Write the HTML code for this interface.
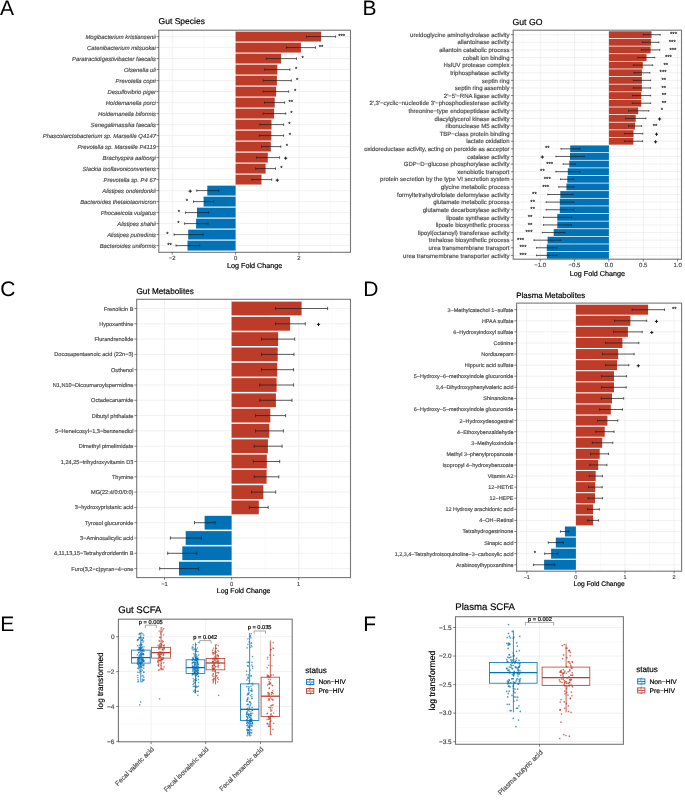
<!DOCTYPE html>
<html><head><meta charset="utf-8"><style>
html,body{margin:0;padding:0;background:#fff;}
body{width:685px;height:810px;overflow:hidden;font-family:"Liberation Sans",sans-serif;}
svg{display:block;will-change:transform;}
text{text-rendering:geometricPrecision;}
</style></head><body>
<svg width="685" height="810" viewBox="0 0 685 810" font-family="Liberation Sans, sans-serif">
<rect width="685" height="810" fill="#fff"/>
<line x1="203.9" y1="30.2" x2="203.9" y2="252.3" stroke="#F3F3F3" stroke-width="0.5"/>
<line x1="267.3" y1="30.2" x2="267.3" y2="252.3" stroke="#F3F3F3" stroke-width="0.5"/>
<line x1="330.7" y1="30.2" x2="330.7" y2="252.3" stroke="#F3F3F3" stroke-width="0.5"/>
<line x1="172.2" y1="30.2" x2="172.2" y2="252.3" stroke="#EBEBEB" stroke-width="0.7"/>
<line x1="235.6" y1="30.2" x2="235.6" y2="252.3" stroke="#EBEBEB" stroke-width="0.7"/>
<line x1="299" y1="30.2" x2="299" y2="252.3" stroke="#EBEBEB" stroke-width="0.7"/>
<line x1="158.8" y1="36.6" x2="350.5" y2="36.6" stroke="#EBEBEB" stroke-width="0.7"/>
<line x1="158.8" y1="47.6" x2="350.5" y2="47.6" stroke="#EBEBEB" stroke-width="0.7"/>
<line x1="158.8" y1="58.6" x2="350.5" y2="58.6" stroke="#EBEBEB" stroke-width="0.7"/>
<line x1="158.8" y1="69.6" x2="350.5" y2="69.6" stroke="#EBEBEB" stroke-width="0.7"/>
<line x1="158.8" y1="80.6" x2="350.5" y2="80.6" stroke="#EBEBEB" stroke-width="0.7"/>
<line x1="158.8" y1="91.6" x2="350.5" y2="91.6" stroke="#EBEBEB" stroke-width="0.7"/>
<line x1="158.8" y1="102.6" x2="350.5" y2="102.6" stroke="#EBEBEB" stroke-width="0.7"/>
<line x1="158.8" y1="113.6" x2="350.5" y2="113.6" stroke="#EBEBEB" stroke-width="0.7"/>
<line x1="158.8" y1="124.6" x2="350.5" y2="124.6" stroke="#EBEBEB" stroke-width="0.7"/>
<line x1="158.8" y1="135.6" x2="350.5" y2="135.6" stroke="#EBEBEB" stroke-width="0.7"/>
<line x1="158.8" y1="146.6" x2="350.5" y2="146.6" stroke="#EBEBEB" stroke-width="0.7"/>
<line x1="158.8" y1="157.6" x2="350.5" y2="157.6" stroke="#EBEBEB" stroke-width="0.7"/>
<line x1="158.8" y1="168.6" x2="350.5" y2="168.6" stroke="#EBEBEB" stroke-width="0.7"/>
<line x1="158.8" y1="179.6" x2="350.5" y2="179.6" stroke="#EBEBEB" stroke-width="0.7"/>
<line x1="158.8" y1="190.6" x2="350.5" y2="190.6" stroke="#EBEBEB" stroke-width="0.7"/>
<line x1="158.8" y1="201.6" x2="350.5" y2="201.6" stroke="#EBEBEB" stroke-width="0.7"/>
<line x1="158.8" y1="212.6" x2="350.5" y2="212.6" stroke="#EBEBEB" stroke-width="0.7"/>
<line x1="158.8" y1="223.6" x2="350.5" y2="223.6" stroke="#EBEBEB" stroke-width="0.7"/>
<line x1="158.8" y1="234.6" x2="350.5" y2="234.6" stroke="#EBEBEB" stroke-width="0.7"/>
<line x1="158.8" y1="245.6" x2="350.5" y2="245.6" stroke="#EBEBEB" stroke-width="0.7"/>
<rect x="235.6" y="31.65" width="85.5" height="9.9" fill="#BC3C29"/>
<rect x="235.6" y="42.65" width="65.3" height="9.9" fill="#BC3C29"/>
<rect x="235.6" y="53.65" width="45.4" height="9.9" fill="#BC3C29"/>
<rect x="235.6" y="64.65" width="41.7" height="9.9" fill="#BC3C29"/>
<rect x="235.6" y="75.65" width="41.3" height="9.9" fill="#BC3C29"/>
<rect x="235.6" y="86.65" width="40.5" height="9.9" fill="#BC3C29"/>
<rect x="235.6" y="97.65" width="39.1" height="9.9" fill="#BC3C29"/>
<rect x="235.6" y="108.65" width="38.5" height="9.9" fill="#BC3C29"/>
<rect x="235.6" y="119.65" width="35.9" height="9.9" fill="#BC3C29"/>
<rect x="235.6" y="130.65" width="35.7" height="9.9" fill="#BC3C29"/>
<rect x="235.6" y="141.65" width="35.2" height="9.9" fill="#BC3C29"/>
<rect x="235.6" y="152.65" width="32.2" height="9.9" fill="#BC3C29"/>
<rect x="235.6" y="163.65" width="30" height="9.9" fill="#BC3C29"/>
<rect x="235.6" y="174.65" width="25.9" height="9.9" fill="#BC3C29"/>
<rect x="207.3" y="185.65" width="28.3" height="9.9" fill="#0072B5"/>
<rect x="203.6" y="196.65" width="32" height="9.9" fill="#0072B5"/>
<rect x="197" y="207.65" width="38.6" height="9.9" fill="#0072B5"/>
<rect x="196.1" y="218.65" width="39.5" height="9.9" fill="#0072B5"/>
<rect x="188.2" y="229.65" width="47.4" height="9.9" fill="#0072B5"/>
<rect x="187.5" y="240.65" width="48.1" height="9.9" fill="#0072B5"/>
<line x1="306.5" y1="36.6" x2="335.6" y2="36.6" stroke="#1a1a1a" stroke-width="0.7"/>
<line x1="306.5" y1="35.39" x2="306.5" y2="37.81" stroke="#222" stroke-width="0.7"/>
<line x1="335.6" y1="35.39" x2="335.6" y2="37.81" stroke="#222" stroke-width="0.7"/>
<line x1="286.4" y1="47.6" x2="315.5" y2="47.6" stroke="#1a1a1a" stroke-width="0.7"/>
<line x1="286.4" y1="46.39" x2="286.4" y2="48.81" stroke="#222" stroke-width="0.7"/>
<line x1="315.5" y1="46.39" x2="315.5" y2="48.81" stroke="#222" stroke-width="0.7"/>
<line x1="266.3" y1="58.6" x2="296.5" y2="58.6" stroke="#1a1a1a" stroke-width="0.7"/>
<line x1="266.3" y1="57.39" x2="266.3" y2="59.81" stroke="#222" stroke-width="0.7"/>
<line x1="296.5" y1="57.39" x2="296.5" y2="59.81" stroke="#222" stroke-width="0.7"/>
<line x1="264.7" y1="69.6" x2="289.9" y2="69.6" stroke="#1a1a1a" stroke-width="0.7"/>
<line x1="264.7" y1="68.39" x2="264.7" y2="70.81" stroke="#222" stroke-width="0.7"/>
<line x1="289.9" y1="68.39" x2="289.9" y2="70.81" stroke="#222" stroke-width="0.7"/>
<line x1="263.3" y1="80.6" x2="291.3" y2="80.6" stroke="#1a1a1a" stroke-width="0.7"/>
<line x1="263.3" y1="79.39" x2="263.3" y2="81.81" stroke="#222" stroke-width="0.7"/>
<line x1="291.3" y1="79.39" x2="291.3" y2="81.81" stroke="#222" stroke-width="0.7"/>
<line x1="263.3" y1="91.6" x2="288.7" y2="91.6" stroke="#1a1a1a" stroke-width="0.7"/>
<line x1="263.3" y1="90.39" x2="263.3" y2="92.81" stroke="#222" stroke-width="0.7"/>
<line x1="288.7" y1="90.39" x2="288.7" y2="92.81" stroke="#222" stroke-width="0.7"/>
<line x1="264.5" y1="102.6" x2="284.6" y2="102.6" stroke="#1a1a1a" stroke-width="0.7"/>
<line x1="264.5" y1="101.39" x2="264.5" y2="103.81" stroke="#222" stroke-width="0.7"/>
<line x1="284.6" y1="101.39" x2="284.6" y2="103.81" stroke="#222" stroke-width="0.7"/>
<line x1="263.3" y1="113.6" x2="285.7" y2="113.6" stroke="#1a1a1a" stroke-width="0.7"/>
<line x1="263.3" y1="112.39" x2="263.3" y2="114.81" stroke="#222" stroke-width="0.7"/>
<line x1="285.7" y1="112.39" x2="285.7" y2="114.81" stroke="#222" stroke-width="0.7"/>
<line x1="259.8" y1="124.6" x2="283.6" y2="124.6" stroke="#1a1a1a" stroke-width="0.7"/>
<line x1="259.8" y1="123.39" x2="259.8" y2="125.81" stroke="#222" stroke-width="0.7"/>
<line x1="283.6" y1="123.39" x2="283.6" y2="125.81" stroke="#222" stroke-width="0.7"/>
<line x1="259.4" y1="135.6" x2="283.6" y2="135.6" stroke="#1a1a1a" stroke-width="0.7"/>
<line x1="259.4" y1="134.39" x2="259.4" y2="136.81" stroke="#222" stroke-width="0.7"/>
<line x1="283.6" y1="134.39" x2="283.6" y2="136.81" stroke="#222" stroke-width="0.7"/>
<line x1="261.5" y1="146.6" x2="280.8" y2="146.6" stroke="#1a1a1a" stroke-width="0.7"/>
<line x1="261.5" y1="145.39" x2="261.5" y2="147.81" stroke="#222" stroke-width="0.7"/>
<line x1="280.8" y1="145.39" x2="280.8" y2="147.81" stroke="#222" stroke-width="0.7"/>
<line x1="256.6" y1="157.6" x2="279.6" y2="157.6" stroke="#1a1a1a" stroke-width="0.7"/>
<line x1="256.6" y1="156.39" x2="256.6" y2="158.81" stroke="#222" stroke-width="0.7"/>
<line x1="279.6" y1="156.39" x2="279.6" y2="158.81" stroke="#222" stroke-width="0.7"/>
<line x1="255.7" y1="168.6" x2="275.5" y2="168.6" stroke="#1a1a1a" stroke-width="0.7"/>
<line x1="255.7" y1="167.39" x2="255.7" y2="169.81" stroke="#222" stroke-width="0.7"/>
<line x1="275.5" y1="167.39" x2="275.5" y2="169.81" stroke="#222" stroke-width="0.7"/>
<line x1="251.9" y1="179.6" x2="271.7" y2="179.6" stroke="#1a1a1a" stroke-width="0.7"/>
<line x1="251.9" y1="178.39" x2="251.9" y2="180.81" stroke="#222" stroke-width="0.7"/>
<line x1="271.7" y1="178.39" x2="271.7" y2="180.81" stroke="#222" stroke-width="0.7"/>
<line x1="196.7" y1="190.6" x2="218.7" y2="190.6" stroke="#1a1a1a" stroke-width="0.7"/>
<line x1="196.7" y1="189.39" x2="196.7" y2="191.81" stroke="#222" stroke-width="0.7"/>
<line x1="218.7" y1="189.39" x2="218.7" y2="191.81" stroke="#222" stroke-width="0.7"/>
<line x1="193.5" y1="201.6" x2="213.7" y2="201.6" stroke="#1a1a1a" stroke-width="0.7"/>
<line x1="193.5" y1="200.39" x2="193.5" y2="202.81" stroke="#222" stroke-width="0.7"/>
<line x1="213.7" y1="200.39" x2="213.7" y2="202.81" stroke="#222" stroke-width="0.7"/>
<line x1="185.5" y1="212.6" x2="208.6" y2="212.6" stroke="#1a1a1a" stroke-width="0.7"/>
<line x1="185.5" y1="211.39" x2="185.5" y2="213.81" stroke="#222" stroke-width="0.7"/>
<line x1="208.6" y1="211.39" x2="208.6" y2="213.81" stroke="#222" stroke-width="0.7"/>
<line x1="184.6" y1="223.6" x2="208" y2="223.6" stroke="#1a1a1a" stroke-width="0.7"/>
<line x1="184.6" y1="222.39" x2="184.6" y2="224.81" stroke="#222" stroke-width="0.7"/>
<line x1="208" y1="222.39" x2="208" y2="224.81" stroke="#222" stroke-width="0.7"/>
<line x1="174.1" y1="234.6" x2="203.2" y2="234.6" stroke="#1a1a1a" stroke-width="0.7"/>
<line x1="174.1" y1="233.39" x2="174.1" y2="235.81" stroke="#222" stroke-width="0.7"/>
<line x1="203.2" y1="233.39" x2="203.2" y2="235.81" stroke="#222" stroke-width="0.7"/>
<line x1="176" y1="245.6" x2="199.7" y2="245.6" stroke="#1a1a1a" stroke-width="0.7"/>
<line x1="176" y1="244.39" x2="176" y2="246.81" stroke="#222" stroke-width="0.7"/>
<line x1="199.7" y1="244.39" x2="199.7" y2="246.81" stroke="#222" stroke-width="0.7"/>
<text x="341.7" y="38.22" font-size="6" text-anchor="middle" fill="#000" stroke="#000" stroke-width="0.12">***</text>
<text x="321" y="49.22" font-size="6" text-anchor="middle" fill="#000" stroke="#000" stroke-width="0.12">**</text>
<text x="302.7" y="60.22" font-size="6" text-anchor="middle" fill="#000" stroke="#000" stroke-width="0.12">*</text>
<text x="296.2" y="71.22" font-size="6" text-anchor="middle" fill="#000" stroke="#000" stroke-width="0.12">*</text>
<text x="297.1" y="82.22" font-size="6" text-anchor="middle" fill="#000" stroke="#000" stroke-width="0.12">*</text>
<text x="295.1" y="93.22" font-size="6" text-anchor="middle" fill="#000" stroke="#000" stroke-width="0.12">*</text>
<text x="290.8" y="104.22" font-size="6" text-anchor="middle" fill="#000" stroke="#000" stroke-width="0.12">**</text>
<text x="291.3" y="115.22" font-size="6" text-anchor="middle" fill="#000" stroke="#000" stroke-width="0.12">*</text>
<text x="289.5" y="126.22" font-size="6" text-anchor="middle" fill="#000" stroke="#000" stroke-width="0.12">*</text>
<text x="289.9" y="137.22" font-size="6" text-anchor="middle" fill="#000" stroke="#000" stroke-width="0.12">*</text>
<text x="286.9" y="148.22" font-size="6" text-anchor="middle" fill="#000" stroke="#000" stroke-width="0.12">*</text>
<path d="M284.1,158.2 H287.3 M285.7,156.6 V159.8" stroke="#111" stroke-width="0.95" fill="none"/>
<text x="281.5" y="170.22" font-size="6" text-anchor="middle" fill="#000" stroke="#000" stroke-width="0.12">*</text>
<path d="M275.7,180.2 H278.9 M277.3,178.6 V181.8" stroke="#111" stroke-width="0.95" fill="none"/>
<path d="M188.6,191.2 H191.8 M190.2,189.6 V192.8" stroke="#111" stroke-width="0.95" fill="none"/>
<text x="186.9" y="203.22" font-size="6" text-anchor="middle" fill="#000" stroke="#000" stroke-width="0.12">*</text>
<text x="179" y="214.22" font-size="6" text-anchor="middle" fill="#000" stroke="#000" stroke-width="0.12">*</text>
<text x="178.3" y="225.22" font-size="6" text-anchor="middle" fill="#000" stroke="#000" stroke-width="0.12">*</text>
<text x="167.5" y="236.22" font-size="6" text-anchor="middle" fill="#000" stroke="#000" stroke-width="0.12">*</text>
<text x="169.6" y="247.22" font-size="6" text-anchor="middle" fill="#000" stroke="#000" stroke-width="0.12">**</text>
<rect x="158.8" y="30.2" width="191.7" height="222.1" fill="none" stroke="#777" stroke-width="1.1"/>
<line x1="156.5" y1="36.6" x2="158.8" y2="36.6" stroke="#333" stroke-width="0.6"/>
<text x="155.9" y="38.71" font-size="5.85" text-anchor="end" fill="#4D4D4D" stroke="#4D4D4D" stroke-width="0.18" font-style="italic">Mogibacterium kristiansenii</text>
<line x1="156.5" y1="47.6" x2="158.8" y2="47.6" stroke="#333" stroke-width="0.6"/>
<text x="155.9" y="49.71" font-size="5.85" text-anchor="end" fill="#4D4D4D" stroke="#4D4D4D" stroke-width="0.18" font-style="italic">Catenibacterium mitsuokai</text>
<line x1="156.5" y1="58.6" x2="158.8" y2="58.6" stroke="#333" stroke-width="0.6"/>
<text x="155.9" y="60.71" font-size="5.85" text-anchor="end" fill="#4D4D4D" stroke="#4D4D4D" stroke-width="0.18" font-style="italic">Paratractidigestivibacter faecalis</text>
<line x1="156.5" y1="69.6" x2="158.8" y2="69.6" stroke="#333" stroke-width="0.6"/>
<text x="155.9" y="71.71" font-size="5.85" text-anchor="end" fill="#4D4D4D" stroke="#4D4D4D" stroke-width="0.18" font-style="italic">Olsenella uli</text>
<line x1="156.5" y1="80.6" x2="158.8" y2="80.6" stroke="#333" stroke-width="0.6"/>
<text x="155.9" y="82.71" font-size="5.85" text-anchor="end" fill="#4D4D4D" stroke="#4D4D4D" stroke-width="0.18" font-style="italic">Prevotella copri</text>
<line x1="156.5" y1="91.6" x2="158.8" y2="91.6" stroke="#333" stroke-width="0.6"/>
<text x="155.9" y="93.71" font-size="5.85" text-anchor="end" fill="#4D4D4D" stroke="#4D4D4D" stroke-width="0.18" font-style="italic">Desulfovibrio piger</text>
<line x1="156.5" y1="102.6" x2="158.8" y2="102.6" stroke="#333" stroke-width="0.6"/>
<text x="155.9" y="104.71" font-size="5.85" text-anchor="end" fill="#4D4D4D" stroke="#4D4D4D" stroke-width="0.18" font-style="italic">Holdemanella porci</text>
<line x1="156.5" y1="113.6" x2="158.8" y2="113.6" stroke="#333" stroke-width="0.6"/>
<text x="155.9" y="115.71" font-size="5.85" text-anchor="end" fill="#4D4D4D" stroke="#4D4D4D" stroke-width="0.18" font-style="italic">Holdemanella biformis</text>
<line x1="156.5" y1="124.6" x2="158.8" y2="124.6" stroke="#333" stroke-width="0.6"/>
<text x="155.9" y="126.71" font-size="5.85" text-anchor="end" fill="#4D4D4D" stroke="#4D4D4D" stroke-width="0.18" font-style="italic">Senegalimassilia faecalis</text>
<line x1="156.5" y1="135.6" x2="158.8" y2="135.6" stroke="#333" stroke-width="0.6"/>
<text x="155.9" y="137.71" font-size="5.85" text-anchor="end" fill="#4D4D4D" stroke="#4D4D4D" stroke-width="0.18" font-style="italic">Phascolarctobacterium sp. Marseille Q4147</text>
<line x1="156.5" y1="146.6" x2="158.8" y2="146.6" stroke="#333" stroke-width="0.6"/>
<text x="155.9" y="148.71" font-size="5.85" text-anchor="end" fill="#4D4D4D" stroke="#4D4D4D" stroke-width="0.18" font-style="italic">Prevotella sp. Marseille P4119</text>
<line x1="156.5" y1="157.6" x2="158.8" y2="157.6" stroke="#333" stroke-width="0.6"/>
<text x="155.9" y="159.71" font-size="5.85" text-anchor="end" fill="#4D4D4D" stroke="#4D4D4D" stroke-width="0.18" font-style="italic">Brachyspira aalborgi</text>
<line x1="156.5" y1="168.6" x2="158.8" y2="168.6" stroke="#333" stroke-width="0.6"/>
<text x="155.9" y="170.71" font-size="5.85" text-anchor="end" fill="#4D4D4D" stroke="#4D4D4D" stroke-width="0.18" font-style="italic">Slackia isoflavoniconvertens</text>
<line x1="156.5" y1="179.6" x2="158.8" y2="179.6" stroke="#333" stroke-width="0.6"/>
<text x="155.9" y="181.71" font-size="5.85" text-anchor="end" fill="#4D4D4D" stroke="#4D4D4D" stroke-width="0.18" font-style="italic">Prevotella sp. P4 67</text>
<line x1="156.5" y1="190.6" x2="158.8" y2="190.6" stroke="#333" stroke-width="0.6"/>
<text x="155.9" y="192.71" font-size="5.85" text-anchor="end" fill="#4D4D4D" stroke="#4D4D4D" stroke-width="0.18" font-style="italic">Alistipes onderdonkii</text>
<line x1="156.5" y1="201.6" x2="158.8" y2="201.6" stroke="#333" stroke-width="0.6"/>
<text x="155.9" y="203.71" font-size="5.85" text-anchor="end" fill="#4D4D4D" stroke="#4D4D4D" stroke-width="0.18" font-style="italic">Bacteroides thetaiotaomicron</text>
<line x1="156.5" y1="212.6" x2="158.8" y2="212.6" stroke="#333" stroke-width="0.6"/>
<text x="155.9" y="214.71" font-size="5.85" text-anchor="end" fill="#4D4D4D" stroke="#4D4D4D" stroke-width="0.18" font-style="italic">Phocaeicola vulgatus</text>
<line x1="156.5" y1="223.6" x2="158.8" y2="223.6" stroke="#333" stroke-width="0.6"/>
<text x="155.9" y="225.71" font-size="5.85" text-anchor="end" fill="#4D4D4D" stroke="#4D4D4D" stroke-width="0.18" font-style="italic">Alistipes shahii</text>
<line x1="156.5" y1="234.6" x2="158.8" y2="234.6" stroke="#333" stroke-width="0.6"/>
<text x="155.9" y="236.71" font-size="5.85" text-anchor="end" fill="#4D4D4D" stroke="#4D4D4D" stroke-width="0.18" font-style="italic">Alistipes putredinis</text>
<line x1="156.5" y1="245.6" x2="158.8" y2="245.6" stroke="#333" stroke-width="0.6"/>
<text x="155.9" y="247.71" font-size="5.85" text-anchor="end" fill="#4D4D4D" stroke="#4D4D4D" stroke-width="0.18" font-style="italic">Bacteroides uniformis</text>
<line x1="172.2" y1="252.3" x2="172.2" y2="254.6" stroke="#333" stroke-width="0.6"/>
<text x="172.2" y="259.9" font-size="5.9" text-anchor="middle" fill="#4D4D4D" stroke="#4D4D4D" stroke-width="0.18">−2</text>
<line x1="235.6" y1="252.3" x2="235.6" y2="254.6" stroke="#333" stroke-width="0.6"/>
<text x="235.6" y="259.9" font-size="5.9" text-anchor="middle" fill="#4D4D4D" stroke="#4D4D4D" stroke-width="0.18">0</text>
<line x1="299" y1="252.3" x2="299" y2="254.6" stroke="#333" stroke-width="0.6"/>
<text x="299" y="259.9" font-size="5.9" text-anchor="middle" fill="#4D4D4D" stroke="#4D4D4D" stroke-width="0.18">2</text>
<text x="254.65" y="267.6" font-size="7.2" text-anchor="middle" fill="#000" stroke="#000" stroke-width="0.18">Log Fold Change</text>
<text x="158.6" y="24.3" font-size="8.5" text-anchor="start" fill="#000" stroke="#000" stroke-width="0.18">Gut Species</text>
<line x1="523.02" y1="30.2" x2="523.02" y2="259.2" stroke="#F3F3F3" stroke-width="0.5"/>
<line x1="557.38" y1="30.2" x2="557.38" y2="259.2" stroke="#F3F3F3" stroke-width="0.5"/>
<line x1="591.73" y1="30.2" x2="591.73" y2="259.2" stroke="#F3F3F3" stroke-width="0.5"/>
<line x1="626.07" y1="30.2" x2="626.07" y2="259.2" stroke="#F3F3F3" stroke-width="0.5"/>
<line x1="660.42" y1="30.2" x2="660.42" y2="259.2" stroke="#F3F3F3" stroke-width="0.5"/>
<line x1="540.2" y1="30.2" x2="540.2" y2="259.2" stroke="#EBEBEB" stroke-width="0.7"/>
<line x1="574.55" y1="30.2" x2="574.55" y2="259.2" stroke="#EBEBEB" stroke-width="0.7"/>
<line x1="608.9" y1="30.2" x2="608.9" y2="259.2" stroke="#EBEBEB" stroke-width="0.7"/>
<line x1="643.25" y1="30.2" x2="643.25" y2="259.2" stroke="#EBEBEB" stroke-width="0.7"/>
<line x1="677.6" y1="30.2" x2="677.6" y2="259.2" stroke="#EBEBEB" stroke-width="0.7"/>
<line x1="513.2" y1="34.7" x2="681.5" y2="34.7" stroke="#EBEBEB" stroke-width="0.7"/>
<line x1="513.2" y1="42.31" x2="681.5" y2="42.31" stroke="#EBEBEB" stroke-width="0.7"/>
<line x1="513.2" y1="49.92" x2="681.5" y2="49.92" stroke="#EBEBEB" stroke-width="0.7"/>
<line x1="513.2" y1="57.53" x2="681.5" y2="57.53" stroke="#EBEBEB" stroke-width="0.7"/>
<line x1="513.2" y1="65.14" x2="681.5" y2="65.14" stroke="#EBEBEB" stroke-width="0.7"/>
<line x1="513.2" y1="72.75" x2="681.5" y2="72.75" stroke="#EBEBEB" stroke-width="0.7"/>
<line x1="513.2" y1="80.36" x2="681.5" y2="80.36" stroke="#EBEBEB" stroke-width="0.7"/>
<line x1="513.2" y1="87.97" x2="681.5" y2="87.97" stroke="#EBEBEB" stroke-width="0.7"/>
<line x1="513.2" y1="95.58" x2="681.5" y2="95.58" stroke="#EBEBEB" stroke-width="0.7"/>
<line x1="513.2" y1="103.19" x2="681.5" y2="103.19" stroke="#EBEBEB" stroke-width="0.7"/>
<line x1="513.2" y1="110.8" x2="681.5" y2="110.8" stroke="#EBEBEB" stroke-width="0.7"/>
<line x1="513.2" y1="118.41" x2="681.5" y2="118.41" stroke="#EBEBEB" stroke-width="0.7"/>
<line x1="513.2" y1="126.02" x2="681.5" y2="126.02" stroke="#EBEBEB" stroke-width="0.7"/>
<line x1="513.2" y1="133.63" x2="681.5" y2="133.63" stroke="#EBEBEB" stroke-width="0.7"/>
<line x1="513.2" y1="141.24" x2="681.5" y2="141.24" stroke="#EBEBEB" stroke-width="0.7"/>
<line x1="513.2" y1="148.85" x2="681.5" y2="148.85" stroke="#EBEBEB" stroke-width="0.7"/>
<line x1="513.2" y1="156.46" x2="681.5" y2="156.46" stroke="#EBEBEB" stroke-width="0.7"/>
<line x1="513.2" y1="164.07" x2="681.5" y2="164.07" stroke="#EBEBEB" stroke-width="0.7"/>
<line x1="513.2" y1="171.68" x2="681.5" y2="171.68" stroke="#EBEBEB" stroke-width="0.7"/>
<line x1="513.2" y1="179.29" x2="681.5" y2="179.29" stroke="#EBEBEB" stroke-width="0.7"/>
<line x1="513.2" y1="186.9" x2="681.5" y2="186.9" stroke="#EBEBEB" stroke-width="0.7"/>
<line x1="513.2" y1="194.51" x2="681.5" y2="194.51" stroke="#EBEBEB" stroke-width="0.7"/>
<line x1="513.2" y1="202.12" x2="681.5" y2="202.12" stroke="#EBEBEB" stroke-width="0.7"/>
<line x1="513.2" y1="209.73" x2="681.5" y2="209.73" stroke="#EBEBEB" stroke-width="0.7"/>
<line x1="513.2" y1="217.34" x2="681.5" y2="217.34" stroke="#EBEBEB" stroke-width="0.7"/>
<line x1="513.2" y1="224.95" x2="681.5" y2="224.95" stroke="#EBEBEB" stroke-width="0.7"/>
<line x1="513.2" y1="232.56" x2="681.5" y2="232.56" stroke="#EBEBEB" stroke-width="0.7"/>
<line x1="513.2" y1="240.17" x2="681.5" y2="240.17" stroke="#EBEBEB" stroke-width="0.7"/>
<line x1="513.2" y1="247.78" x2="681.5" y2="247.78" stroke="#EBEBEB" stroke-width="0.7"/>
<line x1="513.2" y1="255.39" x2="681.5" y2="255.39" stroke="#EBEBEB" stroke-width="0.7"/>
<rect x="608.9" y="31.28" width="42.6" height="6.85" fill="#BC3C29"/>
<rect x="608.9" y="38.89" width="42" height="6.85" fill="#BC3C29"/>
<rect x="608.9" y="46.5" width="41.7" height="6.85" fill="#BC3C29"/>
<rect x="608.9" y="54.11" width="37.6" height="6.85" fill="#BC3C29"/>
<rect x="608.9" y="61.72" width="33.9" height="6.85" fill="#BC3C29"/>
<rect x="608.9" y="69.33" width="33" height="6.85" fill="#BC3C29"/>
<rect x="608.9" y="76.94" width="33" height="6.85" fill="#BC3C29"/>
<rect x="608.9" y="84.55" width="33" height="6.85" fill="#BC3C29"/>
<rect x="608.9" y="92.16" width="32.3" height="6.85" fill="#BC3C29"/>
<rect x="608.9" y="99.77" width="32.3" height="6.85" fill="#BC3C29"/>
<rect x="608.9" y="107.38" width="29.3" height="6.85" fill="#BC3C29"/>
<rect x="608.9" y="114.99" width="26.8" height="6.85" fill="#BC3C29"/>
<rect x="608.9" y="122.6" width="26.1" height="6.85" fill="#BC3C29"/>
<rect x="608.9" y="130.21" width="24.6" height="6.85" fill="#BC3C29"/>
<rect x="608.9" y="137.82" width="24.4" height="6.85" fill="#BC3C29"/>
<rect x="570.2" y="145.43" width="38.7" height="6.85" fill="#0072B5"/>
<rect x="570" y="153.04" width="38.9" height="6.85" fill="#0072B5"/>
<rect x="569.3" y="160.65" width="39.6" height="6.85" fill="#0072B5"/>
<rect x="567.8" y="168.26" width="41.1" height="6.85" fill="#0072B5"/>
<rect x="567.3" y="175.87" width="41.6" height="6.85" fill="#0072B5"/>
<rect x="566.4" y="183.48" width="42.5" height="6.85" fill="#0072B5"/>
<rect x="560.3" y="191.09" width="48.6" height="6.85" fill="#0072B5"/>
<rect x="559.8" y="198.7" width="49.1" height="6.85" fill="#0072B5"/>
<rect x="559.8" y="206.31" width="49.1" height="6.85" fill="#0072B5"/>
<rect x="557.3" y="213.92" width="51.6" height="6.85" fill="#0072B5"/>
<rect x="557.3" y="221.53" width="51.6" height="6.85" fill="#0072B5"/>
<rect x="553.7" y="229.14" width="55.2" height="6.85" fill="#0072B5"/>
<rect x="547.6" y="236.75" width="61.3" height="6.85" fill="#0072B5"/>
<rect x="546.8" y="244.36" width="62.1" height="6.85" fill="#0072B5"/>
<rect x="546.8" y="251.97" width="62.1" height="6.85" fill="#0072B5"/>
<line x1="643.4" y1="34.7" x2="660.2" y2="34.7" stroke="#1a1a1a" stroke-width="0.7"/>
<line x1="643.4" y1="33.86" x2="643.4" y2="35.54" stroke="#222" stroke-width="0.7"/>
<line x1="660.2" y1="33.86" x2="660.2" y2="35.54" stroke="#222" stroke-width="0.7"/>
<line x1="642.4" y1="42.31" x2="658.9" y2="42.31" stroke="#1a1a1a" stroke-width="0.7"/>
<line x1="642.4" y1="41.47" x2="642.4" y2="43.15" stroke="#222" stroke-width="0.7"/>
<line x1="658.9" y1="41.47" x2="658.9" y2="43.15" stroke="#222" stroke-width="0.7"/>
<line x1="641.3" y1="49.92" x2="659.8" y2="49.92" stroke="#1a1a1a" stroke-width="0.7"/>
<line x1="641.3" y1="49.08" x2="641.3" y2="50.76" stroke="#222" stroke-width="0.7"/>
<line x1="659.8" y1="49.08" x2="659.8" y2="50.76" stroke="#222" stroke-width="0.7"/>
<line x1="637.8" y1="57.53" x2="654.8" y2="57.53" stroke="#1a1a1a" stroke-width="0.7"/>
<line x1="637.8" y1="56.69" x2="637.8" y2="58.37" stroke="#222" stroke-width="0.7"/>
<line x1="654.8" y1="56.69" x2="654.8" y2="58.37" stroke="#222" stroke-width="0.7"/>
<line x1="633.3" y1="65.14" x2="652.7" y2="65.14" stroke="#1a1a1a" stroke-width="0.7"/>
<line x1="633.3" y1="64.3" x2="633.3" y2="65.98" stroke="#222" stroke-width="0.7"/>
<line x1="652.7" y1="64.3" x2="652.7" y2="65.98" stroke="#222" stroke-width="0.7"/>
<line x1="634.1" y1="72.75" x2="649.9" y2="72.75" stroke="#1a1a1a" stroke-width="0.7"/>
<line x1="634.1" y1="71.91" x2="634.1" y2="73.59" stroke="#222" stroke-width="0.7"/>
<line x1="649.9" y1="71.91" x2="649.9" y2="73.59" stroke="#222" stroke-width="0.7"/>
<line x1="633.3" y1="80.36" x2="650.6" y2="80.36" stroke="#1a1a1a" stroke-width="0.7"/>
<line x1="633.3" y1="79.52" x2="633.3" y2="81.2" stroke="#222" stroke-width="0.7"/>
<line x1="650.6" y1="79.52" x2="650.6" y2="81.2" stroke="#222" stroke-width="0.7"/>
<line x1="633.3" y1="87.97" x2="650.6" y2="87.97" stroke="#1a1a1a" stroke-width="0.7"/>
<line x1="633.3" y1="87.13" x2="633.3" y2="88.81" stroke="#222" stroke-width="0.7"/>
<line x1="650.6" y1="87.13" x2="650.6" y2="88.81" stroke="#222" stroke-width="0.7"/>
<line x1="632.5" y1="95.58" x2="650.6" y2="95.58" stroke="#1a1a1a" stroke-width="0.7"/>
<line x1="632.5" y1="94.74" x2="632.5" y2="96.42" stroke="#222" stroke-width="0.7"/>
<line x1="650.6" y1="94.74" x2="650.6" y2="96.42" stroke="#222" stroke-width="0.7"/>
<line x1="632.3" y1="103.19" x2="650.6" y2="103.19" stroke="#1a1a1a" stroke-width="0.7"/>
<line x1="632.3" y1="102.35" x2="632.3" y2="104.03" stroke="#222" stroke-width="0.7"/>
<line x1="650.6" y1="102.35" x2="650.6" y2="104.03" stroke="#222" stroke-width="0.7"/>
<line x1="628.5" y1="110.8" x2="648.8" y2="110.8" stroke="#1a1a1a" stroke-width="0.7"/>
<line x1="628.5" y1="109.96" x2="628.5" y2="111.64" stroke="#222" stroke-width="0.7"/>
<line x1="648.8" y1="109.96" x2="648.8" y2="111.64" stroke="#222" stroke-width="0.7"/>
<line x1="625.4" y1="118.41" x2="645.9" y2="118.41" stroke="#1a1a1a" stroke-width="0.7"/>
<line x1="625.4" y1="117.57" x2="625.4" y2="119.25" stroke="#222" stroke-width="0.7"/>
<line x1="645.9" y1="117.57" x2="645.9" y2="119.25" stroke="#222" stroke-width="0.7"/>
<line x1="628.5" y1="126.02" x2="641.6" y2="126.02" stroke="#1a1a1a" stroke-width="0.7"/>
<line x1="628.5" y1="125.18" x2="628.5" y2="126.86" stroke="#222" stroke-width="0.7"/>
<line x1="641.6" y1="125.18" x2="641.6" y2="126.86" stroke="#222" stroke-width="0.7"/>
<line x1="624.4" y1="133.63" x2="642.8" y2="133.63" stroke="#1a1a1a" stroke-width="0.7"/>
<line x1="624.4" y1="132.79" x2="624.4" y2="134.47" stroke="#222" stroke-width="0.7"/>
<line x1="642.8" y1="132.79" x2="642.8" y2="134.47" stroke="#222" stroke-width="0.7"/>
<line x1="624.4" y1="141.24" x2="642.6" y2="141.24" stroke="#1a1a1a" stroke-width="0.7"/>
<line x1="624.4" y1="140.4" x2="624.4" y2="142.08" stroke="#222" stroke-width="0.7"/>
<line x1="642.6" y1="140.4" x2="642.6" y2="142.08" stroke="#222" stroke-width="0.7"/>
<line x1="561" y1="148.85" x2="580" y2="148.85" stroke="#1a1a1a" stroke-width="0.7"/>
<line x1="561" y1="148.01" x2="561" y2="149.69" stroke="#222" stroke-width="0.7"/>
<line x1="580" y1="148.01" x2="580" y2="149.69" stroke="#222" stroke-width="0.7"/>
<line x1="555.9" y1="156.46" x2="584.3" y2="156.46" stroke="#1a1a1a" stroke-width="0.7"/>
<line x1="555.9" y1="155.62" x2="555.9" y2="157.3" stroke="#222" stroke-width="0.7"/>
<line x1="584.3" y1="155.62" x2="584.3" y2="157.3" stroke="#222" stroke-width="0.7"/>
<line x1="563.2" y1="164.07" x2="575.3" y2="164.07" stroke="#1a1a1a" stroke-width="0.7"/>
<line x1="563.2" y1="163.23" x2="563.2" y2="164.91" stroke="#222" stroke-width="0.7"/>
<line x1="575.3" y1="163.23" x2="575.3" y2="164.91" stroke="#222" stroke-width="0.7"/>
<line x1="555.9" y1="171.68" x2="580" y2="171.68" stroke="#1a1a1a" stroke-width="0.7"/>
<line x1="555.9" y1="170.84" x2="555.9" y2="172.52" stroke="#222" stroke-width="0.7"/>
<line x1="580" y1="170.84" x2="580" y2="172.52" stroke="#222" stroke-width="0.7"/>
<line x1="560.5" y1="179.29" x2="573.7" y2="179.29" stroke="#1a1a1a" stroke-width="0.7"/>
<line x1="560.5" y1="178.45" x2="560.5" y2="180.13" stroke="#222" stroke-width="0.7"/>
<line x1="573.7" y1="178.45" x2="573.7" y2="180.13" stroke="#222" stroke-width="0.7"/>
<line x1="558.8" y1="186.9" x2="573.8" y2="186.9" stroke="#1a1a1a" stroke-width="0.7"/>
<line x1="558.8" y1="186.06" x2="558.8" y2="187.74" stroke="#222" stroke-width="0.7"/>
<line x1="573.8" y1="186.06" x2="573.8" y2="187.74" stroke="#222" stroke-width="0.7"/>
<line x1="547.8" y1="194.51" x2="573" y2="194.51" stroke="#1a1a1a" stroke-width="0.7"/>
<line x1="547.8" y1="193.67" x2="547.8" y2="195.35" stroke="#222" stroke-width="0.7"/>
<line x1="573" y1="193.67" x2="573" y2="195.35" stroke="#222" stroke-width="0.7"/>
<line x1="546.1" y1="202.12" x2="573.7" y2="202.12" stroke="#1a1a1a" stroke-width="0.7"/>
<line x1="546.1" y1="201.28" x2="546.1" y2="202.96" stroke="#222" stroke-width="0.7"/>
<line x1="573.7" y1="201.28" x2="573.7" y2="202.96" stroke="#222" stroke-width="0.7"/>
<line x1="546.1" y1="209.73" x2="573.7" y2="209.73" stroke="#1a1a1a" stroke-width="0.7"/>
<line x1="546.1" y1="208.89" x2="546.1" y2="210.57" stroke="#222" stroke-width="0.7"/>
<line x1="573.7" y1="208.89" x2="573.7" y2="210.57" stroke="#222" stroke-width="0.7"/>
<line x1="543.5" y1="217.34" x2="571.6" y2="217.34" stroke="#1a1a1a" stroke-width="0.7"/>
<line x1="543.5" y1="216.5" x2="543.5" y2="218.18" stroke="#222" stroke-width="0.7"/>
<line x1="571.6" y1="216.5" x2="571.6" y2="218.18" stroke="#222" stroke-width="0.7"/>
<line x1="543.5" y1="224.95" x2="571.6" y2="224.95" stroke="#1a1a1a" stroke-width="0.7"/>
<line x1="543.5" y1="224.11" x2="543.5" y2="225.79" stroke="#222" stroke-width="0.7"/>
<line x1="571.6" y1="224.11" x2="571.6" y2="225.79" stroke="#222" stroke-width="0.7"/>
<line x1="542.3" y1="232.56" x2="564.9" y2="232.56" stroke="#1a1a1a" stroke-width="0.7"/>
<line x1="542.3" y1="231.72" x2="542.3" y2="233.4" stroke="#222" stroke-width="0.7"/>
<line x1="564.9" y1="231.72" x2="564.9" y2="233.4" stroke="#222" stroke-width="0.7"/>
<line x1="534" y1="240.17" x2="561" y2="240.17" stroke="#1a1a1a" stroke-width="0.7"/>
<line x1="534" y1="239.33" x2="534" y2="241.01" stroke="#222" stroke-width="0.7"/>
<line x1="561" y1="239.33" x2="561" y2="241.01" stroke="#222" stroke-width="0.7"/>
<line x1="536.5" y1="247.78" x2="557" y2="247.78" stroke="#1a1a1a" stroke-width="0.7"/>
<line x1="536.5" y1="246.94" x2="536.5" y2="248.62" stroke="#222" stroke-width="0.7"/>
<line x1="557" y1="246.94" x2="557" y2="248.62" stroke="#222" stroke-width="0.7"/>
<line x1="536.5" y1="255.39" x2="557" y2="255.39" stroke="#1a1a1a" stroke-width="0.7"/>
<line x1="536.5" y1="254.55" x2="536.5" y2="256.23" stroke="#222" stroke-width="0.7"/>
<line x1="557" y1="254.55" x2="557" y2="256.23" stroke="#222" stroke-width="0.7"/>
<text x="673.5" y="36.32" font-size="6" text-anchor="middle" fill="#000" stroke="#000" stroke-width="0.12">***</text>
<text x="672.3" y="43.93" font-size="6" text-anchor="middle" fill="#000" stroke="#000" stroke-width="0.12">***</text>
<text x="672.9" y="51.54" font-size="6" text-anchor="middle" fill="#000" stroke="#000" stroke-width="0.12">***</text>
<text x="668.4" y="59.15" font-size="6" text-anchor="middle" fill="#000" stroke="#000" stroke-width="0.12">***</text>
<text x="665.8" y="66.76" font-size="6" text-anchor="middle" fill="#000" stroke="#000" stroke-width="0.12">**</text>
<text x="663.1" y="74.37" font-size="6" text-anchor="middle" fill="#000" stroke="#000" stroke-width="0.12">***</text>
<text x="663.8" y="81.98" font-size="6" text-anchor="middle" fill="#000" stroke="#000" stroke-width="0.12">**</text>
<text x="663.8" y="89.59" font-size="6" text-anchor="middle" fill="#000" stroke="#000" stroke-width="0.12">**</text>
<text x="664" y="97.2" font-size="6" text-anchor="middle" fill="#000" stroke="#000" stroke-width="0.12">**</text>
<text x="664" y="104.81" font-size="6" text-anchor="middle" fill="#000" stroke="#000" stroke-width="0.12">**</text>
<text x="662" y="112.42" font-size="6" text-anchor="middle" fill="#000" stroke="#000" stroke-width="0.12">*</text>
<path d="M658,119.01 H661.2 M659.6,117.41 V120.61" stroke="#111" stroke-width="0.95" fill="none"/>
<text x="655.1" y="127.64" font-size="6" text-anchor="middle" fill="#000" stroke="#000" stroke-width="0.12">**</text>
<path d="M654.9,134.23 H658.1 M656.5,132.63 V135.83" stroke="#111" stroke-width="0.95" fill="none"/>
<path d="M654,141.84 H657.2 M655.6,140.24 V143.44" stroke="#111" stroke-width="0.95" fill="none"/>
<text x="547.3" y="150.47" font-size="6" text-anchor="middle" fill="#000" stroke="#000" stroke-width="0.12">**</text>
<path d="M540.7,157.06 H543.9 M542.3,155.46 V158.66" stroke="#111" stroke-width="0.95" fill="none"/>
<text x="549.7" y="165.69" font-size="6" text-anchor="middle" fill="#000" stroke="#000" stroke-width="0.12">***</text>
<text x="542.4" y="173.3" font-size="6" text-anchor="middle" fill="#000" stroke="#000" stroke-width="0.12">**</text>
<text x="547.3" y="180.91" font-size="6" text-anchor="middle" fill="#000" stroke="#000" stroke-width="0.12">***</text>
<text x="545.7" y="188.52" font-size="6" text-anchor="middle" fill="#000" stroke="#000" stroke-width="0.12">***</text>
<text x="534.4" y="196.13" font-size="6" text-anchor="middle" fill="#000" stroke="#000" stroke-width="0.12">**</text>
<text x="532.7" y="203.74" font-size="6" text-anchor="middle" fill="#000" stroke="#000" stroke-width="0.12">**</text>
<text x="532.7" y="211.35" font-size="6" text-anchor="middle" fill="#000" stroke="#000" stroke-width="0.12">**</text>
<text x="530" y="218.96" font-size="6" text-anchor="middle" fill="#000" stroke="#000" stroke-width="0.12">**</text>
<text x="530" y="226.57" font-size="6" text-anchor="middle" fill="#000" stroke="#000" stroke-width="0.12">**</text>
<text x="529" y="234.18" font-size="6" text-anchor="middle" fill="#000" stroke="#000" stroke-width="0.12">***</text>
<text x="520.6" y="241.79" font-size="6" text-anchor="middle" fill="#000" stroke="#000" stroke-width="0.12">***</text>
<text x="523" y="249.4" font-size="6" text-anchor="middle" fill="#000" stroke="#000" stroke-width="0.12">***</text>
<text x="523" y="257.01" font-size="6" text-anchor="middle" fill="#000" stroke="#000" stroke-width="0.12">***</text>
<rect x="513.2" y="30.2" width="168.3" height="229" fill="none" stroke="#777" stroke-width="1.1"/>
<line x1="510.9" y1="34.7" x2="513.2" y2="34.7" stroke="#333" stroke-width="0.6"/>
<text x="509.5" y="36.86" font-size="6" text-anchor="end" fill="#4D4D4D" stroke="#4D4D4D" stroke-width="0.18">ureidoglycine aminohydrolase activity</text>
<line x1="510.9" y1="42.31" x2="513.2" y2="42.31" stroke="#333" stroke-width="0.6"/>
<text x="509.5" y="44.47" font-size="6" text-anchor="end" fill="#4D4D4D" stroke="#4D4D4D" stroke-width="0.18">allantoinase activity</text>
<line x1="510.9" y1="49.92" x2="513.2" y2="49.92" stroke="#333" stroke-width="0.6"/>
<text x="509.5" y="52.08" font-size="6" text-anchor="end" fill="#4D4D4D" stroke="#4D4D4D" stroke-width="0.18">allantoin catabolic process</text>
<line x1="510.9" y1="57.53" x2="513.2" y2="57.53" stroke="#333" stroke-width="0.6"/>
<text x="509.5" y="59.69" font-size="6" text-anchor="end" fill="#4D4D4D" stroke="#4D4D4D" stroke-width="0.18">cobalt ion binding</text>
<line x1="510.9" y1="65.14" x2="513.2" y2="65.14" stroke="#333" stroke-width="0.6"/>
<text x="509.5" y="67.3" font-size="6" text-anchor="end" fill="#4D4D4D" stroke="#4D4D4D" stroke-width="0.18">HslUV protease complex</text>
<line x1="510.9" y1="72.75" x2="513.2" y2="72.75" stroke="#333" stroke-width="0.6"/>
<text x="509.5" y="74.91" font-size="6" text-anchor="end" fill="#4D4D4D" stroke="#4D4D4D" stroke-width="0.18">triphosphatase activity</text>
<line x1="510.9" y1="80.36" x2="513.2" y2="80.36" stroke="#333" stroke-width="0.6"/>
<text x="509.5" y="82.52" font-size="6" text-anchor="end" fill="#4D4D4D" stroke="#4D4D4D" stroke-width="0.18">septin ring</text>
<line x1="510.9" y1="87.97" x2="513.2" y2="87.97" stroke="#333" stroke-width="0.6"/>
<text x="509.5" y="90.13" font-size="6" text-anchor="end" fill="#4D4D4D" stroke="#4D4D4D" stroke-width="0.18">septin ring assembly</text>
<line x1="510.9" y1="95.58" x2="513.2" y2="95.58" stroke="#333" stroke-width="0.6"/>
<text x="509.5" y="97.74" font-size="6" text-anchor="end" fill="#4D4D4D" stroke="#4D4D4D" stroke-width="0.18">2'−5'−RNA ligase activity</text>
<line x1="510.9" y1="103.19" x2="513.2" y2="103.19" stroke="#333" stroke-width="0.6"/>
<text x="509.5" y="105.35" font-size="6" text-anchor="end" fill="#4D4D4D" stroke="#4D4D4D" stroke-width="0.18">2',3'−cyclic−nucleotide 3'−phosphodiesterase activity</text>
<line x1="510.9" y1="110.8" x2="513.2" y2="110.8" stroke="#333" stroke-width="0.6"/>
<text x="509.5" y="112.96" font-size="6" text-anchor="end" fill="#4D4D4D" stroke="#4D4D4D" stroke-width="0.18">threonine−type endopeptidase activity</text>
<line x1="510.9" y1="118.41" x2="513.2" y2="118.41" stroke="#333" stroke-width="0.6"/>
<text x="509.5" y="120.57" font-size="6" text-anchor="end" fill="#4D4D4D" stroke="#4D4D4D" stroke-width="0.18">diacylglycerol kinase activity</text>
<line x1="510.9" y1="126.02" x2="513.2" y2="126.02" stroke="#333" stroke-width="0.6"/>
<text x="509.5" y="128.18" font-size="6" text-anchor="end" fill="#4D4D4D" stroke="#4D4D4D" stroke-width="0.18">ribonuclease M5 activity</text>
<line x1="510.9" y1="133.63" x2="513.2" y2="133.63" stroke="#333" stroke-width="0.6"/>
<text x="509.5" y="135.79" font-size="6" text-anchor="end" fill="#4D4D4D" stroke="#4D4D4D" stroke-width="0.18">TBP−class protein binding</text>
<line x1="510.9" y1="141.24" x2="513.2" y2="141.24" stroke="#333" stroke-width="0.6"/>
<text x="509.5" y="143.4" font-size="6" text-anchor="end" fill="#4D4D4D" stroke="#4D4D4D" stroke-width="0.18">lactate oxidation</text>
<line x1="510.9" y1="148.85" x2="513.2" y2="148.85" stroke="#333" stroke-width="0.6"/>
<text x="509.5" y="151.01" font-size="6" text-anchor="end" fill="#4D4D4D" stroke="#4D4D4D" stroke-width="0.18">oxidoreductase activity, acting on peroxide as acceptor</text>
<line x1="510.9" y1="156.46" x2="513.2" y2="156.46" stroke="#333" stroke-width="0.6"/>
<text x="509.5" y="158.62" font-size="6" text-anchor="end" fill="#4D4D4D" stroke="#4D4D4D" stroke-width="0.18">catalase activity</text>
<line x1="510.9" y1="164.07" x2="513.2" y2="164.07" stroke="#333" stroke-width="0.6"/>
<text x="509.5" y="166.23" font-size="6" text-anchor="end" fill="#4D4D4D" stroke="#4D4D4D" stroke-width="0.18">GDP−D−glucose phosphorylase activity</text>
<line x1="510.9" y1="171.68" x2="513.2" y2="171.68" stroke="#333" stroke-width="0.6"/>
<text x="509.5" y="173.84" font-size="6" text-anchor="end" fill="#4D4D4D" stroke="#4D4D4D" stroke-width="0.18">xenobiotic transport</text>
<line x1="510.9" y1="179.29" x2="513.2" y2="179.29" stroke="#333" stroke-width="0.6"/>
<text x="509.5" y="181.45" font-size="6" text-anchor="end" fill="#4D4D4D" stroke="#4D4D4D" stroke-width="0.18">protein secretion by the type VI secretion system</text>
<line x1="510.9" y1="186.9" x2="513.2" y2="186.9" stroke="#333" stroke-width="0.6"/>
<text x="509.5" y="189.06" font-size="6" text-anchor="end" fill="#4D4D4D" stroke="#4D4D4D" stroke-width="0.18">glycine metabolic process</text>
<line x1="510.9" y1="194.51" x2="513.2" y2="194.51" stroke="#333" stroke-width="0.6"/>
<text x="509.5" y="196.67" font-size="6" text-anchor="end" fill="#4D4D4D" stroke="#4D4D4D" stroke-width="0.18">formyltetrahydrofolate deformylase activity</text>
<line x1="510.9" y1="202.12" x2="513.2" y2="202.12" stroke="#333" stroke-width="0.6"/>
<text x="509.5" y="204.28" font-size="6" text-anchor="end" fill="#4D4D4D" stroke="#4D4D4D" stroke-width="0.18">glutamate metabolic process</text>
<line x1="510.9" y1="209.73" x2="513.2" y2="209.73" stroke="#333" stroke-width="0.6"/>
<text x="509.5" y="211.89" font-size="6" text-anchor="end" fill="#4D4D4D" stroke="#4D4D4D" stroke-width="0.18">glutamate decarboxylase activity</text>
<line x1="510.9" y1="217.34" x2="513.2" y2="217.34" stroke="#333" stroke-width="0.6"/>
<text x="509.5" y="219.5" font-size="6" text-anchor="end" fill="#4D4D4D" stroke="#4D4D4D" stroke-width="0.18">lipoate synthase activity</text>
<line x1="510.9" y1="224.95" x2="513.2" y2="224.95" stroke="#333" stroke-width="0.6"/>
<text x="509.5" y="227.11" font-size="6" text-anchor="end" fill="#4D4D4D" stroke="#4D4D4D" stroke-width="0.18">lipoate biosynthetic process</text>
<line x1="510.9" y1="232.56" x2="513.2" y2="232.56" stroke="#333" stroke-width="0.6"/>
<text x="509.5" y="234.72" font-size="6" text-anchor="end" fill="#4D4D4D" stroke="#4D4D4D" stroke-width="0.18">lipoyl(octanoyl) transferase activity</text>
<line x1="510.9" y1="240.17" x2="513.2" y2="240.17" stroke="#333" stroke-width="0.6"/>
<text x="509.5" y="242.33" font-size="6" text-anchor="end" fill="#4D4D4D" stroke="#4D4D4D" stroke-width="0.18">trehalose biosynthetic process</text>
<line x1="510.9" y1="247.78" x2="513.2" y2="247.78" stroke="#333" stroke-width="0.6"/>
<text x="509.5" y="249.94" font-size="6" text-anchor="end" fill="#4D4D4D" stroke="#4D4D4D" stroke-width="0.18">urea transmembrane transport</text>
<line x1="510.9" y1="255.39" x2="513.2" y2="255.39" stroke="#333" stroke-width="0.6"/>
<text x="509.5" y="257.55" font-size="6" text-anchor="end" fill="#4D4D4D" stroke="#4D4D4D" stroke-width="0.18">urea transmembrane transporter activity</text>
<line x1="540.2" y1="259.2" x2="540.2" y2="261.5" stroke="#333" stroke-width="0.6"/>
<text x="540.2" y="267.2" font-size="6" text-anchor="middle" fill="#4D4D4D" stroke="#4D4D4D" stroke-width="0.18">−1.0</text>
<line x1="574.55" y1="259.2" x2="574.55" y2="261.5" stroke="#333" stroke-width="0.6"/>
<text x="574.55" y="267.2" font-size="6" text-anchor="middle" fill="#4D4D4D" stroke="#4D4D4D" stroke-width="0.18">−0.5</text>
<line x1="608.9" y1="259.2" x2="608.9" y2="261.5" stroke="#333" stroke-width="0.6"/>
<text x="608.9" y="267.2" font-size="6" text-anchor="middle" fill="#4D4D4D" stroke="#4D4D4D" stroke-width="0.18">0.0</text>
<line x1="643.25" y1="259.2" x2="643.25" y2="261.5" stroke="#333" stroke-width="0.6"/>
<text x="643.25" y="267.2" font-size="6" text-anchor="middle" fill="#4D4D4D" stroke="#4D4D4D" stroke-width="0.18">0.5</text>
<line x1="677.6" y1="259.2" x2="677.6" y2="261.5" stroke="#333" stroke-width="0.6"/>
<text x="677.6" y="267.2" font-size="6" text-anchor="middle" fill="#4D4D4D" stroke="#4D4D4D" stroke-width="0.18">1.0</text>
<text x="597.35" y="275.5" font-size="7.2" text-anchor="middle" fill="#000" stroke="#000" stroke-width="0.18">Log Fold Change</text>
<text x="512.5" y="24.5" font-size="8.7" text-anchor="start" fill="#000" stroke="#000" stroke-width="0.18">Gut GO</text>
<line x1="198.05" y1="299.3" x2="198.05" y2="577.6" stroke="#F3F3F3" stroke-width="0.5"/>
<line x1="265.15" y1="299.3" x2="265.15" y2="577.6" stroke="#F3F3F3" stroke-width="0.5"/>
<line x1="332.25" y1="299.3" x2="332.25" y2="577.6" stroke="#F3F3F3" stroke-width="0.5"/>
<line x1="164.5" y1="299.3" x2="164.5" y2="577.6" stroke="#EBEBEB" stroke-width="0.7"/>
<line x1="231.6" y1="299.3" x2="231.6" y2="577.6" stroke="#EBEBEB" stroke-width="0.7"/>
<line x1="298.7" y1="299.3" x2="298.7" y2="577.6" stroke="#EBEBEB" stroke-width="0.7"/>
<line x1="136.7" y1="308.5" x2="350.5" y2="308.5" stroke="#EBEBEB" stroke-width="0.7"/>
<line x1="136.7" y1="323.8" x2="350.5" y2="323.8" stroke="#EBEBEB" stroke-width="0.7"/>
<line x1="136.7" y1="339.1" x2="350.5" y2="339.1" stroke="#EBEBEB" stroke-width="0.7"/>
<line x1="136.7" y1="354.4" x2="350.5" y2="354.4" stroke="#EBEBEB" stroke-width="0.7"/>
<line x1="136.7" y1="369.7" x2="350.5" y2="369.7" stroke="#EBEBEB" stroke-width="0.7"/>
<line x1="136.7" y1="385" x2="350.5" y2="385" stroke="#EBEBEB" stroke-width="0.7"/>
<line x1="136.7" y1="400.3" x2="350.5" y2="400.3" stroke="#EBEBEB" stroke-width="0.7"/>
<line x1="136.7" y1="415.6" x2="350.5" y2="415.6" stroke="#EBEBEB" stroke-width="0.7"/>
<line x1="136.7" y1="430.9" x2="350.5" y2="430.9" stroke="#EBEBEB" stroke-width="0.7"/>
<line x1="136.7" y1="446.2" x2="350.5" y2="446.2" stroke="#EBEBEB" stroke-width="0.7"/>
<line x1="136.7" y1="461.5" x2="350.5" y2="461.5" stroke="#EBEBEB" stroke-width="0.7"/>
<line x1="136.7" y1="476.8" x2="350.5" y2="476.8" stroke="#EBEBEB" stroke-width="0.7"/>
<line x1="136.7" y1="492.1" x2="350.5" y2="492.1" stroke="#EBEBEB" stroke-width="0.7"/>
<line x1="136.7" y1="507.4" x2="350.5" y2="507.4" stroke="#EBEBEB" stroke-width="0.7"/>
<line x1="136.7" y1="522.7" x2="350.5" y2="522.7" stroke="#EBEBEB" stroke-width="0.7"/>
<line x1="136.7" y1="538" x2="350.5" y2="538" stroke="#EBEBEB" stroke-width="0.7"/>
<line x1="136.7" y1="553.3" x2="350.5" y2="553.3" stroke="#EBEBEB" stroke-width="0.7"/>
<line x1="136.7" y1="568.6" x2="350.5" y2="568.6" stroke="#EBEBEB" stroke-width="0.7"/>
<rect x="231.6" y="301.62" width="70" height="13.77" fill="#BC3C29"/>
<rect x="231.6" y="316.92" width="58.5" height="13.77" fill="#BC3C29"/>
<rect x="231.6" y="332.22" width="46.5" height="13.77" fill="#BC3C29"/>
<rect x="231.6" y="347.51" width="46.1" height="13.77" fill="#BC3C29"/>
<rect x="231.6" y="362.81" width="45.6" height="13.77" fill="#BC3C29"/>
<rect x="231.6" y="378.12" width="45" height="13.77" fill="#BC3C29"/>
<rect x="231.6" y="393.42" width="44.3" height="13.77" fill="#BC3C29"/>
<rect x="231.6" y="408.72" width="38.7" height="13.77" fill="#BC3C29"/>
<rect x="231.6" y="424.01" width="37.7" height="13.77" fill="#BC3C29"/>
<rect x="231.6" y="439.32" width="36.3" height="13.77" fill="#BC3C29"/>
<rect x="231.6" y="454.62" width="35.2" height="13.77" fill="#BC3C29"/>
<rect x="231.6" y="469.92" width="35" height="13.77" fill="#BC3C29"/>
<rect x="231.6" y="485.22" width="31.7" height="13.77" fill="#BC3C29"/>
<rect x="231.6" y="500.51" width="27.2" height="13.77" fill="#BC3C29"/>
<rect x="204.6" y="515.82" width="27" height="13.77" fill="#0072B5"/>
<rect x="185.7" y="531.12" width="45.9" height="13.77" fill="#0072B5"/>
<rect x="182.3" y="546.41" width="49.3" height="13.77" fill="#0072B5"/>
<rect x="179" y="561.72" width="52.6" height="13.77" fill="#0072B5"/>
<line x1="275.5" y1="308.5" x2="327.6" y2="308.5" stroke="#1a1a1a" stroke-width="0.7"/>
<line x1="275.5" y1="306.82" x2="275.5" y2="310.18" stroke="#222" stroke-width="0.7"/>
<line x1="327.6" y1="306.82" x2="327.6" y2="310.18" stroke="#222" stroke-width="0.7"/>
<line x1="275.5" y1="323.8" x2="305.3" y2="323.8" stroke="#1a1a1a" stroke-width="0.7"/>
<line x1="275.5" y1="322.12" x2="275.5" y2="325.48" stroke="#222" stroke-width="0.7"/>
<line x1="305.3" y1="322.12" x2="305.3" y2="325.48" stroke="#222" stroke-width="0.7"/>
<line x1="261.5" y1="339.1" x2="294.7" y2="339.1" stroke="#1a1a1a" stroke-width="0.7"/>
<line x1="261.5" y1="337.42" x2="261.5" y2="340.78" stroke="#222" stroke-width="0.7"/>
<line x1="294.7" y1="337.42" x2="294.7" y2="340.78" stroke="#222" stroke-width="0.7"/>
<line x1="261.5" y1="354.4" x2="294" y2="354.4" stroke="#1a1a1a" stroke-width="0.7"/>
<line x1="261.5" y1="352.72" x2="261.5" y2="356.08" stroke="#222" stroke-width="0.7"/>
<line x1="294" y1="352.72" x2="294" y2="356.08" stroke="#222" stroke-width="0.7"/>
<line x1="261.5" y1="369.7" x2="293.6" y2="369.7" stroke="#1a1a1a" stroke-width="0.7"/>
<line x1="261.5" y1="368.02" x2="261.5" y2="371.38" stroke="#222" stroke-width="0.7"/>
<line x1="293.6" y1="368.02" x2="293.6" y2="371.38" stroke="#222" stroke-width="0.7"/>
<line x1="259.7" y1="385" x2="293.6" y2="385" stroke="#1a1a1a" stroke-width="0.7"/>
<line x1="259.7" y1="383.32" x2="259.7" y2="386.68" stroke="#222" stroke-width="0.7"/>
<line x1="293.6" y1="383.32" x2="293.6" y2="386.68" stroke="#222" stroke-width="0.7"/>
<line x1="259.7" y1="400.3" x2="292" y2="400.3" stroke="#1a1a1a" stroke-width="0.7"/>
<line x1="259.7" y1="398.62" x2="259.7" y2="401.98" stroke="#222" stroke-width="0.7"/>
<line x1="292" y1="398.62" x2="292" y2="401.98" stroke="#222" stroke-width="0.7"/>
<line x1="255.5" y1="415.6" x2="285.6" y2="415.6" stroke="#1a1a1a" stroke-width="0.7"/>
<line x1="255.5" y1="413.92" x2="255.5" y2="417.28" stroke="#222" stroke-width="0.7"/>
<line x1="285.6" y1="413.92" x2="285.6" y2="417.28" stroke="#222" stroke-width="0.7"/>
<line x1="255.5" y1="430.9" x2="283.4" y2="430.9" stroke="#1a1a1a" stroke-width="0.7"/>
<line x1="255.5" y1="429.22" x2="255.5" y2="432.58" stroke="#222" stroke-width="0.7"/>
<line x1="283.4" y1="429.22" x2="283.4" y2="432.58" stroke="#222" stroke-width="0.7"/>
<line x1="254.2" y1="446.2" x2="282.1" y2="446.2" stroke="#1a1a1a" stroke-width="0.7"/>
<line x1="254.2" y1="444.52" x2="254.2" y2="447.88" stroke="#222" stroke-width="0.7"/>
<line x1="282.1" y1="444.52" x2="282.1" y2="447.88" stroke="#222" stroke-width="0.7"/>
<line x1="253.3" y1="461.5" x2="279.7" y2="461.5" stroke="#1a1a1a" stroke-width="0.7"/>
<line x1="253.3" y1="459.82" x2="253.3" y2="463.18" stroke="#222" stroke-width="0.7"/>
<line x1="279.7" y1="459.82" x2="279.7" y2="463.18" stroke="#222" stroke-width="0.7"/>
<line x1="254.2" y1="476.8" x2="278.8" y2="476.8" stroke="#1a1a1a" stroke-width="0.7"/>
<line x1="254.2" y1="475.12" x2="254.2" y2="478.48" stroke="#222" stroke-width="0.7"/>
<line x1="278.8" y1="475.12" x2="278.8" y2="478.48" stroke="#222" stroke-width="0.7"/>
<line x1="251.5" y1="492.1" x2="275.7" y2="492.1" stroke="#1a1a1a" stroke-width="0.7"/>
<line x1="251.5" y1="490.42" x2="251.5" y2="493.78" stroke="#222" stroke-width="0.7"/>
<line x1="275.7" y1="490.42" x2="275.7" y2="493.78" stroke="#222" stroke-width="0.7"/>
<line x1="249.3" y1="507.4" x2="268.2" y2="507.4" stroke="#1a1a1a" stroke-width="0.7"/>
<line x1="249.3" y1="505.72" x2="249.3" y2="509.08" stroke="#222" stroke-width="0.7"/>
<line x1="268.2" y1="505.72" x2="268.2" y2="509.08" stroke="#222" stroke-width="0.7"/>
<line x1="194.5" y1="522.7" x2="215.1" y2="522.7" stroke="#1a1a1a" stroke-width="0.7"/>
<line x1="194.5" y1="521.02" x2="194.5" y2="524.38" stroke="#222" stroke-width="0.7"/>
<line x1="215.1" y1="521.02" x2="215.1" y2="524.38" stroke="#222" stroke-width="0.7"/>
<line x1="170.4" y1="538" x2="201.4" y2="538" stroke="#1a1a1a" stroke-width="0.7"/>
<line x1="170.4" y1="536.32" x2="170.4" y2="539.68" stroke="#222" stroke-width="0.7"/>
<line x1="201.4" y1="536.32" x2="201.4" y2="539.68" stroke="#222" stroke-width="0.7"/>
<line x1="167.7" y1="553.3" x2="196.9" y2="553.3" stroke="#1a1a1a" stroke-width="0.7"/>
<line x1="167.7" y1="551.62" x2="167.7" y2="554.98" stroke="#222" stroke-width="0.7"/>
<line x1="196.9" y1="551.62" x2="196.9" y2="554.98" stroke="#222" stroke-width="0.7"/>
<line x1="159.7" y1="568.6" x2="198.7" y2="568.6" stroke="#1a1a1a" stroke-width="0.7"/>
<line x1="159.7" y1="566.92" x2="159.7" y2="570.28" stroke="#222" stroke-width="0.7"/>
<line x1="198.7" y1="566.92" x2="198.7" y2="570.28" stroke="#222" stroke-width="0.7"/>
<path d="M316.9,324.4 H320.1 M318.5,322.8 V326" stroke="#111" stroke-width="0.95" fill="none"/>
<rect x="136.7" y="299.3" width="213.8" height="278.3" fill="none" stroke="#777" stroke-width="1.1"/>
<line x1="134.4" y1="308.5" x2="136.7" y2="308.5" stroke="#333" stroke-width="0.6"/>
<text x="133.4" y="310.52" font-size="5.6" text-anchor="end" fill="#4D4D4D" stroke="#4D4D4D" stroke-width="0.18">Frenolicin B</text>
<line x1="134.4" y1="323.8" x2="136.7" y2="323.8" stroke="#333" stroke-width="0.6"/>
<text x="133.4" y="325.82" font-size="5.6" text-anchor="end" fill="#4D4D4D" stroke="#4D4D4D" stroke-width="0.18">Hypoxanthine</text>
<line x1="134.4" y1="339.1" x2="136.7" y2="339.1" stroke="#333" stroke-width="0.6"/>
<text x="133.4" y="341.12" font-size="5.6" text-anchor="end" fill="#4D4D4D" stroke="#4D4D4D" stroke-width="0.18">Flurandrenolide</text>
<line x1="134.4" y1="354.4" x2="136.7" y2="354.4" stroke="#333" stroke-width="0.6"/>
<text x="133.4" y="356.42" font-size="5.6" text-anchor="end" fill="#4D4D4D" stroke="#4D4D4D" stroke-width="0.18">Docosapentaenoic acid (22n−3)</text>
<line x1="134.4" y1="369.7" x2="136.7" y2="369.7" stroke="#333" stroke-width="0.6"/>
<text x="133.4" y="371.72" font-size="5.6" text-anchor="end" fill="#4D4D4D" stroke="#4D4D4D" stroke-width="0.18">Osthenol</text>
<line x1="134.4" y1="385" x2="136.7" y2="385" stroke="#333" stroke-width="0.6"/>
<text x="133.4" y="387.02" font-size="5.6" text-anchor="end" fill="#4D4D4D" stroke="#4D4D4D" stroke-width="0.18">N1,N10−Dicoumaroylspermidine</text>
<line x1="134.4" y1="400.3" x2="136.7" y2="400.3" stroke="#333" stroke-width="0.6"/>
<text x="133.4" y="402.32" font-size="5.6" text-anchor="end" fill="#4D4D4D" stroke="#4D4D4D" stroke-width="0.18">Octadecanamide</text>
<line x1="134.4" y1="415.6" x2="136.7" y2="415.6" stroke="#333" stroke-width="0.6"/>
<text x="133.4" y="417.62" font-size="5.6" text-anchor="end" fill="#4D4D4D" stroke="#4D4D4D" stroke-width="0.18">Dibutyl phthalate</text>
<line x1="134.4" y1="430.9" x2="136.7" y2="430.9" stroke="#333" stroke-width="0.6"/>
<text x="133.4" y="432.92" font-size="5.6" text-anchor="end" fill="#4D4D4D" stroke="#4D4D4D" stroke-width="0.18">5−Heneicosyl−1,3−benzenediol</text>
<line x1="134.4" y1="446.2" x2="136.7" y2="446.2" stroke="#333" stroke-width="0.6"/>
<text x="133.4" y="448.22" font-size="5.6" text-anchor="end" fill="#4D4D4D" stroke="#4D4D4D" stroke-width="0.18">Dimethyl pimelimidate</text>
<line x1="134.4" y1="461.5" x2="136.7" y2="461.5" stroke="#333" stroke-width="0.6"/>
<text x="133.4" y="463.52" font-size="5.6" text-anchor="end" fill="#4D4D4D" stroke="#4D4D4D" stroke-width="0.18">1,24,25−trihydroxyvitamin D3</text>
<line x1="134.4" y1="476.8" x2="136.7" y2="476.8" stroke="#333" stroke-width="0.6"/>
<text x="133.4" y="478.82" font-size="5.6" text-anchor="end" fill="#4D4D4D" stroke="#4D4D4D" stroke-width="0.18">Thymine</text>
<line x1="134.4" y1="492.1" x2="136.7" y2="492.1" stroke="#333" stroke-width="0.6"/>
<text x="133.4" y="494.12" font-size="5.6" text-anchor="end" fill="#4D4D4D" stroke="#4D4D4D" stroke-width="0.18">MG(22:4/0:0/0:0)</text>
<line x1="134.4" y1="507.4" x2="136.7" y2="507.4" stroke="#333" stroke-width="0.6"/>
<text x="133.4" y="509.42" font-size="5.6" text-anchor="end" fill="#4D4D4D" stroke="#4D4D4D" stroke-width="0.18">3−hydroxypristanic acid</text>
<line x1="134.4" y1="522.7" x2="136.7" y2="522.7" stroke="#333" stroke-width="0.6"/>
<text x="133.4" y="524.72" font-size="5.6" text-anchor="end" fill="#4D4D4D" stroke="#4D4D4D" stroke-width="0.18">Tyrosol glucuronide</text>
<line x1="134.4" y1="538" x2="136.7" y2="538" stroke="#333" stroke-width="0.6"/>
<text x="133.4" y="540.02" font-size="5.6" text-anchor="end" fill="#4D4D4D" stroke="#4D4D4D" stroke-width="0.18">3−Aminosalicylic acid</text>
<line x1="134.4" y1="553.3" x2="136.7" y2="553.3" stroke="#333" stroke-width="0.6"/>
<text x="133.4" y="555.32" font-size="5.6" text-anchor="end" fill="#4D4D4D" stroke="#4D4D4D" stroke-width="0.18">4,11,13,15−Tetrahydroridentin B</text>
<line x1="134.4" y1="568.6" x2="136.7" y2="568.6" stroke="#333" stroke-width="0.6"/>
<text x="133.4" y="570.62" font-size="5.6" text-anchor="end" fill="#4D4D4D" stroke="#4D4D4D" stroke-width="0.18">Furo(3,2−c)pyran−4−one</text>
<line x1="164.5" y1="577.6" x2="164.5" y2="579.9" stroke="#333" stroke-width="0.6"/>
<text x="164.5" y="585.5" font-size="5.8" text-anchor="middle" fill="#4D4D4D" stroke="#4D4D4D" stroke-width="0.18">−1</text>
<line x1="231.6" y1="577.6" x2="231.6" y2="579.9" stroke="#333" stroke-width="0.6"/>
<text x="231.6" y="585.5" font-size="5.8" text-anchor="middle" fill="#4D4D4D" stroke="#4D4D4D" stroke-width="0.18">0</text>
<line x1="298.7" y1="577.6" x2="298.7" y2="579.9" stroke="#333" stroke-width="0.6"/>
<text x="298.7" y="585.5" font-size="5.8" text-anchor="middle" fill="#4D4D4D" stroke="#4D4D4D" stroke-width="0.18">1</text>
<text x="243.6" y="593.2" font-size="7" text-anchor="middle" fill="#000" stroke="#000" stroke-width="0.18">Log Fold Change</text>
<text x="136.5" y="294.1" font-size="8.2" text-anchor="start" fill="#000" stroke="#000" stroke-width="0.18">Gut Metabolites</text>
<line x1="551.35" y1="303.1" x2="551.35" y2="571.2" stroke="#F3F3F3" stroke-width="0.5"/>
<line x1="600.45" y1="303.1" x2="600.45" y2="571.2" stroke="#F3F3F3" stroke-width="0.5"/>
<line x1="649.55" y1="303.1" x2="649.55" y2="571.2" stroke="#F3F3F3" stroke-width="0.5"/>
<line x1="526.8" y1="303.1" x2="526.8" y2="571.2" stroke="#EBEBEB" stroke-width="0.7"/>
<line x1="575.9" y1="303.1" x2="575.9" y2="571.2" stroke="#EBEBEB" stroke-width="0.7"/>
<line x1="625" y1="303.1" x2="625" y2="571.2" stroke="#EBEBEB" stroke-width="0.7"/>
<line x1="674.1" y1="303.1" x2="674.1" y2="571.2" stroke="#EBEBEB" stroke-width="0.7"/>
<line x1="516.6" y1="309.7" x2="681.6" y2="309.7" stroke="#EBEBEB" stroke-width="0.7"/>
<line x1="516.6" y1="320.79" x2="681.6" y2="320.79" stroke="#EBEBEB" stroke-width="0.7"/>
<line x1="516.6" y1="331.88" x2="681.6" y2="331.88" stroke="#EBEBEB" stroke-width="0.7"/>
<line x1="516.6" y1="342.97" x2="681.6" y2="342.97" stroke="#EBEBEB" stroke-width="0.7"/>
<line x1="516.6" y1="354.06" x2="681.6" y2="354.06" stroke="#EBEBEB" stroke-width="0.7"/>
<line x1="516.6" y1="365.15" x2="681.6" y2="365.15" stroke="#EBEBEB" stroke-width="0.7"/>
<line x1="516.6" y1="376.24" x2="681.6" y2="376.24" stroke="#EBEBEB" stroke-width="0.7"/>
<line x1="516.6" y1="387.33" x2="681.6" y2="387.33" stroke="#EBEBEB" stroke-width="0.7"/>
<line x1="516.6" y1="398.42" x2="681.6" y2="398.42" stroke="#EBEBEB" stroke-width="0.7"/>
<line x1="516.6" y1="409.51" x2="681.6" y2="409.51" stroke="#EBEBEB" stroke-width="0.7"/>
<line x1="516.6" y1="420.6" x2="681.6" y2="420.6" stroke="#EBEBEB" stroke-width="0.7"/>
<line x1="516.6" y1="431.69" x2="681.6" y2="431.69" stroke="#EBEBEB" stroke-width="0.7"/>
<line x1="516.6" y1="442.78" x2="681.6" y2="442.78" stroke="#EBEBEB" stroke-width="0.7"/>
<line x1="516.6" y1="453.87" x2="681.6" y2="453.87" stroke="#EBEBEB" stroke-width="0.7"/>
<line x1="516.6" y1="464.96" x2="681.6" y2="464.96" stroke="#EBEBEB" stroke-width="0.7"/>
<line x1="516.6" y1="476.05" x2="681.6" y2="476.05" stroke="#EBEBEB" stroke-width="0.7"/>
<line x1="516.6" y1="487.14" x2="681.6" y2="487.14" stroke="#EBEBEB" stroke-width="0.7"/>
<line x1="516.6" y1="498.23" x2="681.6" y2="498.23" stroke="#EBEBEB" stroke-width="0.7"/>
<line x1="516.6" y1="509.32" x2="681.6" y2="509.32" stroke="#EBEBEB" stroke-width="0.7"/>
<line x1="516.6" y1="520.41" x2="681.6" y2="520.41" stroke="#EBEBEB" stroke-width="0.7"/>
<line x1="516.6" y1="531.5" x2="681.6" y2="531.5" stroke="#EBEBEB" stroke-width="0.7"/>
<line x1="516.6" y1="542.59" x2="681.6" y2="542.59" stroke="#EBEBEB" stroke-width="0.7"/>
<line x1="516.6" y1="553.68" x2="681.6" y2="553.68" stroke="#EBEBEB" stroke-width="0.7"/>
<line x1="516.6" y1="564.77" x2="681.6" y2="564.77" stroke="#EBEBEB" stroke-width="0.7"/>
<rect x="575.9" y="304.71" width="72.2" height="9.98" fill="#BC3C29"/>
<rect x="575.9" y="315.8" width="54.5" height="9.98" fill="#BC3C29"/>
<rect x="575.9" y="326.89" width="52" height="9.98" fill="#BC3C29"/>
<rect x="575.9" y="337.98" width="46.5" height="9.98" fill="#BC3C29"/>
<rect x="575.9" y="349.07" width="42.3" height="9.98" fill="#BC3C29"/>
<rect x="575.9" y="360.16" width="41.1" height="9.98" fill="#BC3C29"/>
<rect x="575.9" y="371.25" width="38.1" height="9.98" fill="#BC3C29"/>
<rect x="575.9" y="382.34" width="38.1" height="9.98" fill="#BC3C29"/>
<rect x="575.9" y="393.43" width="36.1" height="9.98" fill="#BC3C29"/>
<rect x="575.9" y="404.52" width="34.9" height="9.98" fill="#BC3C29"/>
<rect x="575.9" y="415.61" width="31.5" height="9.98" fill="#BC3C29"/>
<rect x="575.9" y="426.7" width="28.8" height="9.98" fill="#BC3C29"/>
<rect x="575.9" y="437.79" width="26.3" height="9.98" fill="#BC3C29"/>
<rect x="575.9" y="448.88" width="23.8" height="9.98" fill="#BC3C29"/>
<rect x="575.9" y="459.97" width="22.3" height="9.98" fill="#BC3C29"/>
<rect x="575.9" y="471.06" width="19.8" height="9.98" fill="#BC3C29"/>
<rect x="575.9" y="482.15" width="19.3" height="9.98" fill="#BC3C29"/>
<rect x="575.9" y="493.24" width="19.1" height="9.98" fill="#BC3C29"/>
<rect x="575.9" y="504.33" width="17.2" height="9.98" fill="#BC3C29"/>
<rect x="575.9" y="515.42" width="17.2" height="9.98" fill="#BC3C29"/>
<rect x="564.9" y="526.51" width="11" height="9.98" fill="#0072B5"/>
<rect x="555.8" y="537.6" width="20.1" height="9.98" fill="#0072B5"/>
<rect x="551.1" y="548.69" width="24.8" height="9.98" fill="#0072B5"/>
<rect x="544.1" y="559.78" width="31.8" height="9.98" fill="#0072B5"/>
<line x1="632.1" y1="309.7" x2="664.5" y2="309.7" stroke="#1a1a1a" stroke-width="0.7"/>
<line x1="632.1" y1="308.48" x2="632.1" y2="310.92" stroke="#222" stroke-width="0.7"/>
<line x1="664.5" y1="308.48" x2="664.5" y2="310.92" stroke="#222" stroke-width="0.7"/>
<line x1="614.5" y1="320.79" x2="646.7" y2="320.79" stroke="#1a1a1a" stroke-width="0.7"/>
<line x1="614.5" y1="319.57" x2="614.5" y2="322.01" stroke="#222" stroke-width="0.7"/>
<line x1="646.7" y1="319.57" x2="646.7" y2="322.01" stroke="#222" stroke-width="0.7"/>
<line x1="613.6" y1="331.88" x2="642.2" y2="331.88" stroke="#1a1a1a" stroke-width="0.7"/>
<line x1="613.6" y1="330.66" x2="613.6" y2="333.1" stroke="#222" stroke-width="0.7"/>
<line x1="642.2" y1="330.66" x2="642.2" y2="333.1" stroke="#222" stroke-width="0.7"/>
<line x1="605.6" y1="342.97" x2="638.8" y2="342.97" stroke="#1a1a1a" stroke-width="0.7"/>
<line x1="605.6" y1="341.75" x2="605.6" y2="344.19" stroke="#222" stroke-width="0.7"/>
<line x1="638.8" y1="341.75" x2="638.8" y2="344.19" stroke="#222" stroke-width="0.7"/>
<line x1="602.4" y1="354.06" x2="634.1" y2="354.06" stroke="#1a1a1a" stroke-width="0.7"/>
<line x1="602.4" y1="352.84" x2="602.4" y2="355.28" stroke="#222" stroke-width="0.7"/>
<line x1="634.1" y1="352.84" x2="634.1" y2="355.28" stroke="#222" stroke-width="0.7"/>
<line x1="605.6" y1="365.15" x2="628.8" y2="365.15" stroke="#1a1a1a" stroke-width="0.7"/>
<line x1="605.6" y1="363.93" x2="605.6" y2="366.37" stroke="#222" stroke-width="0.7"/>
<line x1="628.8" y1="363.93" x2="628.8" y2="366.37" stroke="#222" stroke-width="0.7"/>
<line x1="601.4" y1="376.24" x2="626.6" y2="376.24" stroke="#1a1a1a" stroke-width="0.7"/>
<line x1="601.4" y1="375.02" x2="601.4" y2="377.46" stroke="#222" stroke-width="0.7"/>
<line x1="626.6" y1="375.02" x2="626.6" y2="377.46" stroke="#222" stroke-width="0.7"/>
<line x1="601.4" y1="387.33" x2="626.2" y2="387.33" stroke="#1a1a1a" stroke-width="0.7"/>
<line x1="601.4" y1="386.11" x2="601.4" y2="388.55" stroke="#222" stroke-width="0.7"/>
<line x1="626.2" y1="386.11" x2="626.2" y2="388.55" stroke="#222" stroke-width="0.7"/>
<line x1="601.2" y1="398.42" x2="623.7" y2="398.42" stroke="#1a1a1a" stroke-width="0.7"/>
<line x1="601.2" y1="397.2" x2="601.2" y2="399.64" stroke="#222" stroke-width="0.7"/>
<line x1="623.7" y1="397.2" x2="623.7" y2="399.64" stroke="#222" stroke-width="0.7"/>
<line x1="599.7" y1="409.51" x2="622.5" y2="409.51" stroke="#1a1a1a" stroke-width="0.7"/>
<line x1="599.7" y1="408.29" x2="599.7" y2="410.73" stroke="#222" stroke-width="0.7"/>
<line x1="622.5" y1="408.29" x2="622.5" y2="410.73" stroke="#222" stroke-width="0.7"/>
<line x1="597.4" y1="420.6" x2="617.8" y2="420.6" stroke="#1a1a1a" stroke-width="0.7"/>
<line x1="597.4" y1="419.38" x2="597.4" y2="421.82" stroke="#222" stroke-width="0.7"/>
<line x1="617.8" y1="419.38" x2="617.8" y2="421.82" stroke="#222" stroke-width="0.7"/>
<line x1="595.7" y1="431.69" x2="614" y2="431.69" stroke="#1a1a1a" stroke-width="0.7"/>
<line x1="595.7" y1="430.47" x2="595.7" y2="432.91" stroke="#222" stroke-width="0.7"/>
<line x1="614" y1="430.47" x2="614" y2="432.91" stroke="#222" stroke-width="0.7"/>
<line x1="592.3" y1="442.78" x2="612.8" y2="442.78" stroke="#1a1a1a" stroke-width="0.7"/>
<line x1="592.3" y1="441.56" x2="592.3" y2="444" stroke="#222" stroke-width="0.7"/>
<line x1="612.8" y1="441.56" x2="612.8" y2="444" stroke="#222" stroke-width="0.7"/>
<line x1="590.5" y1="453.87" x2="608.6" y2="453.87" stroke="#1a1a1a" stroke-width="0.7"/>
<line x1="590.5" y1="452.65" x2="590.5" y2="455.09" stroke="#222" stroke-width="0.7"/>
<line x1="608.6" y1="452.65" x2="608.6" y2="455.09" stroke="#222" stroke-width="0.7"/>
<line x1="589.8" y1="464.96" x2="606.9" y2="464.96" stroke="#1a1a1a" stroke-width="0.7"/>
<line x1="589.8" y1="463.74" x2="589.8" y2="466.18" stroke="#222" stroke-width="0.7"/>
<line x1="606.9" y1="463.74" x2="606.9" y2="466.18" stroke="#222" stroke-width="0.7"/>
<line x1="589.3" y1="476.05" x2="602.4" y2="476.05" stroke="#1a1a1a" stroke-width="0.7"/>
<line x1="589.3" y1="474.83" x2="589.3" y2="477.27" stroke="#222" stroke-width="0.7"/>
<line x1="602.4" y1="474.83" x2="602.4" y2="477.27" stroke="#222" stroke-width="0.7"/>
<line x1="588.5" y1="487.14" x2="602.2" y2="487.14" stroke="#1a1a1a" stroke-width="0.7"/>
<line x1="588.5" y1="485.92" x2="588.5" y2="488.36" stroke="#222" stroke-width="0.7"/>
<line x1="602.2" y1="485.92" x2="602.2" y2="488.36" stroke="#222" stroke-width="0.7"/>
<line x1="588.1" y1="498.23" x2="602.6" y2="498.23" stroke="#1a1a1a" stroke-width="0.7"/>
<line x1="588.1" y1="497.01" x2="588.1" y2="499.45" stroke="#222" stroke-width="0.7"/>
<line x1="602.6" y1="497.01" x2="602.6" y2="499.45" stroke="#222" stroke-width="0.7"/>
<line x1="587.6" y1="509.32" x2="599.3" y2="509.32" stroke="#1a1a1a" stroke-width="0.7"/>
<line x1="587.6" y1="508.1" x2="587.6" y2="510.54" stroke="#222" stroke-width="0.7"/>
<line x1="599.3" y1="508.1" x2="599.3" y2="510.54" stroke="#222" stroke-width="0.7"/>
<line x1="587.6" y1="520.41" x2="598.6" y2="520.41" stroke="#1a1a1a" stroke-width="0.7"/>
<line x1="587.6" y1="519.19" x2="587.6" y2="521.63" stroke="#222" stroke-width="0.7"/>
<line x1="598.6" y1="519.19" x2="598.6" y2="521.63" stroke="#222" stroke-width="0.7"/>
<line x1="560.4" y1="531.5" x2="568.8" y2="531.5" stroke="#1a1a1a" stroke-width="0.7"/>
<line x1="560.4" y1="530.28" x2="560.4" y2="532.72" stroke="#222" stroke-width="0.7"/>
<line x1="568.8" y1="530.28" x2="568.8" y2="532.72" stroke="#222" stroke-width="0.7"/>
<line x1="548.3" y1="542.59" x2="563.4" y2="542.59" stroke="#1a1a1a" stroke-width="0.7"/>
<line x1="548.3" y1="541.37" x2="548.3" y2="543.81" stroke="#222" stroke-width="0.7"/>
<line x1="563.4" y1="541.37" x2="563.4" y2="543.81" stroke="#222" stroke-width="0.7"/>
<line x1="544.7" y1="553.68" x2="557.8" y2="553.68" stroke="#1a1a1a" stroke-width="0.7"/>
<line x1="544.7" y1="552.46" x2="544.7" y2="554.9" stroke="#222" stroke-width="0.7"/>
<line x1="557.8" y1="552.46" x2="557.8" y2="554.9" stroke="#222" stroke-width="0.7"/>
<line x1="533.5" y1="564.77" x2="554.8" y2="564.77" stroke="#1a1a1a" stroke-width="0.7"/>
<line x1="533.5" y1="563.55" x2="533.5" y2="565.99" stroke="#222" stroke-width="0.7"/>
<line x1="554.8" y1="563.55" x2="554.8" y2="565.99" stroke="#222" stroke-width="0.7"/>
<text x="674.3" y="311.32" font-size="6" text-anchor="middle" fill="#000" stroke="#000" stroke-width="0.12">**</text>
<path d="M654.9,321.39 H658.1 M656.5,319.79 V322.99" stroke="#111" stroke-width="0.95" fill="none"/>
<path d="M650.2,332.48 H653.4 M651.8,330.88 V334.08" stroke="#111" stroke-width="0.95" fill="none"/>
<path d="M636.7,365.75 H639.9 M638.3,364.15 V367.35" stroke="#111" stroke-width="0.95" fill="none"/>
<text x="534.8" y="555.3" font-size="6" text-anchor="middle" fill="#000" stroke="#000" stroke-width="0.12">*</text>
<rect x="516.6" y="303.1" width="165" height="268.1" fill="none" stroke="#777" stroke-width="1.1"/>
<line x1="514.3" y1="309.7" x2="516.6" y2="309.7" stroke="#333" stroke-width="0.6"/>
<text x="513.4" y="311.65" font-size="5.42" text-anchor="end" fill="#4D4D4D" stroke="#4D4D4D" stroke-width="0.18">3−Methylcatechol 1−sulfate</text>
<line x1="514.3" y1="320.79" x2="516.6" y2="320.79" stroke="#333" stroke-width="0.6"/>
<text x="513.4" y="322.74" font-size="5.42" text-anchor="end" fill="#4D4D4D" stroke="#4D4D4D" stroke-width="0.18">HPAA sulfate</text>
<line x1="514.3" y1="331.88" x2="516.6" y2="331.88" stroke="#333" stroke-width="0.6"/>
<text x="513.4" y="333.83" font-size="5.42" text-anchor="end" fill="#4D4D4D" stroke="#4D4D4D" stroke-width="0.18">6−Hydroxyindoxyl sulfate</text>
<line x1="514.3" y1="342.97" x2="516.6" y2="342.97" stroke="#333" stroke-width="0.6"/>
<text x="513.4" y="344.92" font-size="5.42" text-anchor="end" fill="#4D4D4D" stroke="#4D4D4D" stroke-width="0.18">Cotinine</text>
<line x1="514.3" y1="354.06" x2="516.6" y2="354.06" stroke="#333" stroke-width="0.6"/>
<text x="513.4" y="356.01" font-size="5.42" text-anchor="end" fill="#4D4D4D" stroke="#4D4D4D" stroke-width="0.18">Nordiazepam</text>
<line x1="514.3" y1="365.15" x2="516.6" y2="365.15" stroke="#333" stroke-width="0.6"/>
<text x="513.4" y="367.1" font-size="5.42" text-anchor="end" fill="#4D4D4D" stroke="#4D4D4D" stroke-width="0.18">Hippuric acid sulfate</text>
<line x1="514.3" y1="376.24" x2="516.6" y2="376.24" stroke="#333" stroke-width="0.6"/>
<text x="513.4" y="378.19" font-size="5.42" text-anchor="end" fill="#4D4D4D" stroke="#4D4D4D" stroke-width="0.18">5−Hydroxy−6−methoxyindole glucuronide</text>
<line x1="514.3" y1="387.33" x2="516.6" y2="387.33" stroke="#333" stroke-width="0.6"/>
<text x="513.4" y="389.28" font-size="5.42" text-anchor="end" fill="#4D4D4D" stroke="#4D4D4D" stroke-width="0.18">3,4−Dihydroxyphenylvaleric acid</text>
<line x1="514.3" y1="398.42" x2="516.6" y2="398.42" stroke="#333" stroke-width="0.6"/>
<text x="513.4" y="400.37" font-size="5.42" text-anchor="end" fill="#4D4D4D" stroke="#4D4D4D" stroke-width="0.18">Shinanolone</text>
<line x1="514.3" y1="409.51" x2="516.6" y2="409.51" stroke="#333" stroke-width="0.6"/>
<text x="513.4" y="411.46" font-size="5.42" text-anchor="end" fill="#4D4D4D" stroke="#4D4D4D" stroke-width="0.18">6−Hydroxy−5−methoxyindole glucuronide</text>
<line x1="514.3" y1="420.6" x2="516.6" y2="420.6" stroke="#333" stroke-width="0.6"/>
<text x="513.4" y="422.55" font-size="5.42" text-anchor="end" fill="#4D4D4D" stroke="#4D4D4D" stroke-width="0.18">2−Hydroxydesogestrel</text>
<line x1="514.3" y1="431.69" x2="516.6" y2="431.69" stroke="#333" stroke-width="0.6"/>
<text x="513.4" y="433.64" font-size="5.42" text-anchor="end" fill="#4D4D4D" stroke="#4D4D4D" stroke-width="0.18">4−Ethoxybenzaldehyde</text>
<line x1="514.3" y1="442.78" x2="516.6" y2="442.78" stroke="#333" stroke-width="0.6"/>
<text x="513.4" y="444.73" font-size="5.42" text-anchor="end" fill="#4D4D4D" stroke="#4D4D4D" stroke-width="0.18">3−Methyloxindole</text>
<line x1="514.3" y1="453.87" x2="516.6" y2="453.87" stroke="#333" stroke-width="0.6"/>
<text x="513.4" y="455.82" font-size="5.42" text-anchor="end" fill="#4D4D4D" stroke="#4D4D4D" stroke-width="0.18">Methyl 3−phenylpropanoate</text>
<line x1="514.3" y1="464.96" x2="516.6" y2="464.96" stroke="#333" stroke-width="0.6"/>
<text x="513.4" y="466.91" font-size="5.42" text-anchor="end" fill="#4D4D4D" stroke="#4D4D4D" stroke-width="0.18">Isopropyl 4−hydroxybenzoate</text>
<line x1="514.3" y1="476.05" x2="516.6" y2="476.05" stroke="#333" stroke-width="0.6"/>
<text x="513.4" y="478" font-size="5.42" text-anchor="end" fill="#4D4D4D" stroke="#4D4D4D" stroke-width="0.18">Vitamin A2</text>
<line x1="514.3" y1="487.14" x2="516.6" y2="487.14" stroke="#333" stroke-width="0.6"/>
<text x="513.4" y="489.09" font-size="5.42" text-anchor="end" fill="#4D4D4D" stroke="#4D4D4D" stroke-width="0.18">12−HETrE</text>
<line x1="514.3" y1="498.23" x2="516.6" y2="498.23" stroke="#333" stroke-width="0.6"/>
<text x="513.4" y="500.18" font-size="5.42" text-anchor="end" fill="#4D4D4D" stroke="#4D4D4D" stroke-width="0.18">12−HEPE</text>
<line x1="514.3" y1="509.32" x2="516.6" y2="509.32" stroke="#333" stroke-width="0.6"/>
<text x="513.4" y="511.27" font-size="5.42" text-anchor="end" fill="#4D4D4D" stroke="#4D4D4D" stroke-width="0.18">12 Hydroxy arachidonic acid</text>
<line x1="514.3" y1="520.41" x2="516.6" y2="520.41" stroke="#333" stroke-width="0.6"/>
<text x="513.4" y="522.36" font-size="5.42" text-anchor="end" fill="#4D4D4D" stroke="#4D4D4D" stroke-width="0.18">4−OH−Retinal</text>
<line x1="514.3" y1="531.5" x2="516.6" y2="531.5" stroke="#333" stroke-width="0.6"/>
<text x="513.4" y="533.45" font-size="5.42" text-anchor="end" fill="#4D4D4D" stroke="#4D4D4D" stroke-width="0.18">Tetrahydrogestrinone</text>
<line x1="514.3" y1="542.59" x2="516.6" y2="542.59" stroke="#333" stroke-width="0.6"/>
<text x="513.4" y="544.54" font-size="5.42" text-anchor="end" fill="#4D4D4D" stroke="#4D4D4D" stroke-width="0.18">Sinapic acid</text>
<line x1="514.3" y1="553.68" x2="516.6" y2="553.68" stroke="#333" stroke-width="0.6"/>
<text x="513.4" y="555.63" font-size="5.42" text-anchor="end" fill="#4D4D4D" stroke="#4D4D4D" stroke-width="0.18">1,2,3,4−Tetrahydroisoquinoline−3−carboxylic acid</text>
<line x1="514.3" y1="564.77" x2="516.6" y2="564.77" stroke="#333" stroke-width="0.6"/>
<text x="513.4" y="566.72" font-size="5.42" text-anchor="end" fill="#4D4D4D" stroke="#4D4D4D" stroke-width="0.18">Arabinosylhypoxanthine</text>
<line x1="526.8" y1="571.2" x2="526.8" y2="573.5" stroke="#333" stroke-width="0.6"/>
<text x="526.8" y="578.5" font-size="5.5" text-anchor="middle" fill="#4D4D4D" stroke="#4D4D4D" stroke-width="0.18">−1</text>
<line x1="575.9" y1="571.2" x2="575.9" y2="573.5" stroke="#333" stroke-width="0.6"/>
<text x="575.9" y="578.5" font-size="5.5" text-anchor="middle" fill="#4D4D4D" stroke="#4D4D4D" stroke-width="0.18">0</text>
<line x1="625" y1="571.2" x2="625" y2="573.5" stroke="#333" stroke-width="0.6"/>
<text x="625" y="578.5" font-size="5.5" text-anchor="middle" fill="#4D4D4D" stroke="#4D4D4D" stroke-width="0.18">1</text>
<line x1="674.1" y1="571.2" x2="674.1" y2="573.5" stroke="#333" stroke-width="0.6"/>
<text x="674.1" y="578.5" font-size="5.5" text-anchor="middle" fill="#4D4D4D" stroke="#4D4D4D" stroke-width="0.18">2</text>
<text x="599.1" y="585.5" font-size="6.7" text-anchor="middle" fill="#000" stroke="#000" stroke-width="0.18">Log Fold Change</text>
<text x="516.3" y="297.8" font-size="7.9" text-anchor="start" fill="#000" stroke="#000" stroke-width="0.18">Plasma Metabolites</text>
<line x1="118.4" y1="723.95" x2="292.2" y2="723.95" stroke="#F3F3F3" stroke-width="0.5"/>
<line x1="118.4" y1="689.05" x2="292.2" y2="689.05" stroke="#F3F3F3" stroke-width="0.5"/>
<line x1="118.4" y1="654.15" x2="292.2" y2="654.15" stroke="#F3F3F3" stroke-width="0.5"/>
<line x1="118.4" y1="619.25" x2="292.2" y2="619.25" stroke="#F3F3F3" stroke-width="0.5"/>
<line x1="118.4" y1="636.7" x2="292.2" y2="636.7" stroke="#EBEBEB" stroke-width="0.7"/>
<line x1="118.4" y1="671.6" x2="292.2" y2="671.6" stroke="#EBEBEB" stroke-width="0.7"/>
<line x1="118.4" y1="706.5" x2="292.2" y2="706.5" stroke="#EBEBEB" stroke-width="0.7"/>
<line x1="118.4" y1="741.4" x2="292.2" y2="741.4" stroke="#EBEBEB" stroke-width="0.7"/>
<line x1="151.1" y1="619.2" x2="151.1" y2="741.8" stroke="#EBEBEB" stroke-width="0.7"/>
<line x1="205.7" y1="619.2" x2="205.7" y2="741.8" stroke="#EBEBEB" stroke-width="0.7"/>
<line x1="260.5" y1="619.2" x2="260.5" y2="741.8" stroke="#EBEBEB" stroke-width="0.7"/>
<line x1="140.8" y1="632.9" x2="140.8" y2="650.1" stroke="#0072B5" stroke-width="0.8"/>
<line x1="140.8" y1="663.1" x2="140.8" y2="682.4" stroke="#0072B5" stroke-width="0.8"/>
<rect x="131.4" y="650.1" width="18.8" height="13" fill="#fff" fill-opacity="0.0" stroke="#0072B5" stroke-width="0.8"/>
<line x1="131.4" y1="657.6" x2="150.2" y2="657.6" stroke="#0072B5" stroke-width="1.28"/>
<line x1="161.05" y1="627.4" x2="161.05" y2="647.3" stroke="#BC3C29" stroke-width="0.8"/>
<line x1="161.05" y1="658.1" x2="161.05" y2="670.4" stroke="#BC3C29" stroke-width="0.8"/>
<rect x="151.6" y="647.3" width="18.9" height="10.8" fill="#fff" fill-opacity="0.0" stroke="#BC3C29" stroke-width="0.8"/>
<line x1="151.6" y1="652.6" x2="170.5" y2="652.6" stroke="#BC3C29" stroke-width="1.28"/>
<line x1="195.45" y1="642.4" x2="195.45" y2="659.8" stroke="#0072B5" stroke-width="0.8"/>
<line x1="195.45" y1="673.5" x2="195.45" y2="693.4" stroke="#0072B5" stroke-width="0.8"/>
<rect x="186.1" y="659.8" width="18.7" height="13.7" fill="#fff" fill-opacity="0.0" stroke="#0072B5" stroke-width="0.8"/>
<line x1="186.1" y1="667.6" x2="204.8" y2="667.6" stroke="#0072B5" stroke-width="1.28"/>
<line x1="215.45" y1="644.4" x2="215.45" y2="658.5" stroke="#BC3C29" stroke-width="0.8"/>
<line x1="215.45" y1="669.8" x2="215.45" y2="684.4" stroke="#BC3C29" stroke-width="0.8"/>
<rect x="206.1" y="658.5" width="18.7" height="11.3" fill="#fff" fill-opacity="0.0" stroke="#BC3C29" stroke-width="0.8"/>
<line x1="206.1" y1="663" x2="224.8" y2="663" stroke="#BC3C29" stroke-width="1.28"/>
<line x1="249.65" y1="632.9" x2="249.65" y2="683.9" stroke="#0072B5" stroke-width="0.8"/>
<line x1="249.65" y1="720.5" x2="249.65" y2="736.4" stroke="#0072B5" stroke-width="0.8"/>
<rect x="240.4" y="683.9" width="18.5" height="36.6" fill="#fff" fill-opacity="0.0" stroke="#0072B5" stroke-width="0.8"/>
<line x1="240.4" y1="709.3" x2="258.9" y2="709.3" stroke="#0072B5" stroke-width="1.28"/>
<line x1="270.35" y1="640.4" x2="270.35" y2="677.2" stroke="#BC3C29" stroke-width="0.8"/>
<line x1="270.35" y1="716.5" x2="270.35" y2="734.9" stroke="#BC3C29" stroke-width="0.8"/>
<rect x="261.1" y="677.2" width="18.5" height="39.3" fill="#fff" fill-opacity="0.0" stroke="#BC3C29" stroke-width="0.8"/>
<line x1="261.1" y1="696.2" x2="279.6" y2="696.2" stroke="#BC3C29" stroke-width="1.28"/>
<circle cx="139.43" cy="658.43" r="0.8" fill="#0072B5" fill-opacity="0.65"/>
<circle cx="140.53" cy="650.64" r="0.8" fill="#0072B5" fill-opacity="0.65"/>
<circle cx="138.54" cy="652.84" r="0.8" fill="#0072B5" fill-opacity="0.65"/>
<circle cx="140.44" cy="663.2" r="0.8" fill="#0072B5" fill-opacity="0.65"/>
<circle cx="139.24" cy="657.98" r="0.8" fill="#0072B5" fill-opacity="0.65"/>
<circle cx="143.85" cy="677.34" r="0.8" fill="#0072B5" fill-opacity="0.65"/>
<circle cx="143.92" cy="672.26" r="0.8" fill="#0072B5" fill-opacity="0.65"/>
<circle cx="141.11" cy="642.96" r="0.8" fill="#0072B5" fill-opacity="0.65"/>
<circle cx="139.11" cy="662.97" r="0.8" fill="#0072B5" fill-opacity="0.65"/>
<circle cx="143.87" cy="665.76" r="0.8" fill="#0072B5" fill-opacity="0.65"/>
<circle cx="139.54" cy="666.04" r="0.8" fill="#0072B5" fill-opacity="0.65"/>
<circle cx="139.85" cy="648.99" r="0.8" fill="#0072B5" fill-opacity="0.65"/>
<circle cx="137.51" cy="654.89" r="0.8" fill="#0072B5" fill-opacity="0.65"/>
<circle cx="140.02" cy="660.61" r="0.8" fill="#0072B5" fill-opacity="0.65"/>
<circle cx="140.63" cy="664.64" r="0.8" fill="#0072B5" fill-opacity="0.65"/>
<circle cx="140.82" cy="653.31" r="0.8" fill="#0072B5" fill-opacity="0.65"/>
<circle cx="138.83" cy="660.82" r="0.8" fill="#0072B5" fill-opacity="0.65"/>
<circle cx="140.83" cy="659.25" r="0.8" fill="#0072B5" fill-opacity="0.65"/>
<circle cx="137.53" cy="640.4" r="0.8" fill="#0072B5" fill-opacity="0.65"/>
<circle cx="139.24" cy="669.99" r="0.8" fill="#0072B5" fill-opacity="0.65"/>
<circle cx="138.09" cy="639.72" r="0.8" fill="#0072B5" fill-opacity="0.65"/>
<circle cx="140.14" cy="662.99" r="0.8" fill="#0072B5" fill-opacity="0.65"/>
<circle cx="137.78" cy="675.47" r="0.8" fill="#0072B5" fill-opacity="0.65"/>
<circle cx="137.65" cy="663.21" r="0.8" fill="#0072B5" fill-opacity="0.65"/>
<circle cx="139.51" cy="655.83" r="0.8" fill="#0072B5" fill-opacity="0.65"/>
<circle cx="139.04" cy="656.67" r="0.8" fill="#0072B5" fill-opacity="0.65"/>
<circle cx="141.36" cy="661.42" r="0.8" fill="#0072B5" fill-opacity="0.65"/>
<circle cx="140.99" cy="654.45" r="0.8" fill="#0072B5" fill-opacity="0.65"/>
<circle cx="142.45" cy="662.22" r="0.8" fill="#0072B5" fill-opacity="0.65"/>
<circle cx="141.84" cy="644.89" r="0.8" fill="#0072B5" fill-opacity="0.65"/>
<circle cx="142.23" cy="650.56" r="0.8" fill="#0072B5" fill-opacity="0.65"/>
<circle cx="143.3" cy="654.95" r="0.8" fill="#0072B5" fill-opacity="0.65"/>
<circle cx="140.07" cy="637.53" r="0.8" fill="#0072B5" fill-opacity="0.65"/>
<circle cx="139.65" cy="659.72" r="0.8" fill="#0072B5" fill-opacity="0.65"/>
<circle cx="144" cy="650.27" r="0.8" fill="#0072B5" fill-opacity="0.65"/>
<circle cx="138.49" cy="658.52" r="0.8" fill="#0072B5" fill-opacity="0.65"/>
<circle cx="142.28" cy="675.76" r="0.8" fill="#0072B5" fill-opacity="0.65"/>
<circle cx="141.75" cy="667.39" r="0.8" fill="#0072B5" fill-opacity="0.65"/>
<circle cx="137.79" cy="649.79" r="0.8" fill="#0072B5" fill-opacity="0.65"/>
<circle cx="143.01" cy="660.62" r="0.8" fill="#0072B5" fill-opacity="0.65"/>
<circle cx="143.39" cy="637.6" r="0.8" fill="#0072B5" fill-opacity="0.65"/>
<circle cx="141.64" cy="647.88" r="0.8" fill="#0072B5" fill-opacity="0.65"/>
<circle cx="142.34" cy="659.57" r="0.8" fill="#0072B5" fill-opacity="0.65"/>
<circle cx="142.86" cy="634.05" r="0.8" fill="#0072B5" fill-opacity="0.65"/>
<circle cx="138.42" cy="664.96" r="0.8" fill="#0072B5" fill-opacity="0.65"/>
<circle cx="140.96" cy="671.38" r="0.8" fill="#0072B5" fill-opacity="0.65"/>
<circle cx="140.83" cy="657.62" r="0.8" fill="#0072B5" fill-opacity="0.65"/>
<circle cx="143.01" cy="659.63" r="0.8" fill="#0072B5" fill-opacity="0.65"/>
<circle cx="142.81" cy="657.25" r="0.8" fill="#0072B5" fill-opacity="0.65"/>
<circle cx="142.95" cy="653.97" r="0.8" fill="#0072B5" fill-opacity="0.65"/>
<circle cx="141.35" cy="655.17" r="0.8" fill="#0072B5" fill-opacity="0.65"/>
<circle cx="143.39" cy="676.07" r="0.8" fill="#0072B5" fill-opacity="0.65"/>
<circle cx="142.01" cy="638.12" r="0.8" fill="#0072B5" fill-opacity="0.65"/>
<circle cx="142.08" cy="659.79" r="0.8" fill="#0072B5" fill-opacity="0.65"/>
<circle cx="139.02" cy="663.33" r="0.8" fill="#0072B5" fill-opacity="0.65"/>
<circle cx="137.71" cy="664.15" r="0.8" fill="#0072B5" fill-opacity="0.65"/>
<circle cx="138.38" cy="657.89" r="0.8" fill="#0072B5" fill-opacity="0.65"/>
<circle cx="139.88" cy="663.6" r="0.8" fill="#0072B5" fill-opacity="0.65"/>
<circle cx="138.19" cy="657.74" r="0.8" fill="#0072B5" fill-opacity="0.65"/>
<circle cx="143.02" cy="642.22" r="0.8" fill="#0072B5" fill-opacity="0.65"/>
<circle cx="141.19" cy="666.66" r="0.8" fill="#0072B5" fill-opacity="0.65"/>
<circle cx="141.64" cy="658.28" r="0.8" fill="#0072B5" fill-opacity="0.65"/>
<circle cx="141.63" cy="633.09" r="0.8" fill="#0072B5" fill-opacity="0.65"/>
<circle cx="141.99" cy="660.26" r="0.8" fill="#0072B5" fill-opacity="0.65"/>
<circle cx="140.73" cy="666.58" r="0.8" fill="#0072B5" fill-opacity="0.65"/>
<circle cx="137.52" cy="662.16" r="0.8" fill="#0072B5" fill-opacity="0.65"/>
<circle cx="142.76" cy="680.91" r="0.8" fill="#0072B5" fill-opacity="0.65"/>
<circle cx="142.44" cy="651.2" r="0.8" fill="#0072B5" fill-opacity="0.65"/>
<circle cx="140.82" cy="650.3" r="0.8" fill="#0072B5" fill-opacity="0.65"/>
<circle cx="141.03" cy="657.44" r="0.8" fill="#0072B5" fill-opacity="0.65"/>
<circle cx="141.85" cy="640.46" r="0.8" fill="#0072B5" fill-opacity="0.65"/>
<circle cx="137.94" cy="659.62" r="0.8" fill="#0072B5" fill-opacity="0.65"/>
<circle cx="142.36" cy="670.14" r="0.8" fill="#0072B5" fill-opacity="0.65"/>
<circle cx="139.16" cy="647.19" r="0.8" fill="#0072B5" fill-opacity="0.65"/>
<circle cx="137.99" cy="681.94" r="0.8" fill="#0072B5" fill-opacity="0.65"/>
<circle cx="139.25" cy="637.92" r="0.8" fill="#0072B5" fill-opacity="0.65"/>
<circle cx="142.31" cy="639.48" r="0.8" fill="#0072B5" fill-opacity="0.65"/>
<circle cx="138.85" cy="666.79" r="0.8" fill="#0072B5" fill-opacity="0.65"/>
<circle cx="142.38" cy="665.61" r="0.8" fill="#0072B5" fill-opacity="0.65"/>
<circle cx="143.94" cy="661.41" r="0.8" fill="#0072B5" fill-opacity="0.65"/>
<circle cx="140.76" cy="645.35" r="0.8" fill="#0072B5" fill-opacity="0.65"/>
<circle cx="140.02" cy="633.23" r="0.8" fill="#0072B5" fill-opacity="0.65"/>
<circle cx="140.66" cy="646.68" r="0.8" fill="#0072B5" fill-opacity="0.65"/>
<circle cx="142.01" cy="664.53" r="0.8" fill="#0072B5" fill-opacity="0.65"/>
<circle cx="142.56" cy="679.41" r="0.8" fill="#0072B5" fill-opacity="0.65"/>
<circle cx="141.57" cy="644.79" r="0.8" fill="#0072B5" fill-opacity="0.65"/>
<circle cx="141.74" cy="656.1" r="0.8" fill="#0072B5" fill-opacity="0.65"/>
<circle cx="138.01" cy="679.69" r="0.8" fill="#0072B5" fill-opacity="0.65"/>
<circle cx="138.47" cy="639.24" r="0.8" fill="#0072B5" fill-opacity="0.65"/>
<circle cx="139.18" cy="658.58" r="0.8" fill="#0072B5" fill-opacity="0.65"/>
<circle cx="142.41" cy="647.15" r="0.8" fill="#0072B5" fill-opacity="0.65"/>
<circle cx="139.51" cy="633.67" r="0.8" fill="#0072B5" fill-opacity="0.65"/>
<circle cx="141.25" cy="659.81" r="0.8" fill="#0072B5" fill-opacity="0.65"/>
<circle cx="137.58" cy="639.82" r="0.8" fill="#0072B5" fill-opacity="0.65"/>
<circle cx="137.9" cy="664.04" r="0.8" fill="#0072B5" fill-opacity="0.65"/>
<circle cx="139.27" cy="637.91" r="0.8" fill="#0072B5" fill-opacity="0.65"/>
<circle cx="141.94" cy="681.8" r="0.8" fill="#0072B5" fill-opacity="0.65"/>
<circle cx="142.07" cy="652.73" r="0.8" fill="#0072B5" fill-opacity="0.65"/>
<circle cx="141.96" cy="651.08" r="0.8" fill="#0072B5" fill-opacity="0.65"/>
<circle cx="139.42" cy="672.78" r="0.8" fill="#0072B5" fill-opacity="0.65"/>
<circle cx="140.91" cy="657.1" r="0.8" fill="#0072B5" fill-opacity="0.65"/>
<circle cx="140.57" cy="662.39" r="0.8" fill="#0072B5" fill-opacity="0.65"/>
<circle cx="140.58" cy="648.67" r="0.8" fill="#0072B5" fill-opacity="0.65"/>
<circle cx="138.28" cy="659.21" r="0.8" fill="#0072B5" fill-opacity="0.65"/>
<circle cx="143.4" cy="665.33" r="0.8" fill="#0072B5" fill-opacity="0.65"/>
<circle cx="138.82" cy="658.32" r="0.8" fill="#0072B5" fill-opacity="0.65"/>
<circle cx="143.96" cy="646.84" r="0.8" fill="#0072B5" fill-opacity="0.65"/>
<circle cx="143.68" cy="660.81" r="0.8" fill="#0072B5" fill-opacity="0.65"/>
<circle cx="137.62" cy="645.8" r="0.8" fill="#0072B5" fill-opacity="0.65"/>
<circle cx="140.53" cy="644.4" r="0.8" fill="#0072B5" fill-opacity="0.65"/>
<circle cx="142.91" cy="654.03" r="0.8" fill="#0072B5" fill-opacity="0.65"/>
<circle cx="143.89" cy="664.38" r="0.8" fill="#0072B5" fill-opacity="0.65"/>
<circle cx="140.47" cy="664.26" r="0.8" fill="#0072B5" fill-opacity="0.65"/>
<circle cx="139.27" cy="661.59" r="0.8" fill="#0072B5" fill-opacity="0.65"/>
<circle cx="138.88" cy="652.54" r="0.8" fill="#0072B5" fill-opacity="0.65"/>
<circle cx="143.74" cy="654.27" r="0.8" fill="#0072B5" fill-opacity="0.65"/>
<circle cx="138.89" cy="649.62" r="0.8" fill="#0072B5" fill-opacity="0.65"/>
<circle cx="141.34" cy="651.96" r="0.8" fill="#0072B5" fill-opacity="0.65"/>
<circle cx="138.44" cy="661.85" r="0.8" fill="#0072B5" fill-opacity="0.65"/>
<circle cx="140.96" cy="654.31" r="0.8" fill="#0072B5" fill-opacity="0.65"/>
<circle cx="143.79" cy="635.24" r="0.8" fill="#0072B5" fill-opacity="0.65"/>
<circle cx="138.38" cy="660.97" r="0.8" fill="#0072B5" fill-opacity="0.65"/>
<circle cx="142.91" cy="653.94" r="0.8" fill="#0072B5" fill-opacity="0.65"/>
<circle cx="140.86" cy="653.49" r="0.8" fill="#0072B5" fill-opacity="0.65"/>
<circle cx="143.35" cy="653.69" r="0.8" fill="#0072B5" fill-opacity="0.65"/>
<circle cx="142.14" cy="640.4" r="0.8" fill="#0072B5" fill-opacity="0.65"/>
<circle cx="139.03" cy="634.46" r="0.8" fill="#0072B5" fill-opacity="0.65"/>
<circle cx="143.42" cy="660.68" r="0.8" fill="#0072B5" fill-opacity="0.65"/>
<circle cx="140.71" cy="637.09" r="0.8" fill="#0072B5" fill-opacity="0.65"/>
<circle cx="137.66" cy="668.33" r="0.8" fill="#0072B5" fill-opacity="0.65"/>
<circle cx="137.52" cy="663.39" r="0.8" fill="#0072B5" fill-opacity="0.65"/>
<circle cx="140.75" cy="655.98" r="0.8" fill="#0072B5" fill-opacity="0.65"/>
<circle cx="140.48" cy="649.23" r="0.8" fill="#0072B5" fill-opacity="0.65"/>
<circle cx="139.49" cy="655.05" r="0.8" fill="#0072B5" fill-opacity="0.65"/>
<circle cx="138.43" cy="681.41" r="0.8" fill="#0072B5" fill-opacity="0.65"/>
<circle cx="139.77" cy="667.52" r="0.8" fill="#0072B5" fill-opacity="0.65"/>
<circle cx="139.59" cy="663.04" r="0.8" fill="#0072B5" fill-opacity="0.65"/>
<circle cx="143.05" cy="649.17" r="0.8" fill="#0072B5" fill-opacity="0.65"/>
<circle cx="137.51" cy="660.44" r="0.8" fill="#0072B5" fill-opacity="0.65"/>
<circle cx="142.45" cy="658.68" r="0.8" fill="#0072B5" fill-opacity="0.65"/>
<circle cx="143.04" cy="661.57" r="0.8" fill="#0072B5" fill-opacity="0.65"/>
<circle cx="138.29" cy="668.3" r="0.8" fill="#0072B5" fill-opacity="0.65"/>
<circle cx="143.61" cy="672.17" r="0.8" fill="#0072B5" fill-opacity="0.65"/>
<circle cx="142.21" cy="650.58" r="0.8" fill="#0072B5" fill-opacity="0.65"/>
<circle cx="143.45" cy="638.34" r="0.8" fill="#0072B5" fill-opacity="0.65"/>
<circle cx="139.41" cy="649.63" r="0.8" fill="#0072B5" fill-opacity="0.65"/>
<circle cx="139.96" cy="657.82" r="0.8" fill="#0072B5" fill-opacity="0.65"/>
<circle cx="140.09" cy="647.98" r="0.8" fill="#0072B5" fill-opacity="0.65"/>
<circle cx="144.09" cy="679.74" r="0.8" fill="#0072B5" fill-opacity="0.65"/>
<circle cx="141.39" cy="648.12" r="0.8" fill="#0072B5" fill-opacity="0.65"/>
<circle cx="139.88" cy="670.96" r="0.8" fill="#0072B5" fill-opacity="0.65"/>
<circle cx="140.33" cy="650.77" r="0.8" fill="#0072B5" fill-opacity="0.65"/>
<circle cx="139.32" cy="668.01" r="0.8" fill="#0072B5" fill-opacity="0.65"/>
<circle cx="137.82" cy="672.42" r="0.8" fill="#0072B5" fill-opacity="0.65"/>
<circle cx="138.17" cy="649.77" r="0.8" fill="#0072B5" fill-opacity="0.65"/>
<circle cx="143.01" cy="649.87" r="0.8" fill="#0072B5" fill-opacity="0.65"/>
<circle cx="139.39" cy="645.24" r="0.8" fill="#0072B5" fill-opacity="0.65"/>
<circle cx="143.67" cy="660.64" r="0.8" fill="#0072B5" fill-opacity="0.65"/>
<circle cx="139.15" cy="648.01" r="0.8" fill="#0072B5" fill-opacity="0.65"/>
<circle cx="139.25" cy="665.05" r="0.8" fill="#0072B5" fill-opacity="0.65"/>
<circle cx="140.87" cy="663.26" r="0.8" fill="#0072B5" fill-opacity="0.65"/>
<circle cx="138.75" cy="665.99" r="0.8" fill="#0072B5" fill-opacity="0.65"/>
<circle cx="139.96" cy="647.73" r="0.8" fill="#0072B5" fill-opacity="0.65"/>
<circle cx="143.81" cy="651.43" r="0.8" fill="#0072B5" fill-opacity="0.65"/>
<circle cx="143.34" cy="657.7" r="0.8" fill="#0072B5" fill-opacity="0.65"/>
<circle cx="142.86" cy="657.68" r="0.8" fill="#0072B5" fill-opacity="0.65"/>
<circle cx="141.66" cy="654.23" r="0.8" fill="#0072B5" fill-opacity="0.65"/>
<circle cx="143.53" cy="680.42" r="0.8" fill="#0072B5" fill-opacity="0.65"/>
<circle cx="143.71" cy="668.14" r="0.8" fill="#0072B5" fill-opacity="0.65"/>
<circle cx="141.12" cy="662.19" r="0.8" fill="#0072B5" fill-opacity="0.65"/>
<circle cx="142.25" cy="660.39" r="0.8" fill="#0072B5" fill-opacity="0.65"/>
<circle cx="137.83" cy="657.47" r="0.8" fill="#0072B5" fill-opacity="0.65"/>
<circle cx="142.33" cy="662.18" r="0.8" fill="#0072B5" fill-opacity="0.65"/>
<circle cx="140.48" cy="654.87" r="0.8" fill="#0072B5" fill-opacity="0.65"/>
<circle cx="142.47" cy="659.51" r="0.8" fill="#0072B5" fill-opacity="0.65"/>
<circle cx="141.75" cy="663.38" r="0.8" fill="#0072B5" fill-opacity="0.65"/>
<circle cx="139.39" cy="652.02" r="0.8" fill="#0072B5" fill-opacity="0.65"/>
<circle cx="137.82" cy="677.74" r="0.8" fill="#0072B5" fill-opacity="0.65"/>
<circle cx="143.62" cy="641.03" r="0.8" fill="#0072B5" fill-opacity="0.65"/>
<circle cx="138.34" cy="658.93" r="0.8" fill="#0072B5" fill-opacity="0.65"/>
<circle cx="140.62" cy="701.9" r="0.8" fill="#0072B5" fill-opacity="0.65"/>
<circle cx="139.77" cy="704.9" r="0.8" fill="#0072B5" fill-opacity="0.65"/>
<circle cx="160.5" cy="656.66" r="0.8" fill="#BC3C29" fill-opacity="0.65"/>
<circle cx="161.84" cy="644.99" r="0.8" fill="#BC3C29" fill-opacity="0.65"/>
<circle cx="162.2" cy="648.89" r="0.8" fill="#BC3C29" fill-opacity="0.65"/>
<circle cx="162.69" cy="649.39" r="0.8" fill="#BC3C29" fill-opacity="0.65"/>
<circle cx="163.34" cy="659.1" r="0.8" fill="#BC3C29" fill-opacity="0.65"/>
<circle cx="162.14" cy="640.8" r="0.8" fill="#BC3C29" fill-opacity="0.65"/>
<circle cx="158.55" cy="670.33" r="0.8" fill="#BC3C29" fill-opacity="0.65"/>
<circle cx="163.3" cy="653.37" r="0.8" fill="#BC3C29" fill-opacity="0.65"/>
<circle cx="159.69" cy="660.31" r="0.8" fill="#BC3C29" fill-opacity="0.65"/>
<circle cx="161.49" cy="659.51" r="0.8" fill="#BC3C29" fill-opacity="0.65"/>
<circle cx="160.21" cy="652" r="0.8" fill="#BC3C29" fill-opacity="0.65"/>
<circle cx="162.62" cy="649.49" r="0.8" fill="#BC3C29" fill-opacity="0.65"/>
<circle cx="159.06" cy="655.48" r="0.8" fill="#BC3C29" fill-opacity="0.65"/>
<circle cx="159.38" cy="654.46" r="0.8" fill="#BC3C29" fill-opacity="0.65"/>
<circle cx="159.37" cy="669.77" r="0.8" fill="#BC3C29" fill-opacity="0.65"/>
<circle cx="158.76" cy="663.97" r="0.8" fill="#BC3C29" fill-opacity="0.65"/>
<circle cx="163.59" cy="645.59" r="0.8" fill="#BC3C29" fill-opacity="0.65"/>
<circle cx="161.57" cy="653.97" r="0.8" fill="#BC3C29" fill-opacity="0.65"/>
<circle cx="159.9" cy="655.05" r="0.8" fill="#BC3C29" fill-opacity="0.65"/>
<circle cx="160.36" cy="631.99" r="0.8" fill="#BC3C29" fill-opacity="0.65"/>
<circle cx="164.3" cy="647.26" r="0.8" fill="#BC3C29" fill-opacity="0.65"/>
<circle cx="161.1" cy="668.41" r="0.8" fill="#BC3C29" fill-opacity="0.65"/>
<circle cx="159.28" cy="655.83" r="0.8" fill="#BC3C29" fill-opacity="0.65"/>
<circle cx="163.09" cy="668.99" r="0.8" fill="#BC3C29" fill-opacity="0.65"/>
<circle cx="162.06" cy="631.8" r="0.8" fill="#BC3C29" fill-opacity="0.65"/>
<circle cx="164.29" cy="645.16" r="0.8" fill="#BC3C29" fill-opacity="0.65"/>
<circle cx="158.43" cy="662.45" r="0.8" fill="#BC3C29" fill-opacity="0.65"/>
<circle cx="160.88" cy="652.29" r="0.8" fill="#BC3C29" fill-opacity="0.65"/>
<circle cx="163.16" cy="650.73" r="0.8" fill="#BC3C29" fill-opacity="0.65"/>
<circle cx="163.3" cy="641.61" r="0.8" fill="#BC3C29" fill-opacity="0.65"/>
<circle cx="163.78" cy="647.51" r="0.8" fill="#BC3C29" fill-opacity="0.65"/>
<circle cx="158.02" cy="645.37" r="0.8" fill="#BC3C29" fill-opacity="0.65"/>
<circle cx="159.69" cy="637.42" r="0.8" fill="#BC3C29" fill-opacity="0.65"/>
<circle cx="158.54" cy="653.3" r="0.8" fill="#BC3C29" fill-opacity="0.65"/>
<circle cx="159" cy="656.1" r="0.8" fill="#BC3C29" fill-opacity="0.65"/>
<circle cx="164.17" cy="647.89" r="0.8" fill="#BC3C29" fill-opacity="0.65"/>
<circle cx="161.6" cy="663.29" r="0.8" fill="#BC3C29" fill-opacity="0.65"/>
<circle cx="163.89" cy="653.83" r="0.8" fill="#BC3C29" fill-opacity="0.65"/>
<circle cx="160.21" cy="647.36" r="0.8" fill="#BC3C29" fill-opacity="0.65"/>
<circle cx="163.47" cy="655.13" r="0.8" fill="#BC3C29" fill-opacity="0.65"/>
<circle cx="160.71" cy="637.44" r="0.8" fill="#BC3C29" fill-opacity="0.65"/>
<circle cx="159.47" cy="641.25" r="0.8" fill="#BC3C29" fill-opacity="0.65"/>
<circle cx="162.88" cy="669.63" r="0.8" fill="#BC3C29" fill-opacity="0.65"/>
<circle cx="163.99" cy="648.93" r="0.8" fill="#BC3C29" fill-opacity="0.65"/>
<circle cx="158.45" cy="664.65" r="0.8" fill="#BC3C29" fill-opacity="0.65"/>
<circle cx="161.68" cy="654.01" r="0.8" fill="#BC3C29" fill-opacity="0.65"/>
<circle cx="161.84" cy="652.2" r="0.8" fill="#BC3C29" fill-opacity="0.65"/>
<circle cx="159.19" cy="660.27" r="0.8" fill="#BC3C29" fill-opacity="0.65"/>
<circle cx="160.18" cy="656.35" r="0.8" fill="#BC3C29" fill-opacity="0.65"/>
<circle cx="158.68" cy="665.68" r="0.8" fill="#BC3C29" fill-opacity="0.65"/>
<circle cx="159.1" cy="648.39" r="0.8" fill="#BC3C29" fill-opacity="0.65"/>
<circle cx="159.43" cy="644.22" r="0.8" fill="#BC3C29" fill-opacity="0.65"/>
<circle cx="161.71" cy="645.39" r="0.8" fill="#BC3C29" fill-opacity="0.65"/>
<circle cx="162.05" cy="659.84" r="0.8" fill="#BC3C29" fill-opacity="0.65"/>
<circle cx="159.09" cy="640.82" r="0.8" fill="#BC3C29" fill-opacity="0.65"/>
<circle cx="157.83" cy="661.14" r="0.8" fill="#BC3C29" fill-opacity="0.65"/>
<circle cx="159.91" cy="652.33" r="0.8" fill="#BC3C29" fill-opacity="0.65"/>
<circle cx="162.23" cy="659.14" r="0.8" fill="#BC3C29" fill-opacity="0.65"/>
<circle cx="158.97" cy="646.42" r="0.8" fill="#BC3C29" fill-opacity="0.65"/>
<circle cx="159.81" cy="660.86" r="0.8" fill="#BC3C29" fill-opacity="0.65"/>
<circle cx="159.09" cy="630.98" r="0.8" fill="#BC3C29" fill-opacity="0.65"/>
<circle cx="163" cy="652.59" r="0.8" fill="#BC3C29" fill-opacity="0.65"/>
<circle cx="161.37" cy="643.94" r="0.8" fill="#BC3C29" fill-opacity="0.65"/>
<circle cx="158.17" cy="665.8" r="0.8" fill="#BC3C29" fill-opacity="0.65"/>
<circle cx="158.42" cy="660.7" r="0.8" fill="#BC3C29" fill-opacity="0.65"/>
<circle cx="160.36" cy="654.42" r="0.8" fill="#BC3C29" fill-opacity="0.65"/>
<circle cx="161.38" cy="659.7" r="0.8" fill="#BC3C29" fill-opacity="0.65"/>
<circle cx="161.97" cy="657.86" r="0.8" fill="#BC3C29" fill-opacity="0.65"/>
<circle cx="158.35" cy="659.09" r="0.8" fill="#BC3C29" fill-opacity="0.65"/>
<circle cx="158.83" cy="657.12" r="0.8" fill="#BC3C29" fill-opacity="0.65"/>
<circle cx="162.34" cy="642.1" r="0.8" fill="#BC3C29" fill-opacity="0.65"/>
<circle cx="160.45" cy="660.64" r="0.8" fill="#BC3C29" fill-opacity="0.65"/>
<circle cx="159.62" cy="645.87" r="0.8" fill="#BC3C29" fill-opacity="0.65"/>
<circle cx="159.78" cy="657.53" r="0.8" fill="#BC3C29" fill-opacity="0.65"/>
<circle cx="164.04" cy="666.91" r="0.8" fill="#BC3C29" fill-opacity="0.65"/>
<circle cx="159.81" cy="647.18" r="0.8" fill="#BC3C29" fill-opacity="0.65"/>
<circle cx="161.49" cy="668.87" r="0.8" fill="#BC3C29" fill-opacity="0.65"/>
<circle cx="160.11" cy="656.71" r="0.8" fill="#BC3C29" fill-opacity="0.65"/>
<circle cx="160.5" cy="643.77" r="0.8" fill="#BC3C29" fill-opacity="0.65"/>
<circle cx="163.45" cy="657.87" r="0.8" fill="#BC3C29" fill-opacity="0.65"/>
<circle cx="164.33" cy="648.69" r="0.8" fill="#BC3C29" fill-opacity="0.65"/>
<circle cx="160.15" cy="648.98" r="0.8" fill="#BC3C29" fill-opacity="0.65"/>
<circle cx="159.05" cy="652.62" r="0.8" fill="#BC3C29" fill-opacity="0.65"/>
<circle cx="162.56" cy="629.99" r="0.8" fill="#BC3C29" fill-opacity="0.65"/>
<circle cx="159.09" cy="652.3" r="0.8" fill="#BC3C29" fill-opacity="0.65"/>
<circle cx="157.79" cy="661.84" r="0.8" fill="#BC3C29" fill-opacity="0.65"/>
<circle cx="163.7" cy="628.85" r="0.8" fill="#BC3C29" fill-opacity="0.65"/>
<circle cx="160.55" cy="653.98" r="0.8" fill="#BC3C29" fill-opacity="0.65"/>
<circle cx="163.16" cy="655.31" r="0.8" fill="#BC3C29" fill-opacity="0.65"/>
<circle cx="160.43" cy="645.99" r="0.8" fill="#BC3C29" fill-opacity="0.65"/>
<circle cx="163.58" cy="635.05" r="0.8" fill="#BC3C29" fill-opacity="0.65"/>
<circle cx="160.79" cy="634.12" r="0.8" fill="#BC3C29" fill-opacity="0.65"/>
<circle cx="158.82" cy="649.04" r="0.8" fill="#BC3C29" fill-opacity="0.65"/>
<circle cx="157.85" cy="654.59" r="0.8" fill="#BC3C29" fill-opacity="0.65"/>
<circle cx="161.39" cy="646.96" r="0.8" fill="#BC3C29" fill-opacity="0.65"/>
<circle cx="161.98" cy="659.42" r="0.8" fill="#BC3C29" fill-opacity="0.65"/>
<circle cx="163.75" cy="662.86" r="0.8" fill="#BC3C29" fill-opacity="0.65"/>
<circle cx="158.34" cy="657.99" r="0.8" fill="#BC3C29" fill-opacity="0.65"/>
<circle cx="161.86" cy="627.79" r="0.8" fill="#BC3C29" fill-opacity="0.65"/>
<circle cx="160.2" cy="653.06" r="0.8" fill="#BC3C29" fill-opacity="0.65"/>
<circle cx="161.08" cy="665.21" r="0.8" fill="#BC3C29" fill-opacity="0.65"/>
<circle cx="158.71" cy="653.89" r="0.8" fill="#BC3C29" fill-opacity="0.65"/>
<circle cx="159.62" cy="698.9" r="0.8" fill="#BC3C29" fill-opacity="0.65"/>
<circle cx="194.99" cy="667.02" r="0.8" fill="#0072B5" fill-opacity="0.65"/>
<circle cx="195.94" cy="687.56" r="0.8" fill="#0072B5" fill-opacity="0.65"/>
<circle cx="197.09" cy="658.5" r="0.8" fill="#0072B5" fill-opacity="0.65"/>
<circle cx="194.93" cy="692.63" r="0.8" fill="#0072B5" fill-opacity="0.65"/>
<circle cx="193.66" cy="667.91" r="0.8" fill="#0072B5" fill-opacity="0.65"/>
<circle cx="196.92" cy="655.98" r="0.8" fill="#0072B5" fill-opacity="0.65"/>
<circle cx="197.96" cy="651.69" r="0.8" fill="#0072B5" fill-opacity="0.65"/>
<circle cx="197.26" cy="658.87" r="0.8" fill="#0072B5" fill-opacity="0.65"/>
<circle cx="196.77" cy="658.23" r="0.8" fill="#0072B5" fill-opacity="0.65"/>
<circle cx="197.78" cy="672.59" r="0.8" fill="#0072B5" fill-opacity="0.65"/>
<circle cx="196.64" cy="658.65" r="0.8" fill="#0072B5" fill-opacity="0.65"/>
<circle cx="196.38" cy="680.44" r="0.8" fill="#0072B5" fill-opacity="0.65"/>
<circle cx="195.15" cy="668.33" r="0.8" fill="#0072B5" fill-opacity="0.65"/>
<circle cx="194.22" cy="690.23" r="0.8" fill="#0072B5" fill-opacity="0.65"/>
<circle cx="196.3" cy="686.26" r="0.8" fill="#0072B5" fill-opacity="0.65"/>
<circle cx="192.8" cy="674.15" r="0.8" fill="#0072B5" fill-opacity="0.65"/>
<circle cx="194.92" cy="664.09" r="0.8" fill="#0072B5" fill-opacity="0.65"/>
<circle cx="197.31" cy="662.19" r="0.8" fill="#0072B5" fill-opacity="0.65"/>
<circle cx="196.86" cy="671.04" r="0.8" fill="#0072B5" fill-opacity="0.65"/>
<circle cx="196.31" cy="671.49" r="0.8" fill="#0072B5" fill-opacity="0.65"/>
<circle cx="193.8" cy="670.19" r="0.8" fill="#0072B5" fill-opacity="0.65"/>
<circle cx="194.95" cy="679.85" r="0.8" fill="#0072B5" fill-opacity="0.65"/>
<circle cx="195.15" cy="686.87" r="0.8" fill="#0072B5" fill-opacity="0.65"/>
<circle cx="196.25" cy="668.66" r="0.8" fill="#0072B5" fill-opacity="0.65"/>
<circle cx="194.85" cy="668.23" r="0.8" fill="#0072B5" fill-opacity="0.65"/>
<circle cx="196.61" cy="673.94" r="0.8" fill="#0072B5" fill-opacity="0.65"/>
<circle cx="198.29" cy="670.61" r="0.8" fill="#0072B5" fill-opacity="0.65"/>
<circle cx="193.36" cy="673.87" r="0.8" fill="#0072B5" fill-opacity="0.65"/>
<circle cx="196.47" cy="665.87" r="0.8" fill="#0072B5" fill-opacity="0.65"/>
<circle cx="197.29" cy="660.22" r="0.8" fill="#0072B5" fill-opacity="0.65"/>
<circle cx="194.72" cy="662.75" r="0.8" fill="#0072B5" fill-opacity="0.65"/>
<circle cx="195.38" cy="659.08" r="0.8" fill="#0072B5" fill-opacity="0.65"/>
<circle cx="198.58" cy="642.51" r="0.8" fill="#0072B5" fill-opacity="0.65"/>
<circle cx="192.4" cy="666.16" r="0.8" fill="#0072B5" fill-opacity="0.65"/>
<circle cx="195.74" cy="679.89" r="0.8" fill="#0072B5" fill-opacity="0.65"/>
<circle cx="193.21" cy="644.68" r="0.8" fill="#0072B5" fill-opacity="0.65"/>
<circle cx="197.31" cy="691.24" r="0.8" fill="#0072B5" fill-opacity="0.65"/>
<circle cx="198.36" cy="686.22" r="0.8" fill="#0072B5" fill-opacity="0.65"/>
<circle cx="195.58" cy="676.02" r="0.8" fill="#0072B5" fill-opacity="0.65"/>
<circle cx="192.82" cy="659.02" r="0.8" fill="#0072B5" fill-opacity="0.65"/>
<circle cx="195.94" cy="666.98" r="0.8" fill="#0072B5" fill-opacity="0.65"/>
<circle cx="195.72" cy="680.19" r="0.8" fill="#0072B5" fill-opacity="0.65"/>
<circle cx="196.88" cy="667.82" r="0.8" fill="#0072B5" fill-opacity="0.65"/>
<circle cx="195.53" cy="691.41" r="0.8" fill="#0072B5" fill-opacity="0.65"/>
<circle cx="196.37" cy="666.78" r="0.8" fill="#0072B5" fill-opacity="0.65"/>
<circle cx="197.62" cy="674.13" r="0.8" fill="#0072B5" fill-opacity="0.65"/>
<circle cx="195.59" cy="664.76" r="0.8" fill="#0072B5" fill-opacity="0.65"/>
<circle cx="194.86" cy="672.75" r="0.8" fill="#0072B5" fill-opacity="0.65"/>
<circle cx="198.41" cy="664.32" r="0.8" fill="#0072B5" fill-opacity="0.65"/>
<circle cx="193.54" cy="659.33" r="0.8" fill="#0072B5" fill-opacity="0.65"/>
<circle cx="196.67" cy="651.5" r="0.8" fill="#0072B5" fill-opacity="0.65"/>
<circle cx="194.74" cy="672.31" r="0.8" fill="#0072B5" fill-opacity="0.65"/>
<circle cx="197.18" cy="673.44" r="0.8" fill="#0072B5" fill-opacity="0.65"/>
<circle cx="192.96" cy="662.61" r="0.8" fill="#0072B5" fill-opacity="0.65"/>
<circle cx="198.65" cy="655.08" r="0.8" fill="#0072B5" fill-opacity="0.65"/>
<circle cx="194.5" cy="673.66" r="0.8" fill="#0072B5" fill-opacity="0.65"/>
<circle cx="192.52" cy="657.86" r="0.8" fill="#0072B5" fill-opacity="0.65"/>
<circle cx="193.96" cy="667.48" r="0.8" fill="#0072B5" fill-opacity="0.65"/>
<circle cx="194.79" cy="664.98" r="0.8" fill="#0072B5" fill-opacity="0.65"/>
<circle cx="192.24" cy="667.61" r="0.8" fill="#0072B5" fill-opacity="0.65"/>
<circle cx="194.91" cy="682.67" r="0.8" fill="#0072B5" fill-opacity="0.65"/>
<circle cx="194.93" cy="670.62" r="0.8" fill="#0072B5" fill-opacity="0.65"/>
<circle cx="196.76" cy="659.12" r="0.8" fill="#0072B5" fill-opacity="0.65"/>
<circle cx="194.47" cy="673.55" r="0.8" fill="#0072B5" fill-opacity="0.65"/>
<circle cx="193.9" cy="674.05" r="0.8" fill="#0072B5" fill-opacity="0.65"/>
<circle cx="193.63" cy="668.92" r="0.8" fill="#0072B5" fill-opacity="0.65"/>
<circle cx="197.04" cy="664.39" r="0.8" fill="#0072B5" fill-opacity="0.65"/>
<circle cx="198.35" cy="679.55" r="0.8" fill="#0072B5" fill-opacity="0.65"/>
<circle cx="195.63" cy="675.58" r="0.8" fill="#0072B5" fill-opacity="0.65"/>
<circle cx="193.59" cy="683.2" r="0.8" fill="#0072B5" fill-opacity="0.65"/>
<circle cx="197.44" cy="648.06" r="0.8" fill="#0072B5" fill-opacity="0.65"/>
<circle cx="194.74" cy="669.16" r="0.8" fill="#0072B5" fill-opacity="0.65"/>
<circle cx="193.55" cy="681.42" r="0.8" fill="#0072B5" fill-opacity="0.65"/>
<circle cx="193" cy="671.41" r="0.8" fill="#0072B5" fill-opacity="0.65"/>
<circle cx="197.28" cy="673.13" r="0.8" fill="#0072B5" fill-opacity="0.65"/>
<circle cx="197.49" cy="661.74" r="0.8" fill="#0072B5" fill-opacity="0.65"/>
<circle cx="196.34" cy="659.68" r="0.8" fill="#0072B5" fill-opacity="0.65"/>
<circle cx="195.25" cy="662.97" r="0.8" fill="#0072B5" fill-opacity="0.65"/>
<circle cx="195.86" cy="686.84" r="0.8" fill="#0072B5" fill-opacity="0.65"/>
<circle cx="193.64" cy="691.55" r="0.8" fill="#0072B5" fill-opacity="0.65"/>
<circle cx="198.51" cy="682.48" r="0.8" fill="#0072B5" fill-opacity="0.65"/>
<circle cx="194.48" cy="664.8" r="0.8" fill="#0072B5" fill-opacity="0.65"/>
<circle cx="196.37" cy="658.73" r="0.8" fill="#0072B5" fill-opacity="0.65"/>
<circle cx="197.55" cy="669.37" r="0.8" fill="#0072B5" fill-opacity="0.65"/>
<circle cx="197.54" cy="686.95" r="0.8" fill="#0072B5" fill-opacity="0.65"/>
<circle cx="195.24" cy="659.85" r="0.8" fill="#0072B5" fill-opacity="0.65"/>
<circle cx="194.09" cy="648.93" r="0.8" fill="#0072B5" fill-opacity="0.65"/>
<circle cx="195.77" cy="671.98" r="0.8" fill="#0072B5" fill-opacity="0.65"/>
<circle cx="192.98" cy="668.93" r="0.8" fill="#0072B5" fill-opacity="0.65"/>
<circle cx="197.65" cy="673.61" r="0.8" fill="#0072B5" fill-opacity="0.65"/>
<circle cx="194.49" cy="672.02" r="0.8" fill="#0072B5" fill-opacity="0.65"/>
<circle cx="197.76" cy="666.39" r="0.8" fill="#0072B5" fill-opacity="0.65"/>
<circle cx="193.92" cy="661.87" r="0.8" fill="#0072B5" fill-opacity="0.65"/>
<circle cx="194.63" cy="663.2" r="0.8" fill="#0072B5" fill-opacity="0.65"/>
<circle cx="193.82" cy="653.63" r="0.8" fill="#0072B5" fill-opacity="0.65"/>
<circle cx="194.96" cy="671.39" r="0.8" fill="#0072B5" fill-opacity="0.65"/>
<circle cx="193.38" cy="658.29" r="0.8" fill="#0072B5" fill-opacity="0.65"/>
<circle cx="192.17" cy="659.78" r="0.8" fill="#0072B5" fill-opacity="0.65"/>
<circle cx="196.91" cy="668.99" r="0.8" fill="#0072B5" fill-opacity="0.65"/>
<circle cx="194.01" cy="667.17" r="0.8" fill="#0072B5" fill-opacity="0.65"/>
<circle cx="193.77" cy="662.35" r="0.8" fill="#0072B5" fill-opacity="0.65"/>
<circle cx="194.14" cy="656.87" r="0.8" fill="#0072B5" fill-opacity="0.65"/>
<circle cx="195.32" cy="683.02" r="0.8" fill="#0072B5" fill-opacity="0.65"/>
<circle cx="194.98" cy="664.99" r="0.8" fill="#0072B5" fill-opacity="0.65"/>
<circle cx="196.36" cy="654.61" r="0.8" fill="#0072B5" fill-opacity="0.65"/>
<circle cx="196.5" cy="650.02" r="0.8" fill="#0072B5" fill-opacity="0.65"/>
<circle cx="194.54" cy="655.17" r="0.8" fill="#0072B5" fill-opacity="0.65"/>
<circle cx="198.28" cy="664.25" r="0.8" fill="#0072B5" fill-opacity="0.65"/>
<circle cx="197.79" cy="668.85" r="0.8" fill="#0072B5" fill-opacity="0.65"/>
<circle cx="192.53" cy="660.41" r="0.8" fill="#0072B5" fill-opacity="0.65"/>
<circle cx="197.61" cy="659.01" r="0.8" fill="#0072B5" fill-opacity="0.65"/>
<circle cx="198.13" cy="691.19" r="0.8" fill="#0072B5" fill-opacity="0.65"/>
<circle cx="197.32" cy="668.44" r="0.8" fill="#0072B5" fill-opacity="0.65"/>
<circle cx="193.08" cy="684.56" r="0.8" fill="#0072B5" fill-opacity="0.65"/>
<circle cx="197.64" cy="665.24" r="0.8" fill="#0072B5" fill-opacity="0.65"/>
<circle cx="196.33" cy="660.31" r="0.8" fill="#0072B5" fill-opacity="0.65"/>
<circle cx="192.25" cy="662.63" r="0.8" fill="#0072B5" fill-opacity="0.65"/>
<circle cx="192.23" cy="647.14" r="0.8" fill="#0072B5" fill-opacity="0.65"/>
<circle cx="198.43" cy="659.58" r="0.8" fill="#0072B5" fill-opacity="0.65"/>
<circle cx="196.48" cy="644.72" r="0.8" fill="#0072B5" fill-opacity="0.65"/>
<circle cx="193.8" cy="659.31" r="0.8" fill="#0072B5" fill-opacity="0.65"/>
<circle cx="192.82" cy="673.59" r="0.8" fill="#0072B5" fill-opacity="0.65"/>
<circle cx="193.09" cy="647.33" r="0.8" fill="#0072B5" fill-opacity="0.65"/>
<circle cx="193.69" cy="666.24" r="0.8" fill="#0072B5" fill-opacity="0.65"/>
<circle cx="197.27" cy="662.04" r="0.8" fill="#0072B5" fill-opacity="0.65"/>
<circle cx="194.44" cy="686.26" r="0.8" fill="#0072B5" fill-opacity="0.65"/>
<circle cx="193.16" cy="678.54" r="0.8" fill="#0072B5" fill-opacity="0.65"/>
<circle cx="198.12" cy="676.13" r="0.8" fill="#0072B5" fill-opacity="0.65"/>
<circle cx="197.38" cy="662.67" r="0.8" fill="#0072B5" fill-opacity="0.65"/>
<circle cx="193.26" cy="673.29" r="0.8" fill="#0072B5" fill-opacity="0.65"/>
<circle cx="198.03" cy="666.44" r="0.8" fill="#0072B5" fill-opacity="0.65"/>
<circle cx="196.17" cy="660.04" r="0.8" fill="#0072B5" fill-opacity="0.65"/>
<circle cx="197.31" cy="670.18" r="0.8" fill="#0072B5" fill-opacity="0.65"/>
<circle cx="196.56" cy="656.6" r="0.8" fill="#0072B5" fill-opacity="0.65"/>
<circle cx="198.05" cy="664" r="0.8" fill="#0072B5" fill-opacity="0.65"/>
<circle cx="197.35" cy="673.93" r="0.8" fill="#0072B5" fill-opacity="0.65"/>
<circle cx="197.69" cy="658.77" r="0.8" fill="#0072B5" fill-opacity="0.65"/>
<circle cx="193.45" cy="686.39" r="0.8" fill="#0072B5" fill-opacity="0.65"/>
<circle cx="196.72" cy="659.8" r="0.8" fill="#0072B5" fill-opacity="0.65"/>
<circle cx="195.65" cy="670.5" r="0.8" fill="#0072B5" fill-opacity="0.65"/>
<circle cx="197.05" cy="658.64" r="0.8" fill="#0072B5" fill-opacity="0.65"/>
<circle cx="195.04" cy="669.65" r="0.8" fill="#0072B5" fill-opacity="0.65"/>
<circle cx="197.98" cy="657.78" r="0.8" fill="#0072B5" fill-opacity="0.65"/>
<circle cx="195.81" cy="657.48" r="0.8" fill="#0072B5" fill-opacity="0.65"/>
<circle cx="193.9" cy="680.03" r="0.8" fill="#0072B5" fill-opacity="0.65"/>
<circle cx="193.7" cy="673.86" r="0.8" fill="#0072B5" fill-opacity="0.65"/>
<circle cx="193.07" cy="650.03" r="0.8" fill="#0072B5" fill-opacity="0.65"/>
<circle cx="195.4" cy="651.54" r="0.8" fill="#0072B5" fill-opacity="0.65"/>
<circle cx="192.54" cy="669.97" r="0.8" fill="#0072B5" fill-opacity="0.65"/>
<circle cx="195.23" cy="672.85" r="0.8" fill="#0072B5" fill-opacity="0.65"/>
<circle cx="193.1" cy="673.56" r="0.8" fill="#0072B5" fill-opacity="0.65"/>
<circle cx="195.39" cy="690.35" r="0.8" fill="#0072B5" fill-opacity="0.65"/>
<circle cx="195.44" cy="662.76" r="0.8" fill="#0072B5" fill-opacity="0.65"/>
<circle cx="195.71" cy="658.1" r="0.8" fill="#0072B5" fill-opacity="0.65"/>
<circle cx="197.84" cy="670.74" r="0.8" fill="#0072B5" fill-opacity="0.65"/>
<circle cx="192.19" cy="648.75" r="0.8" fill="#0072B5" fill-opacity="0.65"/>
<circle cx="197.7" cy="662.52" r="0.8" fill="#0072B5" fill-opacity="0.65"/>
<circle cx="195.24" cy="668.52" r="0.8" fill="#0072B5" fill-opacity="0.65"/>
<circle cx="195.86" cy="650.8" r="0.8" fill="#0072B5" fill-opacity="0.65"/>
<circle cx="196.54" cy="661.12" r="0.8" fill="#0072B5" fill-opacity="0.65"/>
<circle cx="197.7" cy="672.16" r="0.8" fill="#0072B5" fill-opacity="0.65"/>
<circle cx="194.62" cy="660.78" r="0.8" fill="#0072B5" fill-opacity="0.65"/>
<circle cx="194.91" cy="672.82" r="0.8" fill="#0072B5" fill-opacity="0.65"/>
<circle cx="198.49" cy="676.42" r="0.8" fill="#0072B5" fill-opacity="0.65"/>
<circle cx="192.65" cy="666.38" r="0.8" fill="#0072B5" fill-opacity="0.65"/>
<circle cx="196.35" cy="675.63" r="0.8" fill="#0072B5" fill-opacity="0.65"/>
<circle cx="196.35" cy="670.68" r="0.8" fill="#0072B5" fill-opacity="0.65"/>
<circle cx="192.34" cy="674.89" r="0.8" fill="#0072B5" fill-opacity="0.65"/>
<circle cx="196.17" cy="649.31" r="0.8" fill="#0072B5" fill-opacity="0.65"/>
<circle cx="196.66" cy="674.01" r="0.8" fill="#0072B5" fill-opacity="0.65"/>
<circle cx="198.3" cy="673.4" r="0.8" fill="#0072B5" fill-opacity="0.65"/>
<circle cx="194.33" cy="649.21" r="0.8" fill="#0072B5" fill-opacity="0.65"/>
<circle cx="198.63" cy="668.76" r="0.8" fill="#0072B5" fill-opacity="0.65"/>
<circle cx="195.52" cy="660.63" r="0.8" fill="#0072B5" fill-opacity="0.65"/>
<circle cx="195.35" cy="673.59" r="0.8" fill="#0072B5" fill-opacity="0.65"/>
<circle cx="198.07" cy="672.27" r="0.8" fill="#0072B5" fill-opacity="0.65"/>
<circle cx="192.37" cy="663.7" r="0.8" fill="#0072B5" fill-opacity="0.65"/>
<circle cx="196.89" cy="663.41" r="0.8" fill="#0072B5" fill-opacity="0.65"/>
<circle cx="196.28" cy="678.18" r="0.8" fill="#0072B5" fill-opacity="0.65"/>
<circle cx="194.38" cy="666.88" r="0.8" fill="#0072B5" fill-opacity="0.65"/>
<circle cx="197.84" cy="695.4" r="0.8" fill="#0072B5" fill-opacity="0.65"/>
<circle cx="212.4" cy="666.23" r="0.8" fill="#BC3C29" fill-opacity="0.65"/>
<circle cx="213.48" cy="661.97" r="0.8" fill="#BC3C29" fill-opacity="0.65"/>
<circle cx="213.34" cy="673.48" r="0.8" fill="#BC3C29" fill-opacity="0.65"/>
<circle cx="212.7" cy="662.22" r="0.8" fill="#BC3C29" fill-opacity="0.65"/>
<circle cx="212.49" cy="668.63" r="0.8" fill="#BC3C29" fill-opacity="0.65"/>
<circle cx="215.83" cy="666.43" r="0.8" fill="#BC3C29" fill-opacity="0.65"/>
<circle cx="217.9" cy="666.44" r="0.8" fill="#BC3C29" fill-opacity="0.65"/>
<circle cx="215.17" cy="651.34" r="0.8" fill="#BC3C29" fill-opacity="0.65"/>
<circle cx="218.4" cy="656.1" r="0.8" fill="#BC3C29" fill-opacity="0.65"/>
<circle cx="218.16" cy="665.03" r="0.8" fill="#BC3C29" fill-opacity="0.65"/>
<circle cx="212.57" cy="661.36" r="0.8" fill="#BC3C29" fill-opacity="0.65"/>
<circle cx="216.1" cy="658.42" r="0.8" fill="#BC3C29" fill-opacity="0.65"/>
<circle cx="214.77" cy="662.49" r="0.8" fill="#BC3C29" fill-opacity="0.65"/>
<circle cx="212.94" cy="658.72" r="0.8" fill="#BC3C29" fill-opacity="0.65"/>
<circle cx="218.48" cy="663.04" r="0.8" fill="#BC3C29" fill-opacity="0.65"/>
<circle cx="213.85" cy="676.4" r="0.8" fill="#BC3C29" fill-opacity="0.65"/>
<circle cx="215.88" cy="662.05" r="0.8" fill="#BC3C29" fill-opacity="0.65"/>
<circle cx="216.38" cy="652.08" r="0.8" fill="#BC3C29" fill-opacity="0.65"/>
<circle cx="218.46" cy="661.32" r="0.8" fill="#BC3C29" fill-opacity="0.65"/>
<circle cx="216.57" cy="661.18" r="0.8" fill="#BC3C29" fill-opacity="0.65"/>
<circle cx="214.74" cy="659.46" r="0.8" fill="#BC3C29" fill-opacity="0.65"/>
<circle cx="215.11" cy="660.56" r="0.8" fill="#BC3C29" fill-opacity="0.65"/>
<circle cx="213.2" cy="658.14" r="0.8" fill="#BC3C29" fill-opacity="0.65"/>
<circle cx="218.52" cy="679.5" r="0.8" fill="#BC3C29" fill-opacity="0.65"/>
<circle cx="218.7" cy="651.32" r="0.8" fill="#BC3C29" fill-opacity="0.65"/>
<circle cx="213.61" cy="668.59" r="0.8" fill="#BC3C29" fill-opacity="0.65"/>
<circle cx="212.4" cy="652.89" r="0.8" fill="#BC3C29" fill-opacity="0.65"/>
<circle cx="213.84" cy="665.05" r="0.8" fill="#BC3C29" fill-opacity="0.65"/>
<circle cx="214.47" cy="665.17" r="0.8" fill="#BC3C29" fill-opacity="0.65"/>
<circle cx="218.11" cy="667.36" r="0.8" fill="#BC3C29" fill-opacity="0.65"/>
<circle cx="218.12" cy="658.37" r="0.8" fill="#BC3C29" fill-opacity="0.65"/>
<circle cx="217.68" cy="658.68" r="0.8" fill="#BC3C29" fill-opacity="0.65"/>
<circle cx="212.46" cy="675.83" r="0.8" fill="#BC3C29" fill-opacity="0.65"/>
<circle cx="217.34" cy="654.62" r="0.8" fill="#BC3C29" fill-opacity="0.65"/>
<circle cx="216.83" cy="676.11" r="0.8" fill="#BC3C29" fill-opacity="0.65"/>
<circle cx="216.42" cy="644.83" r="0.8" fill="#BC3C29" fill-opacity="0.65"/>
<circle cx="218.65" cy="665.8" r="0.8" fill="#BC3C29" fill-opacity="0.65"/>
<circle cx="212.52" cy="671.02" r="0.8" fill="#BC3C29" fill-opacity="0.65"/>
<circle cx="213.11" cy="669.8" r="0.8" fill="#BC3C29" fill-opacity="0.65"/>
<circle cx="217.13" cy="659.05" r="0.8" fill="#BC3C29" fill-opacity="0.65"/>
<circle cx="218.35" cy="658.21" r="0.8" fill="#BC3C29" fill-opacity="0.65"/>
<circle cx="216.62" cy="657.97" r="0.8" fill="#BC3C29" fill-opacity="0.65"/>
<circle cx="214.12" cy="671.31" r="0.8" fill="#BC3C29" fill-opacity="0.65"/>
<circle cx="216.05" cy="659.34" r="0.8" fill="#BC3C29" fill-opacity="0.65"/>
<circle cx="217.15" cy="678.31" r="0.8" fill="#BC3C29" fill-opacity="0.65"/>
<circle cx="212.85" cy="649.98" r="0.8" fill="#BC3C29" fill-opacity="0.65"/>
<circle cx="214.29" cy="678.23" r="0.8" fill="#BC3C29" fill-opacity="0.65"/>
<circle cx="213.85" cy="669.34" r="0.8" fill="#BC3C29" fill-opacity="0.65"/>
<circle cx="212.97" cy="669.56" r="0.8" fill="#BC3C29" fill-opacity="0.65"/>
<circle cx="215.33" cy="658.55" r="0.8" fill="#BC3C29" fill-opacity="0.65"/>
<circle cx="213.26" cy="680.37" r="0.8" fill="#BC3C29" fill-opacity="0.65"/>
<circle cx="213.72" cy="678.61" r="0.8" fill="#BC3C29" fill-opacity="0.65"/>
<circle cx="213.09" cy="674.41" r="0.8" fill="#BC3C29" fill-opacity="0.65"/>
<circle cx="216.62" cy="675.82" r="0.8" fill="#BC3C29" fill-opacity="0.65"/>
<circle cx="212.23" cy="667.6" r="0.8" fill="#BC3C29" fill-opacity="0.65"/>
<circle cx="216.88" cy="672.69" r="0.8" fill="#BC3C29" fill-opacity="0.65"/>
<circle cx="213.44" cy="661.33" r="0.8" fill="#BC3C29" fill-opacity="0.65"/>
<circle cx="212.39" cy="665.62" r="0.8" fill="#BC3C29" fill-opacity="0.65"/>
<circle cx="218.27" cy="645.62" r="0.8" fill="#BC3C29" fill-opacity="0.65"/>
<circle cx="213.61" cy="652.82" r="0.8" fill="#BC3C29" fill-opacity="0.65"/>
<circle cx="218.31" cy="663.41" r="0.8" fill="#BC3C29" fill-opacity="0.65"/>
<circle cx="217.87" cy="650.47" r="0.8" fill="#BC3C29" fill-opacity="0.65"/>
<circle cx="218.02" cy="656.08" r="0.8" fill="#BC3C29" fill-opacity="0.65"/>
<circle cx="213.07" cy="662.9" r="0.8" fill="#BC3C29" fill-opacity="0.65"/>
<circle cx="215.1" cy="652.25" r="0.8" fill="#BC3C29" fill-opacity="0.65"/>
<circle cx="212.79" cy="665.91" r="0.8" fill="#BC3C29" fill-opacity="0.65"/>
<circle cx="218.28" cy="655.54" r="0.8" fill="#BC3C29" fill-opacity="0.65"/>
<circle cx="217.71" cy="661.21" r="0.8" fill="#BC3C29" fill-opacity="0.65"/>
<circle cx="216.3" cy="648.49" r="0.8" fill="#BC3C29" fill-opacity="0.65"/>
<circle cx="215.14" cy="663.01" r="0.8" fill="#BC3C29" fill-opacity="0.65"/>
<circle cx="214.39" cy="665.87" r="0.8" fill="#BC3C29" fill-opacity="0.65"/>
<circle cx="217.58" cy="662.17" r="0.8" fill="#BC3C29" fill-opacity="0.65"/>
<circle cx="215.3" cy="658.41" r="0.8" fill="#BC3C29" fill-opacity="0.65"/>
<circle cx="216.3" cy="648.4" r="0.8" fill="#BC3C29" fill-opacity="0.65"/>
<circle cx="213.09" cy="652.73" r="0.8" fill="#BC3C29" fill-opacity="0.65"/>
<circle cx="213.61" cy="668.79" r="0.8" fill="#BC3C29" fill-opacity="0.65"/>
<circle cx="212.52" cy="650.81" r="0.8" fill="#BC3C29" fill-opacity="0.65"/>
<circle cx="216.86" cy="655.91" r="0.8" fill="#BC3C29" fill-opacity="0.65"/>
<circle cx="215.8" cy="679.96" r="0.8" fill="#BC3C29" fill-opacity="0.65"/>
<circle cx="213.11" cy="682.84" r="0.8" fill="#BC3C29" fill-opacity="0.65"/>
<circle cx="217.9" cy="677.63" r="0.8" fill="#BC3C29" fill-opacity="0.65"/>
<circle cx="213.91" cy="664.4" r="0.8" fill="#BC3C29" fill-opacity="0.65"/>
<circle cx="214.87" cy="668.11" r="0.8" fill="#BC3C29" fill-opacity="0.65"/>
<circle cx="213.18" cy="654.43" r="0.8" fill="#BC3C29" fill-opacity="0.65"/>
<circle cx="213.94" cy="679.45" r="0.8" fill="#BC3C29" fill-opacity="0.65"/>
<circle cx="217.69" cy="682.07" r="0.8" fill="#BC3C29" fill-opacity="0.65"/>
<circle cx="214.36" cy="653.52" r="0.8" fill="#BC3C29" fill-opacity="0.65"/>
<circle cx="213.26" cy="667.01" r="0.8" fill="#BC3C29" fill-opacity="0.65"/>
<circle cx="215.39" cy="670.75" r="0.8" fill="#BC3C29" fill-opacity="0.65"/>
<circle cx="214.25" cy="660.13" r="0.8" fill="#BC3C29" fill-opacity="0.65"/>
<circle cx="218.11" cy="660.31" r="0.8" fill="#BC3C29" fill-opacity="0.65"/>
<circle cx="212.9" cy="659.17" r="0.8" fill="#BC3C29" fill-opacity="0.65"/>
<circle cx="218.61" cy="672.83" r="0.8" fill="#BC3C29" fill-opacity="0.65"/>
<circle cx="212.53" cy="679.76" r="0.8" fill="#BC3C29" fill-opacity="0.65"/>
<circle cx="218.06" cy="672.46" r="0.8" fill="#BC3C29" fill-opacity="0.65"/>
<circle cx="216.56" cy="658.59" r="0.8" fill="#BC3C29" fill-opacity="0.65"/>
<circle cx="213.54" cy="681.4" r="0.8" fill="#BC3C29" fill-opacity="0.65"/>
<circle cx="215.3" cy="666.86" r="0.8" fill="#BC3C29" fill-opacity="0.65"/>
<circle cx="214.04" cy="668.3" r="0.8" fill="#BC3C29" fill-opacity="0.65"/>
<circle cx="213.85" cy="669.44" r="0.8" fill="#BC3C29" fill-opacity="0.65"/>
<circle cx="213.48" cy="648.26" r="0.8" fill="#BC3C29" fill-opacity="0.65"/>
<circle cx="214.55" cy="656.93" r="0.8" fill="#BC3C29" fill-opacity="0.65"/>
<circle cx="218.69" cy="695.4" r="0.8" fill="#BC3C29" fill-opacity="0.65"/>
<circle cx="247.97" cy="638.87" r="0.8" fill="#0072B5" fill-opacity="0.65"/>
<circle cx="247.61" cy="733.84" r="0.8" fill="#0072B5" fill-opacity="0.65"/>
<circle cx="248.22" cy="722.74" r="0.8" fill="#0072B5" fill-opacity="0.65"/>
<circle cx="247.92" cy="683.83" r="0.8" fill="#0072B5" fill-opacity="0.65"/>
<circle cx="246.58" cy="674.78" r="0.8" fill="#0072B5" fill-opacity="0.65"/>
<circle cx="250.73" cy="732.35" r="0.8" fill="#0072B5" fill-opacity="0.65"/>
<circle cx="248.6" cy="688.62" r="0.8" fill="#0072B5" fill-opacity="0.65"/>
<circle cx="247.38" cy="719.51" r="0.8" fill="#0072B5" fill-opacity="0.65"/>
<circle cx="251.01" cy="721.17" r="0.8" fill="#0072B5" fill-opacity="0.65"/>
<circle cx="246.96" cy="729.73" r="0.8" fill="#0072B5" fill-opacity="0.65"/>
<circle cx="248.13" cy="720.82" r="0.8" fill="#0072B5" fill-opacity="0.65"/>
<circle cx="251.86" cy="696.49" r="0.8" fill="#0072B5" fill-opacity="0.65"/>
<circle cx="247.19" cy="711.61" r="0.8" fill="#0072B5" fill-opacity="0.65"/>
<circle cx="249.28" cy="701.88" r="0.8" fill="#0072B5" fill-opacity="0.65"/>
<circle cx="251.87" cy="662.39" r="0.8" fill="#0072B5" fill-opacity="0.65"/>
<circle cx="251.66" cy="730.17" r="0.8" fill="#0072B5" fill-opacity="0.65"/>
<circle cx="247.4" cy="717.38" r="0.8" fill="#0072B5" fill-opacity="0.65"/>
<circle cx="248.68" cy="723.27" r="0.8" fill="#0072B5" fill-opacity="0.65"/>
<circle cx="251.12" cy="643.5" r="0.8" fill="#0072B5" fill-opacity="0.65"/>
<circle cx="248.84" cy="709.47" r="0.8" fill="#0072B5" fill-opacity="0.65"/>
<circle cx="252.68" cy="668.32" r="0.8" fill="#0072B5" fill-opacity="0.65"/>
<circle cx="247.72" cy="677.76" r="0.8" fill="#0072B5" fill-opacity="0.65"/>
<circle cx="252.63" cy="723.7" r="0.8" fill="#0072B5" fill-opacity="0.65"/>
<circle cx="249.68" cy="727.43" r="0.8" fill="#0072B5" fill-opacity="0.65"/>
<circle cx="247.85" cy="724.86" r="0.8" fill="#0072B5" fill-opacity="0.65"/>
<circle cx="249.34" cy="686.97" r="0.8" fill="#0072B5" fill-opacity="0.65"/>
<circle cx="247.21" cy="704.64" r="0.8" fill="#0072B5" fill-opacity="0.65"/>
<circle cx="251.01" cy="675.62" r="0.8" fill="#0072B5" fill-opacity="0.65"/>
<circle cx="248.07" cy="693.59" r="0.8" fill="#0072B5" fill-opacity="0.65"/>
<circle cx="252.29" cy="683.32" r="0.8" fill="#0072B5" fill-opacity="0.65"/>
<circle cx="250.23" cy="636.6" r="0.8" fill="#0072B5" fill-opacity="0.65"/>
<circle cx="248.78" cy="715.05" r="0.8" fill="#0072B5" fill-opacity="0.65"/>
<circle cx="247.98" cy="697.55" r="0.8" fill="#0072B5" fill-opacity="0.65"/>
<circle cx="250.36" cy="721.95" r="0.8" fill="#0072B5" fill-opacity="0.65"/>
<circle cx="247.75" cy="722.24" r="0.8" fill="#0072B5" fill-opacity="0.65"/>
<circle cx="252.11" cy="683.71" r="0.8" fill="#0072B5" fill-opacity="0.65"/>
<circle cx="247.16" cy="721.66" r="0.8" fill="#0072B5" fill-opacity="0.65"/>
<circle cx="249.74" cy="727.09" r="0.8" fill="#0072B5" fill-opacity="0.65"/>
<circle cx="249.93" cy="701.75" r="0.8" fill="#0072B5" fill-opacity="0.65"/>
<circle cx="248.13" cy="729.84" r="0.8" fill="#0072B5" fill-opacity="0.65"/>
<circle cx="251.44" cy="725.64" r="0.8" fill="#0072B5" fill-opacity="0.65"/>
<circle cx="248.89" cy="691" r="0.8" fill="#0072B5" fill-opacity="0.65"/>
<circle cx="250.69" cy="721.16" r="0.8" fill="#0072B5" fill-opacity="0.65"/>
<circle cx="250.1" cy="705.77" r="0.8" fill="#0072B5" fill-opacity="0.65"/>
<circle cx="248.4" cy="730.46" r="0.8" fill="#0072B5" fill-opacity="0.65"/>
<circle cx="248.92" cy="734.84" r="0.8" fill="#0072B5" fill-opacity="0.65"/>
<circle cx="246.92" cy="714.01" r="0.8" fill="#0072B5" fill-opacity="0.65"/>
<circle cx="247.52" cy="665.68" r="0.8" fill="#0072B5" fill-opacity="0.65"/>
<circle cx="251.97" cy="719.84" r="0.8" fill="#0072B5" fill-opacity="0.65"/>
<circle cx="248.47" cy="674.89" r="0.8" fill="#0072B5" fill-opacity="0.65"/>
<circle cx="250.72" cy="724.71" r="0.8" fill="#0072B5" fill-opacity="0.65"/>
<circle cx="247.07" cy="647.9" r="0.8" fill="#0072B5" fill-opacity="0.65"/>
<circle cx="250.06" cy="647.13" r="0.8" fill="#0072B5" fill-opacity="0.65"/>
<circle cx="248.74" cy="683.43" r="0.8" fill="#0072B5" fill-opacity="0.65"/>
<circle cx="249.65" cy="708.23" r="0.8" fill="#0072B5" fill-opacity="0.65"/>
<circle cx="248.31" cy="678.38" r="0.8" fill="#0072B5" fill-opacity="0.65"/>
<circle cx="246.79" cy="716.39" r="0.8" fill="#0072B5" fill-opacity="0.65"/>
<circle cx="248.4" cy="715.24" r="0.8" fill="#0072B5" fill-opacity="0.65"/>
<circle cx="247.84" cy="725.83" r="0.8" fill="#0072B5" fill-opacity="0.65"/>
<circle cx="247.18" cy="735.64" r="0.8" fill="#0072B5" fill-opacity="0.65"/>
<circle cx="251.08" cy="637.95" r="0.8" fill="#0072B5" fill-opacity="0.65"/>
<circle cx="248.21" cy="704.46" r="0.8" fill="#0072B5" fill-opacity="0.65"/>
<circle cx="249.01" cy="641.98" r="0.8" fill="#0072B5" fill-opacity="0.65"/>
<circle cx="252.35" cy="722.41" r="0.8" fill="#0072B5" fill-opacity="0.65"/>
<circle cx="251.46" cy="690.85" r="0.8" fill="#0072B5" fill-opacity="0.65"/>
<circle cx="252.18" cy="707.38" r="0.8" fill="#0072B5" fill-opacity="0.65"/>
<circle cx="252.03" cy="690.26" r="0.8" fill="#0072B5" fill-opacity="0.65"/>
<circle cx="247.22" cy="694.92" r="0.8" fill="#0072B5" fill-opacity="0.65"/>
<circle cx="248.18" cy="676.96" r="0.8" fill="#0072B5" fill-opacity="0.65"/>
<circle cx="246.55" cy="716.55" r="0.8" fill="#0072B5" fill-opacity="0.65"/>
<circle cx="250.84" cy="735.3" r="0.8" fill="#0072B5" fill-opacity="0.65"/>
<circle cx="250.73" cy="690.72" r="0.8" fill="#0072B5" fill-opacity="0.65"/>
<circle cx="248.67" cy="715.28" r="0.8" fill="#0072B5" fill-opacity="0.65"/>
<circle cx="249.07" cy="721.12" r="0.8" fill="#0072B5" fill-opacity="0.65"/>
<circle cx="250.7" cy="713.85" r="0.8" fill="#0072B5" fill-opacity="0.65"/>
<circle cx="250.97" cy="712.03" r="0.8" fill="#0072B5" fill-opacity="0.65"/>
<circle cx="247.99" cy="732.52" r="0.8" fill="#0072B5" fill-opacity="0.65"/>
<circle cx="251.94" cy="698.38" r="0.8" fill="#0072B5" fill-opacity="0.65"/>
<circle cx="248.67" cy="689.01" r="0.8" fill="#0072B5" fill-opacity="0.65"/>
<circle cx="250.5" cy="695.61" r="0.8" fill="#0072B5" fill-opacity="0.65"/>
<circle cx="247.55" cy="699.47" r="0.8" fill="#0072B5" fill-opacity="0.65"/>
<circle cx="247.11" cy="712.78" r="0.8" fill="#0072B5" fill-opacity="0.65"/>
<circle cx="252.37" cy="725.96" r="0.8" fill="#0072B5" fill-opacity="0.65"/>
<circle cx="251.19" cy="715.86" r="0.8" fill="#0072B5" fill-opacity="0.65"/>
<circle cx="251.05" cy="733.03" r="0.8" fill="#0072B5" fill-opacity="0.65"/>
<circle cx="246.62" cy="725.6" r="0.8" fill="#0072B5" fill-opacity="0.65"/>
<circle cx="246.61" cy="720.36" r="0.8" fill="#0072B5" fill-opacity="0.65"/>
<circle cx="247.42" cy="717.95" r="0.8" fill="#0072B5" fill-opacity="0.65"/>
<circle cx="247.66" cy="733.25" r="0.8" fill="#0072B5" fill-opacity="0.65"/>
<circle cx="248.35" cy="709.99" r="0.8" fill="#0072B5" fill-opacity="0.65"/>
<circle cx="248.86" cy="714.23" r="0.8" fill="#0072B5" fill-opacity="0.65"/>
<circle cx="246.61" cy="686.67" r="0.8" fill="#0072B5" fill-opacity="0.65"/>
<circle cx="248.4" cy="730.29" r="0.8" fill="#0072B5" fill-opacity="0.65"/>
<circle cx="250.56" cy="723.5" r="0.8" fill="#0072B5" fill-opacity="0.65"/>
<circle cx="247.54" cy="699.55" r="0.8" fill="#0072B5" fill-opacity="0.65"/>
<circle cx="251.89" cy="646.69" r="0.8" fill="#0072B5" fill-opacity="0.65"/>
<circle cx="250.11" cy="702.66" r="0.8" fill="#0072B5" fill-opacity="0.65"/>
<circle cx="251.08" cy="703.2" r="0.8" fill="#0072B5" fill-opacity="0.65"/>
<circle cx="248.03" cy="718.09" r="0.8" fill="#0072B5" fill-opacity="0.65"/>
<circle cx="249.22" cy="707.13" r="0.8" fill="#0072B5" fill-opacity="0.65"/>
<circle cx="250.87" cy="720.5" r="0.8" fill="#0072B5" fill-opacity="0.65"/>
<circle cx="248.65" cy="662.22" r="0.8" fill="#0072B5" fill-opacity="0.65"/>
<circle cx="246.36" cy="720.08" r="0.8" fill="#0072B5" fill-opacity="0.65"/>
<circle cx="251.86" cy="694.51" r="0.8" fill="#0072B5" fill-opacity="0.65"/>
<circle cx="251.47" cy="642.88" r="0.8" fill="#0072B5" fill-opacity="0.65"/>
<circle cx="248.24" cy="693.54" r="0.8" fill="#0072B5" fill-opacity="0.65"/>
<circle cx="246.63" cy="714.43" r="0.8" fill="#0072B5" fill-opacity="0.65"/>
<circle cx="251.99" cy="691.34" r="0.8" fill="#0072B5" fill-opacity="0.65"/>
<circle cx="250.36" cy="715.52" r="0.8" fill="#0072B5" fill-opacity="0.65"/>
<circle cx="246.66" cy="712.91" r="0.8" fill="#0072B5" fill-opacity="0.65"/>
<circle cx="247.96" cy="644.61" r="0.8" fill="#0072B5" fill-opacity="0.65"/>
<circle cx="247.08" cy="714.27" r="0.8" fill="#0072B5" fill-opacity="0.65"/>
<circle cx="251.57" cy="721.22" r="0.8" fill="#0072B5" fill-opacity="0.65"/>
<circle cx="247.74" cy="698.67" r="0.8" fill="#0072B5" fill-opacity="0.65"/>
<circle cx="252.39" cy="723.12" r="0.8" fill="#0072B5" fill-opacity="0.65"/>
<circle cx="251.3" cy="645.45" r="0.8" fill="#0072B5" fill-opacity="0.65"/>
<circle cx="246.92" cy="679.88" r="0.8" fill="#0072B5" fill-opacity="0.65"/>
<circle cx="250.93" cy="719.5" r="0.8" fill="#0072B5" fill-opacity="0.65"/>
<circle cx="248.95" cy="726.88" r="0.8" fill="#0072B5" fill-opacity="0.65"/>
<circle cx="251.28" cy="719.61" r="0.8" fill="#0072B5" fill-opacity="0.65"/>
<circle cx="251.82" cy="664.96" r="0.8" fill="#0072B5" fill-opacity="0.65"/>
<circle cx="248.21" cy="666.13" r="0.8" fill="#0072B5" fill-opacity="0.65"/>
<circle cx="246.94" cy="701.3" r="0.8" fill="#0072B5" fill-opacity="0.65"/>
<circle cx="252.6" cy="713.31" r="0.8" fill="#0072B5" fill-opacity="0.65"/>
<circle cx="249.15" cy="692.82" r="0.8" fill="#0072B5" fill-opacity="0.65"/>
<circle cx="252.49" cy="656.61" r="0.8" fill="#0072B5" fill-opacity="0.65"/>
<circle cx="250.91" cy="686.41" r="0.8" fill="#0072B5" fill-opacity="0.65"/>
<circle cx="251.22" cy="713.79" r="0.8" fill="#0072B5" fill-opacity="0.65"/>
<circle cx="251.83" cy="698.48" r="0.8" fill="#0072B5" fill-opacity="0.65"/>
<circle cx="250.5" cy="635.77" r="0.8" fill="#0072B5" fill-opacity="0.65"/>
<circle cx="249.34" cy="714.23" r="0.8" fill="#0072B5" fill-opacity="0.65"/>
<circle cx="246.71" cy="709.2" r="0.8" fill="#0072B5" fill-opacity="0.65"/>
<circle cx="250.96" cy="715.24" r="0.8" fill="#0072B5" fill-opacity="0.65"/>
<circle cx="249.18" cy="680.89" r="0.8" fill="#0072B5" fill-opacity="0.65"/>
<circle cx="249.73" cy="720.26" r="0.8" fill="#0072B5" fill-opacity="0.65"/>
<circle cx="252.48" cy="666.39" r="0.8" fill="#0072B5" fill-opacity="0.65"/>
<circle cx="247.19" cy="729.28" r="0.8" fill="#0072B5" fill-opacity="0.65"/>
<circle cx="251.38" cy="633.69" r="0.8" fill="#0072B5" fill-opacity="0.65"/>
<circle cx="246.64" cy="671.13" r="0.8" fill="#0072B5" fill-opacity="0.65"/>
<circle cx="250.99" cy="725.94" r="0.8" fill="#0072B5" fill-opacity="0.65"/>
<circle cx="251.67" cy="688.68" r="0.8" fill="#0072B5" fill-opacity="0.65"/>
<circle cx="248.07" cy="727.58" r="0.8" fill="#0072B5" fill-opacity="0.65"/>
<circle cx="249.96" cy="720.43" r="0.8" fill="#0072B5" fill-opacity="0.65"/>
<circle cx="252.75" cy="684.97" r="0.8" fill="#0072B5" fill-opacity="0.65"/>
<circle cx="250.56" cy="718.12" r="0.8" fill="#0072B5" fill-opacity="0.65"/>
<circle cx="249.94" cy="717.04" r="0.8" fill="#0072B5" fill-opacity="0.65"/>
<circle cx="248" cy="732.58" r="0.8" fill="#0072B5" fill-opacity="0.65"/>
<circle cx="246.74" cy="700.87" r="0.8" fill="#0072B5" fill-opacity="0.65"/>
<circle cx="248.71" cy="726.67" r="0.8" fill="#0072B5" fill-opacity="0.65"/>
<circle cx="249.07" cy="716.54" r="0.8" fill="#0072B5" fill-opacity="0.65"/>
<circle cx="247.68" cy="709.23" r="0.8" fill="#0072B5" fill-opacity="0.65"/>
<circle cx="248.4" cy="694.34" r="0.8" fill="#0072B5" fill-opacity="0.65"/>
<circle cx="247.25" cy="730.74" r="0.8" fill="#0072B5" fill-opacity="0.65"/>
<circle cx="251.02" cy="721.44" r="0.8" fill="#0072B5" fill-opacity="0.65"/>
<circle cx="250.77" cy="704.81" r="0.8" fill="#0072B5" fill-opacity="0.65"/>
<circle cx="247.92" cy="704.39" r="0.8" fill="#0072B5" fill-opacity="0.65"/>
<circle cx="247.95" cy="730.98" r="0.8" fill="#0072B5" fill-opacity="0.65"/>
<circle cx="249.75" cy="717.31" r="0.8" fill="#0072B5" fill-opacity="0.65"/>
<circle cx="249.29" cy="711.2" r="0.8" fill="#0072B5" fill-opacity="0.65"/>
<circle cx="252.53" cy="710.41" r="0.8" fill="#0072B5" fill-opacity="0.65"/>
<circle cx="248.67" cy="662.43" r="0.8" fill="#0072B5" fill-opacity="0.65"/>
<circle cx="248.33" cy="714.34" r="0.8" fill="#0072B5" fill-opacity="0.65"/>
<circle cx="252.19" cy="709.91" r="0.8" fill="#0072B5" fill-opacity="0.65"/>
<circle cx="247.29" cy="662.41" r="0.8" fill="#0072B5" fill-opacity="0.65"/>
<circle cx="250.07" cy="670.21" r="0.8" fill="#0072B5" fill-opacity="0.65"/>
<circle cx="248.55" cy="690.23" r="0.8" fill="#0072B5" fill-opacity="0.65"/>
<circle cx="251.73" cy="732.87" r="0.8" fill="#0072B5" fill-opacity="0.65"/>
<circle cx="249.97" cy="719.37" r="0.8" fill="#0072B5" fill-opacity="0.65"/>
<circle cx="251.37" cy="676.32" r="0.8" fill="#0072B5" fill-opacity="0.65"/>
<circle cx="247.47" cy="708.28" r="0.8" fill="#0072B5" fill-opacity="0.65"/>
<circle cx="250.75" cy="719.94" r="0.8" fill="#0072B5" fill-opacity="0.65"/>
<circle cx="250.3" cy="729.87" r="0.8" fill="#0072B5" fill-opacity="0.65"/>
<circle cx="249.39" cy="733.35" r="0.8" fill="#0072B5" fill-opacity="0.65"/>
<circle cx="251.41" cy="718.18" r="0.8" fill="#0072B5" fill-opacity="0.65"/>
<circle cx="251.84" cy="723.58" r="0.8" fill="#0072B5" fill-opacity="0.65"/>
<circle cx="247.11" cy="722.7" r="0.8" fill="#0072B5" fill-opacity="0.65"/>
<circle cx="248.26" cy="686.82" r="0.8" fill="#0072B5" fill-opacity="0.65"/>
<circle cx="248.73" cy="693.69" r="0.8" fill="#0072B5" fill-opacity="0.65"/>
<circle cx="247.71" cy="710.03" r="0.8" fill="#0072B5" fill-opacity="0.65"/>
<circle cx="246.75" cy="723.48" r="0.8" fill="#0072B5" fill-opacity="0.65"/>
<circle cx="268.09" cy="700.2" r="0.8" fill="#BC3C29" fill-opacity="0.65"/>
<circle cx="272.63" cy="685.71" r="0.8" fill="#BC3C29" fill-opacity="0.65"/>
<circle cx="269.65" cy="721.97" r="0.8" fill="#BC3C29" fill-opacity="0.65"/>
<circle cx="272.81" cy="699.61" r="0.8" fill="#BC3C29" fill-opacity="0.65"/>
<circle cx="271.08" cy="734.67" r="0.8" fill="#BC3C29" fill-opacity="0.65"/>
<circle cx="267.55" cy="676.5" r="0.8" fill="#BC3C29" fill-opacity="0.65"/>
<circle cx="269.22" cy="695.82" r="0.8" fill="#BC3C29" fill-opacity="0.65"/>
<circle cx="268.48" cy="679.27" r="0.8" fill="#BC3C29" fill-opacity="0.65"/>
<circle cx="272.95" cy="705.02" r="0.8" fill="#BC3C29" fill-opacity="0.65"/>
<circle cx="270.94" cy="716.51" r="0.8" fill="#BC3C29" fill-opacity="0.65"/>
<circle cx="267.34" cy="658.98" r="0.8" fill="#BC3C29" fill-opacity="0.65"/>
<circle cx="268.17" cy="694.97" r="0.8" fill="#BC3C29" fill-opacity="0.65"/>
<circle cx="269.43" cy="681.98" r="0.8" fill="#BC3C29" fill-opacity="0.65"/>
<circle cx="270.14" cy="716.56" r="0.8" fill="#BC3C29" fill-opacity="0.65"/>
<circle cx="270.86" cy="649.38" r="0.8" fill="#BC3C29" fill-opacity="0.65"/>
<circle cx="269.61" cy="699.97" r="0.8" fill="#BC3C29" fill-opacity="0.65"/>
<circle cx="269.38" cy="693.27" r="0.8" fill="#BC3C29" fill-opacity="0.65"/>
<circle cx="267.09" cy="675.07" r="0.8" fill="#BC3C29" fill-opacity="0.65"/>
<circle cx="270.87" cy="649.87" r="0.8" fill="#BC3C29" fill-opacity="0.65"/>
<circle cx="269.25" cy="683.41" r="0.8" fill="#BC3C29" fill-opacity="0.65"/>
<circle cx="267.19" cy="719.47" r="0.8" fill="#BC3C29" fill-opacity="0.65"/>
<circle cx="270.08" cy="707.39" r="0.8" fill="#BC3C29" fill-opacity="0.65"/>
<circle cx="273.56" cy="713.08" r="0.8" fill="#BC3C29" fill-opacity="0.65"/>
<circle cx="267.35" cy="723.92" r="0.8" fill="#BC3C29" fill-opacity="0.65"/>
<circle cx="268.01" cy="692.77" r="0.8" fill="#BC3C29" fill-opacity="0.65"/>
<circle cx="271.48" cy="694.4" r="0.8" fill="#BC3C29" fill-opacity="0.65"/>
<circle cx="268.85" cy="665.28" r="0.8" fill="#BC3C29" fill-opacity="0.65"/>
<circle cx="268.85" cy="699.4" r="0.8" fill="#BC3C29" fill-opacity="0.65"/>
<circle cx="270.35" cy="708" r="0.8" fill="#BC3C29" fill-opacity="0.65"/>
<circle cx="268.78" cy="717.52" r="0.8" fill="#BC3C29" fill-opacity="0.65"/>
<circle cx="270.81" cy="715.89" r="0.8" fill="#BC3C29" fill-opacity="0.65"/>
<circle cx="270.54" cy="721.44" r="0.8" fill="#BC3C29" fill-opacity="0.65"/>
<circle cx="273.37" cy="716.5" r="0.8" fill="#BC3C29" fill-opacity="0.65"/>
<circle cx="273.6" cy="648.54" r="0.8" fill="#BC3C29" fill-opacity="0.65"/>
<circle cx="267.28" cy="667.82" r="0.8" fill="#BC3C29" fill-opacity="0.65"/>
<circle cx="270.75" cy="709.63" r="0.8" fill="#BC3C29" fill-opacity="0.65"/>
<circle cx="272.14" cy="685.2" r="0.8" fill="#BC3C29" fill-opacity="0.65"/>
<circle cx="272.81" cy="705.11" r="0.8" fill="#BC3C29" fill-opacity="0.65"/>
<circle cx="272.16" cy="692.9" r="0.8" fill="#BC3C29" fill-opacity="0.65"/>
<circle cx="271.23" cy="675.15" r="0.8" fill="#BC3C29" fill-opacity="0.65"/>
<circle cx="271.24" cy="705.2" r="0.8" fill="#BC3C29" fill-opacity="0.65"/>
<circle cx="269.45" cy="683.81" r="0.8" fill="#BC3C29" fill-opacity="0.65"/>
<circle cx="268.91" cy="719.53" r="0.8" fill="#BC3C29" fill-opacity="0.65"/>
<circle cx="272.3" cy="715.92" r="0.8" fill="#BC3C29" fill-opacity="0.65"/>
<circle cx="272.81" cy="648" r="0.8" fill="#BC3C29" fill-opacity="0.65"/>
<circle cx="273.25" cy="642.62" r="0.8" fill="#BC3C29" fill-opacity="0.65"/>
<circle cx="271.55" cy="692.61" r="0.8" fill="#BC3C29" fill-opacity="0.65"/>
<circle cx="269.06" cy="724.82" r="0.8" fill="#BC3C29" fill-opacity="0.65"/>
<circle cx="272.09" cy="707.79" r="0.8" fill="#BC3C29" fill-opacity="0.65"/>
<circle cx="271.93" cy="665.8" r="0.8" fill="#BC3C29" fill-opacity="0.65"/>
<circle cx="270.41" cy="682.89" r="0.8" fill="#BC3C29" fill-opacity="0.65"/>
<circle cx="271.24" cy="714.17" r="0.8" fill="#BC3C29" fill-opacity="0.65"/>
<circle cx="269.36" cy="726.4" r="0.8" fill="#BC3C29" fill-opacity="0.65"/>
<circle cx="270.68" cy="697.93" r="0.8" fill="#BC3C29" fill-opacity="0.65"/>
<circle cx="269.73" cy="684.27" r="0.8" fill="#BC3C29" fill-opacity="0.65"/>
<circle cx="267.45" cy="685.11" r="0.8" fill="#BC3C29" fill-opacity="0.65"/>
<circle cx="269.28" cy="687.93" r="0.8" fill="#BC3C29" fill-opacity="0.65"/>
<circle cx="269.18" cy="698.52" r="0.8" fill="#BC3C29" fill-opacity="0.65"/>
<circle cx="273.57" cy="723.53" r="0.8" fill="#BC3C29" fill-opacity="0.65"/>
<circle cx="270.23" cy="718.55" r="0.8" fill="#BC3C29" fill-opacity="0.65"/>
<circle cx="269.47" cy="718.52" r="0.8" fill="#BC3C29" fill-opacity="0.65"/>
<circle cx="268.66" cy="707.45" r="0.8" fill="#BC3C29" fill-opacity="0.65"/>
<circle cx="268.6" cy="717.06" r="0.8" fill="#BC3C29" fill-opacity="0.65"/>
<circle cx="269.35" cy="688.38" r="0.8" fill="#BC3C29" fill-opacity="0.65"/>
<circle cx="267.95" cy="716.78" r="0.8" fill="#BC3C29" fill-opacity="0.65"/>
<circle cx="267.1" cy="713.73" r="0.8" fill="#BC3C29" fill-opacity="0.65"/>
<circle cx="272.8" cy="690.78" r="0.8" fill="#BC3C29" fill-opacity="0.65"/>
<circle cx="270.04" cy="676.05" r="0.8" fill="#BC3C29" fill-opacity="0.65"/>
<circle cx="269.99" cy="655.37" r="0.8" fill="#BC3C29" fill-opacity="0.65"/>
<circle cx="270.8" cy="720.61" r="0.8" fill="#BC3C29" fill-opacity="0.65"/>
<circle cx="269.05" cy="723.84" r="0.8" fill="#BC3C29" fill-opacity="0.65"/>
<circle cx="268.16" cy="675.67" r="0.8" fill="#BC3C29" fill-opacity="0.65"/>
<circle cx="267.49" cy="676.82" r="0.8" fill="#BC3C29" fill-opacity="0.65"/>
<circle cx="269.04" cy="716.52" r="0.8" fill="#BC3C29" fill-opacity="0.65"/>
<circle cx="269.09" cy="681.25" r="0.8" fill="#BC3C29" fill-opacity="0.65"/>
<circle cx="271.85" cy="710.56" r="0.8" fill="#BC3C29" fill-opacity="0.65"/>
<circle cx="270.69" cy="714.24" r="0.8" fill="#BC3C29" fill-opacity="0.65"/>
<circle cx="273.24" cy="693.77" r="0.8" fill="#BC3C29" fill-opacity="0.65"/>
<circle cx="269.3" cy="694.63" r="0.8" fill="#BC3C29" fill-opacity="0.65"/>
<circle cx="273.13" cy="675.08" r="0.8" fill="#BC3C29" fill-opacity="0.65"/>
<circle cx="270.9" cy="683.69" r="0.8" fill="#BC3C29" fill-opacity="0.65"/>
<circle cx="267.58" cy="657.32" r="0.8" fill="#BC3C29" fill-opacity="0.65"/>
<circle cx="268.23" cy="675.92" r="0.8" fill="#BC3C29" fill-opacity="0.65"/>
<circle cx="270.88" cy="711.17" r="0.8" fill="#BC3C29" fill-opacity="0.65"/>
<circle cx="273.57" cy="655.36" r="0.8" fill="#BC3C29" fill-opacity="0.65"/>
<circle cx="269.41" cy="716.96" r="0.8" fill="#BC3C29" fill-opacity="0.65"/>
<circle cx="272.16" cy="692.46" r="0.8" fill="#BC3C29" fill-opacity="0.65"/>
<circle cx="269.88" cy="726.32" r="0.8" fill="#BC3C29" fill-opacity="0.65"/>
<circle cx="272.78" cy="700.12" r="0.8" fill="#BC3C29" fill-opacity="0.65"/>
<circle cx="267.5" cy="713.21" r="0.8" fill="#BC3C29" fill-opacity="0.65"/>
<circle cx="270.25" cy="679.36" r="0.8" fill="#BC3C29" fill-opacity="0.65"/>
<circle cx="272.98" cy="729.39" r="0.8" fill="#BC3C29" fill-opacity="0.65"/>
<circle cx="268.87" cy="719.04" r="0.8" fill="#BC3C29" fill-opacity="0.65"/>
<circle cx="268.75" cy="684.44" r="0.8" fill="#BC3C29" fill-opacity="0.65"/>
<circle cx="267.2" cy="723.33" r="0.8" fill="#BC3C29" fill-opacity="0.65"/>
<circle cx="268.14" cy="692.56" r="0.8" fill="#BC3C29" fill-opacity="0.65"/>
<circle cx="268.82" cy="677.16" r="0.8" fill="#BC3C29" fill-opacity="0.65"/>
<circle cx="271.7" cy="699.26" r="0.8" fill="#BC3C29" fill-opacity="0.65"/>
<circle cx="268.49" cy="693.79" r="0.8" fill="#BC3C29" fill-opacity="0.65"/>
<circle cx="269.69" cy="677.02" r="0.8" fill="#BC3C29" fill-opacity="0.65"/>
<circle cx="268.37" cy="726.42" r="0.8" fill="#BC3C29" fill-opacity="0.65"/>
<circle cx="271.03" cy="705.86" r="0.8" fill="#BC3C29" fill-opacity="0.65"/>
<rect x="118.4" y="619.2" width="173.8" height="122.6" fill="none" stroke="#777" stroke-width="1.1"/>
<line x1="116.1" y1="636.7" x2="118.4" y2="636.7" stroke="#333" stroke-width="0.6"/>
<text x="114.5" y="639" font-size="6.5" text-anchor="end" fill="#4D4D4D" stroke="#4D4D4D" stroke-width="0.18">0</text>
<line x1="116.1" y1="671.6" x2="118.4" y2="671.6" stroke="#333" stroke-width="0.6"/>
<text x="114.5" y="673.9" font-size="6.5" text-anchor="end" fill="#4D4D4D" stroke="#4D4D4D" stroke-width="0.18">−2</text>
<line x1="116.1" y1="706.5" x2="118.4" y2="706.5" stroke="#333" stroke-width="0.6"/>
<text x="114.5" y="708.8" font-size="6.5" text-anchor="end" fill="#4D4D4D" stroke="#4D4D4D" stroke-width="0.18">−4</text>
<line x1="116.1" y1="741.4" x2="118.4" y2="741.4" stroke="#333" stroke-width="0.6"/>
<text x="114.5" y="743.7" font-size="6.5" text-anchor="end" fill="#4D4D4D" stroke="#4D4D4D" stroke-width="0.18">−6</text>
<line x1="151.1" y1="741.8" x2="151.1" y2="744.1" stroke="#333" stroke-width="0.6"/>
<text transform="translate(154.4,749.6) rotate(-45)" font-size="6.7" text-anchor="end" fill="#4D4D4D" stroke="#4D4D4D" stroke-width="0.18">Fecal valeric acid</text>
<line x1="205.7" y1="741.8" x2="205.7" y2="744.1" stroke="#333" stroke-width="0.6"/>
<text transform="translate(209,749.6) rotate(-45)" font-size="6.7" text-anchor="end" fill="#4D4D4D" stroke="#4D4D4D" stroke-width="0.18">Fecal isovaleric acid</text>
<line x1="260.5" y1="741.8" x2="260.5" y2="744.1" stroke="#333" stroke-width="0.6"/>
<text transform="translate(263.8,749.6) rotate(-45)" font-size="6.7" text-anchor="end" fill="#4D4D4D" stroke="#4D4D4D" stroke-width="0.18">Fecal hexanoic acid</text>
<text transform="translate(102.9,680.8) rotate(-90)" font-size="8.2" text-anchor="middle" fill="#000" stroke="#000" stroke-width="0.18">log transformed</text>
<text x="118.2" y="612.8" font-size="9.6" text-anchor="start" fill="#000" stroke="#000" stroke-width="0.18">Gut SCFA</text>
<text x="150.8" y="624" font-size="5.7" text-anchor="middle" fill="#000" stroke="#000" stroke-width="0.18">p = 0.005</text>
<path d="M145.3,628 V625.2 H156.4 V628" fill="none" stroke="#555" stroke-width="0.5"/>
<text x="205.2" y="638.9" font-size="5.7" text-anchor="middle" fill="#000" stroke="#000" stroke-width="0.18">p = 0.042</text>
<path d="M199.7,643.4 V640.6 H211.1 V643.4" fill="none" stroke="#555" stroke-width="0.5"/>
<text x="259.6" y="629.4" font-size="5.7" text-anchor="middle" fill="#000" stroke="#000" stroke-width="0.18">p = 0.035</text>
<path d="M254.1,633.8 V631 H265.5 V633.8" fill="none" stroke="#555" stroke-width="0.5"/>
<text x="305.2" y="672.9" font-size="8.1" text-anchor="start" fill="#000" stroke="#000" stroke-width="0.18">status</text>
<line x1="310.1" y1="678.2" x2="310.1" y2="685.8" stroke="#0072B5" stroke-width="0.8"/>
<rect x="306.6" y="679.5" width="7.2" height="5.0" fill="#fff" stroke="#0072B5" stroke-width="0.9"/>
<line x1="306.6" y1="682" x2="313.8" y2="682" stroke="#0072B5" stroke-width="0.9"/>
<circle cx="309.8" cy="680.6" r="0.8" fill="#0072B5" fill-opacity="0.6"/>
<circle cx="310.8" cy="683.6" r="0.8" fill="#0072B5" fill-opacity="0.6"/>
<text x="318.4" y="684.3" font-size="6.7" text-anchor="start" fill="#000" stroke="#000" stroke-width="0.18">Non−HIV</text>
<line x1="310.1" y1="687.2" x2="310.1" y2="694.8" stroke="#BC3C29" stroke-width="0.8"/>
<rect x="306.6" y="688.5" width="7.2" height="5.0" fill="#fff" stroke="#BC3C29" stroke-width="0.9"/>
<line x1="306.6" y1="691" x2="313.8" y2="691" stroke="#BC3C29" stroke-width="0.9"/>
<circle cx="309.8" cy="689.6" r="0.8" fill="#BC3C29" fill-opacity="0.6"/>
<circle cx="310.8" cy="692.6" r="0.8" fill="#BC3C29" fill-opacity="0.6"/>
<text x="318.4" y="693.3" font-size="6.7" text-anchor="start" fill="#000" stroke="#000" stroke-width="0.18">Pre−HIV</text>
<line x1="455.5" y1="641.77" x2="623.4" y2="641.77" stroke="#F3F3F3" stroke-width="0.5"/>
<line x1="455.5" y1="670.33" x2="623.4" y2="670.33" stroke="#F3F3F3" stroke-width="0.5"/>
<line x1="455.5" y1="698.88" x2="623.4" y2="698.88" stroke="#F3F3F3" stroke-width="0.5"/>
<line x1="455.5" y1="727.42" x2="623.4" y2="727.42" stroke="#F3F3F3" stroke-width="0.5"/>
<line x1="455.5" y1="627.5" x2="623.4" y2="627.5" stroke="#EBEBEB" stroke-width="0.7"/>
<line x1="455.5" y1="656.05" x2="623.4" y2="656.05" stroke="#EBEBEB" stroke-width="0.7"/>
<line x1="455.5" y1="684.6" x2="623.4" y2="684.6" stroke="#EBEBEB" stroke-width="0.7"/>
<line x1="455.5" y1="713.15" x2="623.4" y2="713.15" stroke="#EBEBEB" stroke-width="0.7"/>
<line x1="455.5" y1="741.7" x2="623.4" y2="741.7" stroke="#EBEBEB" stroke-width="0.7"/>
<line x1="539.5" y1="616.7" x2="539.5" y2="744.3" stroke="#EBEBEB" stroke-width="0.7"/>
<line x1="513.4" y1="630.5" x2="513.4" y2="662.4" stroke="#0072B5" stroke-width="0.8"/>
<line x1="513.4" y1="683.2" x2="513.4" y2="712.3" stroke="#0072B5" stroke-width="0.8"/>
<rect x="489.4" y="662.4" width="47.7" height="20.8" fill="#fff" fill-opacity="0.0" stroke="#0072B5" stroke-width="0.8"/>
<line x1="489.4" y1="672.7" x2="537.1" y2="672.7" stroke="#0072B5" stroke-width="1.28"/>
<line x1="566.1" y1="643.8" x2="566.1" y2="667.1" stroke="#BC3C29" stroke-width="0.8"/>
<line x1="566.1" y1="685.4" x2="566.1" y2="712.3" stroke="#BC3C29" stroke-width="0.8"/>
<rect x="542.1" y="667.1" width="47.7" height="18.3" fill="#fff" fill-opacity="0.0" stroke="#BC3C29" stroke-width="0.8"/>
<line x1="542.1" y1="677.7" x2="589.8" y2="677.7" stroke="#BC3C29" stroke-width="1.28"/>
<circle cx="517.16" cy="678.58" r="0.85" fill="#0072B5" fill-opacity="0.7"/>
<circle cx="513.22" cy="653.01" r="0.85" fill="#0072B5" fill-opacity="0.7"/>
<circle cx="506.8" cy="668.45" r="0.85" fill="#0072B5" fill-opacity="0.7"/>
<circle cx="517.73" cy="697.09" r="0.85" fill="#0072B5" fill-opacity="0.7"/>
<circle cx="507.3" cy="661.67" r="0.85" fill="#0072B5" fill-opacity="0.7"/>
<circle cx="517.6" cy="673.65" r="0.85" fill="#0072B5" fill-opacity="0.7"/>
<circle cx="508.82" cy="644.64" r="0.85" fill="#0072B5" fill-opacity="0.7"/>
<circle cx="511.09" cy="710.68" r="0.85" fill="#0072B5" fill-opacity="0.7"/>
<circle cx="517.43" cy="668.74" r="0.85" fill="#0072B5" fill-opacity="0.7"/>
<circle cx="508.37" cy="693.69" r="0.85" fill="#0072B5" fill-opacity="0.7"/>
<circle cx="508.48" cy="686.2" r="0.85" fill="#0072B5" fill-opacity="0.7"/>
<circle cx="513.63" cy="691.04" r="0.85" fill="#0072B5" fill-opacity="0.7"/>
<circle cx="516.53" cy="651.23" r="0.85" fill="#0072B5" fill-opacity="0.7"/>
<circle cx="518.16" cy="667.55" r="0.85" fill="#0072B5" fill-opacity="0.7"/>
<circle cx="516.05" cy="667.11" r="0.85" fill="#0072B5" fill-opacity="0.7"/>
<circle cx="519.64" cy="683.18" r="0.85" fill="#0072B5" fill-opacity="0.7"/>
<circle cx="513.3" cy="638.26" r="0.85" fill="#0072B5" fill-opacity="0.7"/>
<circle cx="519.69" cy="665.65" r="0.85" fill="#0072B5" fill-opacity="0.7"/>
<circle cx="507.6" cy="683.62" r="0.85" fill="#0072B5" fill-opacity="0.7"/>
<circle cx="509.5" cy="655.02" r="0.85" fill="#0072B5" fill-opacity="0.7"/>
<circle cx="513.77" cy="655.43" r="0.85" fill="#0072B5" fill-opacity="0.7"/>
<circle cx="510.46" cy="637.93" r="0.85" fill="#0072B5" fill-opacity="0.7"/>
<circle cx="516.6" cy="708.24" r="0.85" fill="#0072B5" fill-opacity="0.7"/>
<circle cx="515.34" cy="682.99" r="0.85" fill="#0072B5" fill-opacity="0.7"/>
<circle cx="513.72" cy="673.47" r="0.85" fill="#0072B5" fill-opacity="0.7"/>
<circle cx="518.21" cy="670.42" r="0.85" fill="#0072B5" fill-opacity="0.7"/>
<circle cx="514.24" cy="673.62" r="0.85" fill="#0072B5" fill-opacity="0.7"/>
<circle cx="510.76" cy="682.82" r="0.85" fill="#0072B5" fill-opacity="0.7"/>
<circle cx="511.74" cy="661.36" r="0.85" fill="#0072B5" fill-opacity="0.7"/>
<circle cx="518.23" cy="683.52" r="0.85" fill="#0072B5" fill-opacity="0.7"/>
<circle cx="519.01" cy="660.39" r="0.85" fill="#0072B5" fill-opacity="0.7"/>
<circle cx="509.32" cy="667.01" r="0.85" fill="#0072B5" fill-opacity="0.7"/>
<circle cx="518.31" cy="684.33" r="0.85" fill="#0072B5" fill-opacity="0.7"/>
<circle cx="519.96" cy="663.6" r="0.85" fill="#0072B5" fill-opacity="0.7"/>
<circle cx="513.74" cy="674.94" r="0.85" fill="#0072B5" fill-opacity="0.7"/>
<circle cx="514.42" cy="682.89" r="0.85" fill="#0072B5" fill-opacity="0.7"/>
<circle cx="509.21" cy="657.65" r="0.85" fill="#0072B5" fill-opacity="0.7"/>
<circle cx="513.9" cy="659.76" r="0.85" fill="#0072B5" fill-opacity="0.7"/>
<circle cx="513.44" cy="681.67" r="0.85" fill="#0072B5" fill-opacity="0.7"/>
<circle cx="514.87" cy="663.43" r="0.85" fill="#0072B5" fill-opacity="0.7"/>
<circle cx="506.79" cy="659.71" r="0.85" fill="#0072B5" fill-opacity="0.7"/>
<circle cx="519.97" cy="680.81" r="0.85" fill="#0072B5" fill-opacity="0.7"/>
<circle cx="513.62" cy="675.81" r="0.85" fill="#0072B5" fill-opacity="0.7"/>
<circle cx="512.01" cy="695.46" r="0.85" fill="#0072B5" fill-opacity="0.7"/>
<circle cx="517.61" cy="689.17" r="0.85" fill="#0072B5" fill-opacity="0.7"/>
<circle cx="514.28" cy="682.77" r="0.85" fill="#0072B5" fill-opacity="0.7"/>
<circle cx="513.27" cy="678.73" r="0.85" fill="#0072B5" fill-opacity="0.7"/>
<circle cx="516.07" cy="660.3" r="0.85" fill="#0072B5" fill-opacity="0.7"/>
<circle cx="507.32" cy="704.29" r="0.85" fill="#0072B5" fill-opacity="0.7"/>
<circle cx="513.94" cy="701.15" r="0.85" fill="#0072B5" fill-opacity="0.7"/>
<circle cx="512.19" cy="660.04" r="0.85" fill="#0072B5" fill-opacity="0.7"/>
<circle cx="519.8" cy="636.3" r="0.85" fill="#0072B5" fill-opacity="0.7"/>
<circle cx="519.33" cy="666.74" r="0.85" fill="#0072B5" fill-opacity="0.7"/>
<circle cx="510.17" cy="710.58" r="0.85" fill="#0072B5" fill-opacity="0.7"/>
<circle cx="513.02" cy="686.51" r="0.85" fill="#0072B5" fill-opacity="0.7"/>
<circle cx="508.18" cy="648.45" r="0.85" fill="#0072B5" fill-opacity="0.7"/>
<circle cx="512.47" cy="674.54" r="0.85" fill="#0072B5" fill-opacity="0.7"/>
<circle cx="517.82" cy="663.11" r="0.85" fill="#0072B5" fill-opacity="0.7"/>
<circle cx="519.01" cy="705.74" r="0.85" fill="#0072B5" fill-opacity="0.7"/>
<circle cx="513.07" cy="665.29" r="0.85" fill="#0072B5" fill-opacity="0.7"/>
<circle cx="510.84" cy="659.89" r="0.85" fill="#0072B5" fill-opacity="0.7"/>
<circle cx="509.08" cy="691.19" r="0.85" fill="#0072B5" fill-opacity="0.7"/>
<circle cx="515.05" cy="689.1" r="0.85" fill="#0072B5" fill-opacity="0.7"/>
<circle cx="519.35" cy="663.76" r="0.85" fill="#0072B5" fill-opacity="0.7"/>
<circle cx="508.21" cy="682.05" r="0.85" fill="#0072B5" fill-opacity="0.7"/>
<circle cx="517.31" cy="646.11" r="0.85" fill="#0072B5" fill-opacity="0.7"/>
<circle cx="506.72" cy="668.42" r="0.85" fill="#0072B5" fill-opacity="0.7"/>
<circle cx="509.12" cy="683.25" r="0.85" fill="#0072B5" fill-opacity="0.7"/>
<circle cx="509.58" cy="644.33" r="0.85" fill="#0072B5" fill-opacity="0.7"/>
<circle cx="516.02" cy="662.33" r="0.85" fill="#0072B5" fill-opacity="0.7"/>
<circle cx="510.91" cy="667.37" r="0.85" fill="#0072B5" fill-opacity="0.7"/>
<circle cx="511.37" cy="665.68" r="0.85" fill="#0072B5" fill-opacity="0.7"/>
<circle cx="515.08" cy="661.89" r="0.85" fill="#0072B5" fill-opacity="0.7"/>
<circle cx="507.87" cy="669.99" r="0.85" fill="#0072B5" fill-opacity="0.7"/>
<circle cx="516.63" cy="642.82" r="0.85" fill="#0072B5" fill-opacity="0.7"/>
<circle cx="508.12" cy="670.57" r="0.85" fill="#0072B5" fill-opacity="0.7"/>
<circle cx="513.55" cy="656.4" r="0.85" fill="#0072B5" fill-opacity="0.7"/>
<circle cx="509.91" cy="671.68" r="0.85" fill="#0072B5" fill-opacity="0.7"/>
<circle cx="509.17" cy="654.52" r="0.85" fill="#0072B5" fill-opacity="0.7"/>
<circle cx="513.82" cy="637.18" r="0.85" fill="#0072B5" fill-opacity="0.7"/>
<circle cx="512.51" cy="668.84" r="0.85" fill="#0072B5" fill-opacity="0.7"/>
<circle cx="511.66" cy="678.82" r="0.85" fill="#0072B5" fill-opacity="0.7"/>
<circle cx="512.19" cy="663.23" r="0.85" fill="#0072B5" fill-opacity="0.7"/>
<circle cx="513.81" cy="672.63" r="0.85" fill="#0072B5" fill-opacity="0.7"/>
<circle cx="508.64" cy="643.2" r="0.85" fill="#0072B5" fill-opacity="0.7"/>
<circle cx="509.26" cy="680.42" r="0.85" fill="#0072B5" fill-opacity="0.7"/>
<circle cx="515.24" cy="666.94" r="0.85" fill="#0072B5" fill-opacity="0.7"/>
<circle cx="515.34" cy="661.8" r="0.85" fill="#0072B5" fill-opacity="0.7"/>
<circle cx="513.81" cy="662.28" r="0.85" fill="#0072B5" fill-opacity="0.7"/>
<circle cx="518.32" cy="667.35" r="0.85" fill="#0072B5" fill-opacity="0.7"/>
<circle cx="514.96" cy="692.72" r="0.85" fill="#0072B5" fill-opacity="0.7"/>
<circle cx="518.39" cy="671.88" r="0.85" fill="#0072B5" fill-opacity="0.7"/>
<circle cx="509.66" cy="672.82" r="0.85" fill="#0072B5" fill-opacity="0.7"/>
<circle cx="516.77" cy="679.82" r="0.85" fill="#0072B5" fill-opacity="0.7"/>
<circle cx="517.75" cy="708.04" r="0.85" fill="#0072B5" fill-opacity="0.7"/>
<circle cx="519.04" cy="666.95" r="0.85" fill="#0072B5" fill-opacity="0.7"/>
<circle cx="510.82" cy="657.07" r="0.85" fill="#0072B5" fill-opacity="0.7"/>
<circle cx="510.81" cy="664.44" r="0.85" fill="#0072B5" fill-opacity="0.7"/>
<circle cx="519.32" cy="681.16" r="0.85" fill="#0072B5" fill-opacity="0.7"/>
<circle cx="509.45" cy="636.39" r="0.85" fill="#0072B5" fill-opacity="0.7"/>
<circle cx="520.38" cy="678.82" r="0.85" fill="#0072B5" fill-opacity="0.7"/>
<circle cx="518.83" cy="674.13" r="0.85" fill="#0072B5" fill-opacity="0.7"/>
<circle cx="508.28" cy="681.49" r="0.85" fill="#0072B5" fill-opacity="0.7"/>
<circle cx="509.75" cy="643.91" r="0.85" fill="#0072B5" fill-opacity="0.7"/>
<circle cx="516.57" cy="658.31" r="0.85" fill="#0072B5" fill-opacity="0.7"/>
<circle cx="510.03" cy="686.89" r="0.85" fill="#0072B5" fill-opacity="0.7"/>
<circle cx="507.76" cy="696.94" r="0.85" fill="#0072B5" fill-opacity="0.7"/>
<circle cx="518.05" cy="676.01" r="0.85" fill="#0072B5" fill-opacity="0.7"/>
<circle cx="512.3" cy="631.41" r="0.85" fill="#0072B5" fill-opacity="0.7"/>
<circle cx="517.46" cy="673.48" r="0.85" fill="#0072B5" fill-opacity="0.7"/>
<circle cx="508.16" cy="683.38" r="0.85" fill="#0072B5" fill-opacity="0.7"/>
<circle cx="512.04" cy="668.28" r="0.85" fill="#0072B5" fill-opacity="0.7"/>
<circle cx="515.99" cy="681.01" r="0.85" fill="#0072B5" fill-opacity="0.7"/>
<circle cx="506.65" cy="691.45" r="0.85" fill="#0072B5" fill-opacity="0.7"/>
<circle cx="509.21" cy="686.12" r="0.85" fill="#0072B5" fill-opacity="0.7"/>
<circle cx="515.95" cy="697.07" r="0.85" fill="#0072B5" fill-opacity="0.7"/>
<circle cx="519.16" cy="679.31" r="0.85" fill="#0072B5" fill-opacity="0.7"/>
<circle cx="519.96" cy="670.72" r="0.85" fill="#0072B5" fill-opacity="0.7"/>
<circle cx="508.02" cy="645.01" r="0.85" fill="#0072B5" fill-opacity="0.7"/>
<circle cx="513.48" cy="685.05" r="0.85" fill="#0072B5" fill-opacity="0.7"/>
<circle cx="517.01" cy="700.18" r="0.85" fill="#0072B5" fill-opacity="0.7"/>
<circle cx="513.44" cy="688.52" r="0.85" fill="#0072B5" fill-opacity="0.7"/>
<circle cx="516" cy="667.76" r="0.85" fill="#0072B5" fill-opacity="0.7"/>
<circle cx="509.05" cy="670.19" r="0.85" fill="#0072B5" fill-opacity="0.7"/>
<circle cx="507.39" cy="681.02" r="0.85" fill="#0072B5" fill-opacity="0.7"/>
<circle cx="507.89" cy="661.76" r="0.85" fill="#0072B5" fill-opacity="0.7"/>
<circle cx="506.92" cy="643.44" r="0.85" fill="#0072B5" fill-opacity="0.7"/>
<circle cx="514.12" cy="696.94" r="0.85" fill="#0072B5" fill-opacity="0.7"/>
<circle cx="513.61" cy="655.71" r="0.85" fill="#0072B5" fill-opacity="0.7"/>
<circle cx="514.36" cy="671.46" r="0.85" fill="#0072B5" fill-opacity="0.7"/>
<circle cx="508.45" cy="633.3" r="0.85" fill="#0072B5" fill-opacity="0.7"/>
<circle cx="508.98" cy="679.54" r="0.85" fill="#0072B5" fill-opacity="0.7"/>
<circle cx="509.25" cy="704.32" r="0.85" fill="#0072B5" fill-opacity="0.7"/>
<circle cx="518.16" cy="669.79" r="0.85" fill="#0072B5" fill-opacity="0.7"/>
<circle cx="520.26" cy="711.4" r="0.85" fill="#0072B5" fill-opacity="0.7"/>
<circle cx="519.38" cy="650.61" r="0.85" fill="#0072B5" fill-opacity="0.7"/>
<circle cx="507.73" cy="657.24" r="0.85" fill="#0072B5" fill-opacity="0.7"/>
<circle cx="507.27" cy="637.54" r="0.85" fill="#0072B5" fill-opacity="0.7"/>
<circle cx="519.72" cy="673.57" r="0.85" fill="#0072B5" fill-opacity="0.7"/>
<circle cx="512.87" cy="678.48" r="0.85" fill="#0072B5" fill-opacity="0.7"/>
<circle cx="508.6" cy="624.6" r="0.85" fill="#0072B5" fill-opacity="0.7"/>
<circle cx="513.3" cy="718.4" r="0.85" fill="#0072B5" fill-opacity="0.7"/>
<circle cx="518.5" cy="720.1" r="0.85" fill="#0072B5" fill-opacity="0.7"/>
<circle cx="515.9" cy="726.6" r="0.85" fill="#0072B5" fill-opacity="0.7"/>
<circle cx="569.96" cy="663.21" r="0.85" fill="#BC3C29" fill-opacity="0.7"/>
<circle cx="560.17" cy="681.67" r="0.85" fill="#BC3C29" fill-opacity="0.7"/>
<circle cx="562.09" cy="682.33" r="0.85" fill="#BC3C29" fill-opacity="0.7"/>
<circle cx="568.37" cy="705.92" r="0.85" fill="#BC3C29" fill-opacity="0.7"/>
<circle cx="560.24" cy="701.99" r="0.85" fill="#BC3C29" fill-opacity="0.7"/>
<circle cx="563.35" cy="679.2" r="0.85" fill="#BC3C29" fill-opacity="0.7"/>
<circle cx="569.25" cy="685.43" r="0.85" fill="#BC3C29" fill-opacity="0.7"/>
<circle cx="568.82" cy="650.74" r="0.85" fill="#BC3C29" fill-opacity="0.7"/>
<circle cx="563.06" cy="676.22" r="0.85" fill="#BC3C29" fill-opacity="0.7"/>
<circle cx="561.1" cy="671.39" r="0.85" fill="#BC3C29" fill-opacity="0.7"/>
<circle cx="564.11" cy="672.45" r="0.85" fill="#BC3C29" fill-opacity="0.7"/>
<circle cx="569.26" cy="650.64" r="0.85" fill="#BC3C29" fill-opacity="0.7"/>
<circle cx="564.23" cy="684.72" r="0.85" fill="#BC3C29" fill-opacity="0.7"/>
<circle cx="560.74" cy="675.35" r="0.85" fill="#BC3C29" fill-opacity="0.7"/>
<circle cx="569.03" cy="661.6" r="0.85" fill="#BC3C29" fill-opacity="0.7"/>
<circle cx="567.07" cy="648.12" r="0.85" fill="#BC3C29" fill-opacity="0.7"/>
<circle cx="571.96" cy="675.23" r="0.85" fill="#BC3C29" fill-opacity="0.7"/>
<circle cx="572.26" cy="661.6" r="0.85" fill="#BC3C29" fill-opacity="0.7"/>
<circle cx="571.89" cy="667.85" r="0.85" fill="#BC3C29" fill-opacity="0.7"/>
<circle cx="565.23" cy="681.31" r="0.85" fill="#BC3C29" fill-opacity="0.7"/>
<circle cx="570.34" cy="698.53" r="0.85" fill="#BC3C29" fill-opacity="0.7"/>
<circle cx="563.37" cy="669.56" r="0.85" fill="#BC3C29" fill-opacity="0.7"/>
<circle cx="563.55" cy="654.94" r="0.85" fill="#BC3C29" fill-opacity="0.7"/>
<circle cx="564.69" cy="682.78" r="0.85" fill="#BC3C29" fill-opacity="0.7"/>
<circle cx="572.19" cy="672.75" r="0.85" fill="#BC3C29" fill-opacity="0.7"/>
<circle cx="571.63" cy="685.4" r="0.85" fill="#BC3C29" fill-opacity="0.7"/>
<circle cx="562.58" cy="674.53" r="0.85" fill="#BC3C29" fill-opacity="0.7"/>
<circle cx="564.16" cy="644.54" r="0.85" fill="#BC3C29" fill-opacity="0.7"/>
<circle cx="564.22" cy="701.97" r="0.85" fill="#BC3C29" fill-opacity="0.7"/>
<circle cx="564.19" cy="680.79" r="0.85" fill="#BC3C29" fill-opacity="0.7"/>
<circle cx="564.64" cy="691.02" r="0.85" fill="#BC3C29" fill-opacity="0.7"/>
<circle cx="564.53" cy="708.36" r="0.85" fill="#BC3C29" fill-opacity="0.7"/>
<circle cx="561.83" cy="672.48" r="0.85" fill="#BC3C29" fill-opacity="0.7"/>
<circle cx="566.99" cy="657.67" r="0.85" fill="#BC3C29" fill-opacity="0.7"/>
<circle cx="570.26" cy="655.75" r="0.85" fill="#BC3C29" fill-opacity="0.7"/>
<circle cx="566.67" cy="666.72" r="0.85" fill="#BC3C29" fill-opacity="0.7"/>
<circle cx="570.81" cy="675.15" r="0.85" fill="#BC3C29" fill-opacity="0.7"/>
<circle cx="566.98" cy="686.83" r="0.85" fill="#BC3C29" fill-opacity="0.7"/>
<circle cx="561.57" cy="679" r="0.85" fill="#BC3C29" fill-opacity="0.7"/>
<circle cx="569.73" cy="682.41" r="0.85" fill="#BC3C29" fill-opacity="0.7"/>
<circle cx="571.43" cy="692.13" r="0.85" fill="#BC3C29" fill-opacity="0.7"/>
<circle cx="563.04" cy="673.44" r="0.85" fill="#BC3C29" fill-opacity="0.7"/>
<circle cx="559.41" cy="679.9" r="0.85" fill="#BC3C29" fill-opacity="0.7"/>
<circle cx="566.32" cy="673.04" r="0.85" fill="#BC3C29" fill-opacity="0.7"/>
<circle cx="566.72" cy="683.22" r="0.85" fill="#BC3C29" fill-opacity="0.7"/>
<circle cx="567.04" cy="677.81" r="0.85" fill="#BC3C29" fill-opacity="0.7"/>
<circle cx="572.63" cy="686.78" r="0.85" fill="#BC3C29" fill-opacity="0.7"/>
<circle cx="568.22" cy="661.94" r="0.85" fill="#BC3C29" fill-opacity="0.7"/>
<circle cx="570.36" cy="652.45" r="0.85" fill="#BC3C29" fill-opacity="0.7"/>
<circle cx="560" cy="709.95" r="0.85" fill="#BC3C29" fill-opacity="0.7"/>
<circle cx="566.76" cy="692.36" r="0.85" fill="#BC3C29" fill-opacity="0.7"/>
<circle cx="570.13" cy="685.19" r="0.85" fill="#BC3C29" fill-opacity="0.7"/>
<circle cx="560.28" cy="709.65" r="0.85" fill="#BC3C29" fill-opacity="0.7"/>
<circle cx="560.24" cy="672.06" r="0.85" fill="#BC3C29" fill-opacity="0.7"/>
<circle cx="569.42" cy="650.25" r="0.85" fill="#BC3C29" fill-opacity="0.7"/>
<circle cx="571.69" cy="668.32" r="0.85" fill="#BC3C29" fill-opacity="0.7"/>
<circle cx="560.29" cy="671.93" r="0.85" fill="#BC3C29" fill-opacity="0.7"/>
<circle cx="567.98" cy="695.08" r="0.85" fill="#BC3C29" fill-opacity="0.7"/>
<circle cx="561.11" cy="699.5" r="0.85" fill="#BC3C29" fill-opacity="0.7"/>
<circle cx="569.54" cy="679.72" r="0.85" fill="#BC3C29" fill-opacity="0.7"/>
<circle cx="568.19" cy="671.55" r="0.85" fill="#BC3C29" fill-opacity="0.7"/>
<circle cx="562.54" cy="658.64" r="0.85" fill="#BC3C29" fill-opacity="0.7"/>
<circle cx="562.19" cy="645.54" r="0.85" fill="#BC3C29" fill-opacity="0.7"/>
<circle cx="569.81" cy="669.63" r="0.85" fill="#BC3C29" fill-opacity="0.7"/>
<circle cx="566.4" cy="703.64" r="0.85" fill="#BC3C29" fill-opacity="0.7"/>
<circle cx="569.81" cy="670.91" r="0.85" fill="#BC3C29" fill-opacity="0.7"/>
<circle cx="564.62" cy="682.97" r="0.85" fill="#BC3C29" fill-opacity="0.7"/>
<circle cx="563.83" cy="673.37" r="0.85" fill="#BC3C29" fill-opacity="0.7"/>
<circle cx="572.66" cy="675.09" r="0.85" fill="#BC3C29" fill-opacity="0.7"/>
<circle cx="568.51" cy="711.43" r="0.85" fill="#BC3C29" fill-opacity="0.7"/>
<circle cx="566.01" cy="648.15" r="0.85" fill="#BC3C29" fill-opacity="0.7"/>
<circle cx="566.62" cy="688.73" r="0.85" fill="#BC3C29" fill-opacity="0.7"/>
<circle cx="569.19" cy="682.5" r="0.85" fill="#BC3C29" fill-opacity="0.7"/>
<circle cx="569.01" cy="685.8" r="0.85" fill="#BC3C29" fill-opacity="0.7"/>
<circle cx="571.91" cy="695.75" r="0.85" fill="#BC3C29" fill-opacity="0.7"/>
<circle cx="564.85" cy="671.06" r="0.85" fill="#BC3C29" fill-opacity="0.7"/>
<circle cx="570.67" cy="679.32" r="0.85" fill="#BC3C29" fill-opacity="0.7"/>
<circle cx="568.43" cy="683.44" r="0.85" fill="#BC3C29" fill-opacity="0.7"/>
<circle cx="571.05" cy="666.74" r="0.85" fill="#BC3C29" fill-opacity="0.7"/>
<circle cx="570.38" cy="698.04" r="0.85" fill="#BC3C29" fill-opacity="0.7"/>
<circle cx="570.77" cy="665.14" r="0.85" fill="#BC3C29" fill-opacity="0.7"/>
<circle cx="571.54" cy="679.69" r="0.85" fill="#BC3C29" fill-opacity="0.7"/>
<circle cx="572.51" cy="662.37" r="0.85" fill="#BC3C29" fill-opacity="0.7"/>
<circle cx="568.06" cy="677.59" r="0.85" fill="#BC3C29" fill-opacity="0.7"/>
<circle cx="566.43" cy="681.92" r="0.85" fill="#BC3C29" fill-opacity="0.7"/>
<circle cx="569.04" cy="676.86" r="0.85" fill="#BC3C29" fill-opacity="0.7"/>
<circle cx="570.33" cy="680.54" r="0.85" fill="#BC3C29" fill-opacity="0.7"/>
<circle cx="565" cy="685.86" r="0.85" fill="#BC3C29" fill-opacity="0.7"/>
<circle cx="564.99" cy="693.85" r="0.85" fill="#BC3C29" fill-opacity="0.7"/>
<circle cx="561.15" cy="670.27" r="0.85" fill="#BC3C29" fill-opacity="0.7"/>
<circle cx="561" cy="722.2" r="0.85" fill="#BC3C29" fill-opacity="0.7"/>
<circle cx="559.8" cy="738.5" r="0.85" fill="#BC3C29" fill-opacity="0.7"/>
<circle cx="563.8" cy="734.6" r="0.85" fill="#BC3C29" fill-opacity="0.7"/>
<circle cx="565.9" cy="735.5" r="0.85" fill="#BC3C29" fill-opacity="0.7"/>
<circle cx="569.4" cy="736.2" r="0.85" fill="#BC3C29" fill-opacity="0.7"/>
<circle cx="571.1" cy="712.3" r="0.85" fill="#BC3C29" fill-opacity="0.7"/>
<circle cx="561.5" cy="714" r="0.85" fill="#BC3C29" fill-opacity="0.7"/>
<rect x="455.5" y="616.7" width="167.9" height="127.6" fill="none" stroke="#777" stroke-width="1.1"/>
<line x1="453.2" y1="627.5" x2="455.5" y2="627.5" stroke="#333" stroke-width="0.6"/>
<text x="451.6" y="629.8" font-size="6.45" text-anchor="end" fill="#4D4D4D" stroke="#4D4D4D" stroke-width="0.18">−1.5</text>
<line x1="453.2" y1="656.05" x2="455.5" y2="656.05" stroke="#333" stroke-width="0.6"/>
<text x="451.6" y="658.35" font-size="6.45" text-anchor="end" fill="#4D4D4D" stroke="#4D4D4D" stroke-width="0.18">−2.0</text>
<line x1="453.2" y1="684.6" x2="455.5" y2="684.6" stroke="#333" stroke-width="0.6"/>
<text x="451.6" y="686.9" font-size="6.45" text-anchor="end" fill="#4D4D4D" stroke="#4D4D4D" stroke-width="0.18">−2.5</text>
<line x1="453.2" y1="713.15" x2="455.5" y2="713.15" stroke="#333" stroke-width="0.6"/>
<text x="451.6" y="715.45" font-size="6.45" text-anchor="end" fill="#4D4D4D" stroke="#4D4D4D" stroke-width="0.18">−3.0</text>
<line x1="453.2" y1="741.7" x2="455.5" y2="741.7" stroke="#333" stroke-width="0.6"/>
<text x="451.6" y="744" font-size="6.45" text-anchor="end" fill="#4D4D4D" stroke="#4D4D4D" stroke-width="0.18">−3.5</text>
<line x1="539.5" y1="744.3" x2="539.5" y2="746.6" stroke="#333" stroke-width="0.6"/>
<text transform="translate(543.1,752.9) rotate(-45)" font-size="6.9" text-anchor="end" fill="#4D4D4D" stroke="#4D4D4D" stroke-width="0.18">Plasma butyric acid</text>
<text transform="translate(435.2,680.6) rotate(-90)" font-size="8.6" text-anchor="middle" fill="#000" stroke="#000" stroke-width="0.18">log transformed</text>
<text x="455.3" y="609.9" font-size="9.6" text-anchor="start" fill="#000" stroke="#000" stroke-width="0.18">Plasma SCFA</text>
<text x="540" y="621.3" font-size="5.7" text-anchor="middle" fill="#000" stroke="#000" stroke-width="0.18">p = 0.002</text>
<path d="M525.3,625.5 V622.4 H553.7 V625.5" fill="none" stroke="#555" stroke-width="0.5"/>
<text x="636.3" y="672.3" font-size="8.1" text-anchor="start" fill="#000" stroke="#000" stroke-width="0.18">status</text>
<line x1="641.2" y1="677.6" x2="641.2" y2="685.2" stroke="#0072B5" stroke-width="0.8"/>
<rect x="637.7" y="678.9" width="7.2" height="5.0" fill="#fff" stroke="#0072B5" stroke-width="0.9"/>
<line x1="637.7" y1="681.4" x2="644.9" y2="681.4" stroke="#0072B5" stroke-width="0.9"/>
<circle cx="640.9" cy="680" r="0.8" fill="#0072B5" fill-opacity="0.6"/>
<circle cx="641.9" cy="683" r="0.8" fill="#0072B5" fill-opacity="0.6"/>
<text x="649.5" y="683.7" font-size="6.7" text-anchor="start" fill="#000" stroke="#000" stroke-width="0.18">Non−HIV</text>
<line x1="641.2" y1="686.6" x2="641.2" y2="694.2" stroke="#BC3C29" stroke-width="0.8"/>
<rect x="637.7" y="687.9" width="7.2" height="5.0" fill="#fff" stroke="#BC3C29" stroke-width="0.9"/>
<line x1="637.7" y1="690.4" x2="644.9" y2="690.4" stroke="#BC3C29" stroke-width="0.9"/>
<circle cx="640.9" cy="689" r="0.8" fill="#BC3C29" fill-opacity="0.6"/>
<circle cx="641.9" cy="692" r="0.8" fill="#BC3C29" fill-opacity="0.6"/>
<text x="649.5" y="692.7" font-size="6.7" text-anchor="start" fill="#000" stroke="#000" stroke-width="0.18">Pre−HIV</text>
<text x="0" y="15" font-size="21" text-anchor="start" fill="#000">A</text>
<text x="362.4" y="15" font-size="21" text-anchor="start" fill="#000">B</text>
<text x="0.2" y="295.8" font-size="21" text-anchor="start" fill="#000">C</text>
<text x="363.3" y="295.8" font-size="21" text-anchor="start" fill="#000">D</text>
<text x="0.2" y="630.8" font-size="21" text-anchor="start" fill="#000">E</text>
<text x="363.3" y="630.8" font-size="21" text-anchor="start" fill="#000">F</text>
</svg>
</body></html>
